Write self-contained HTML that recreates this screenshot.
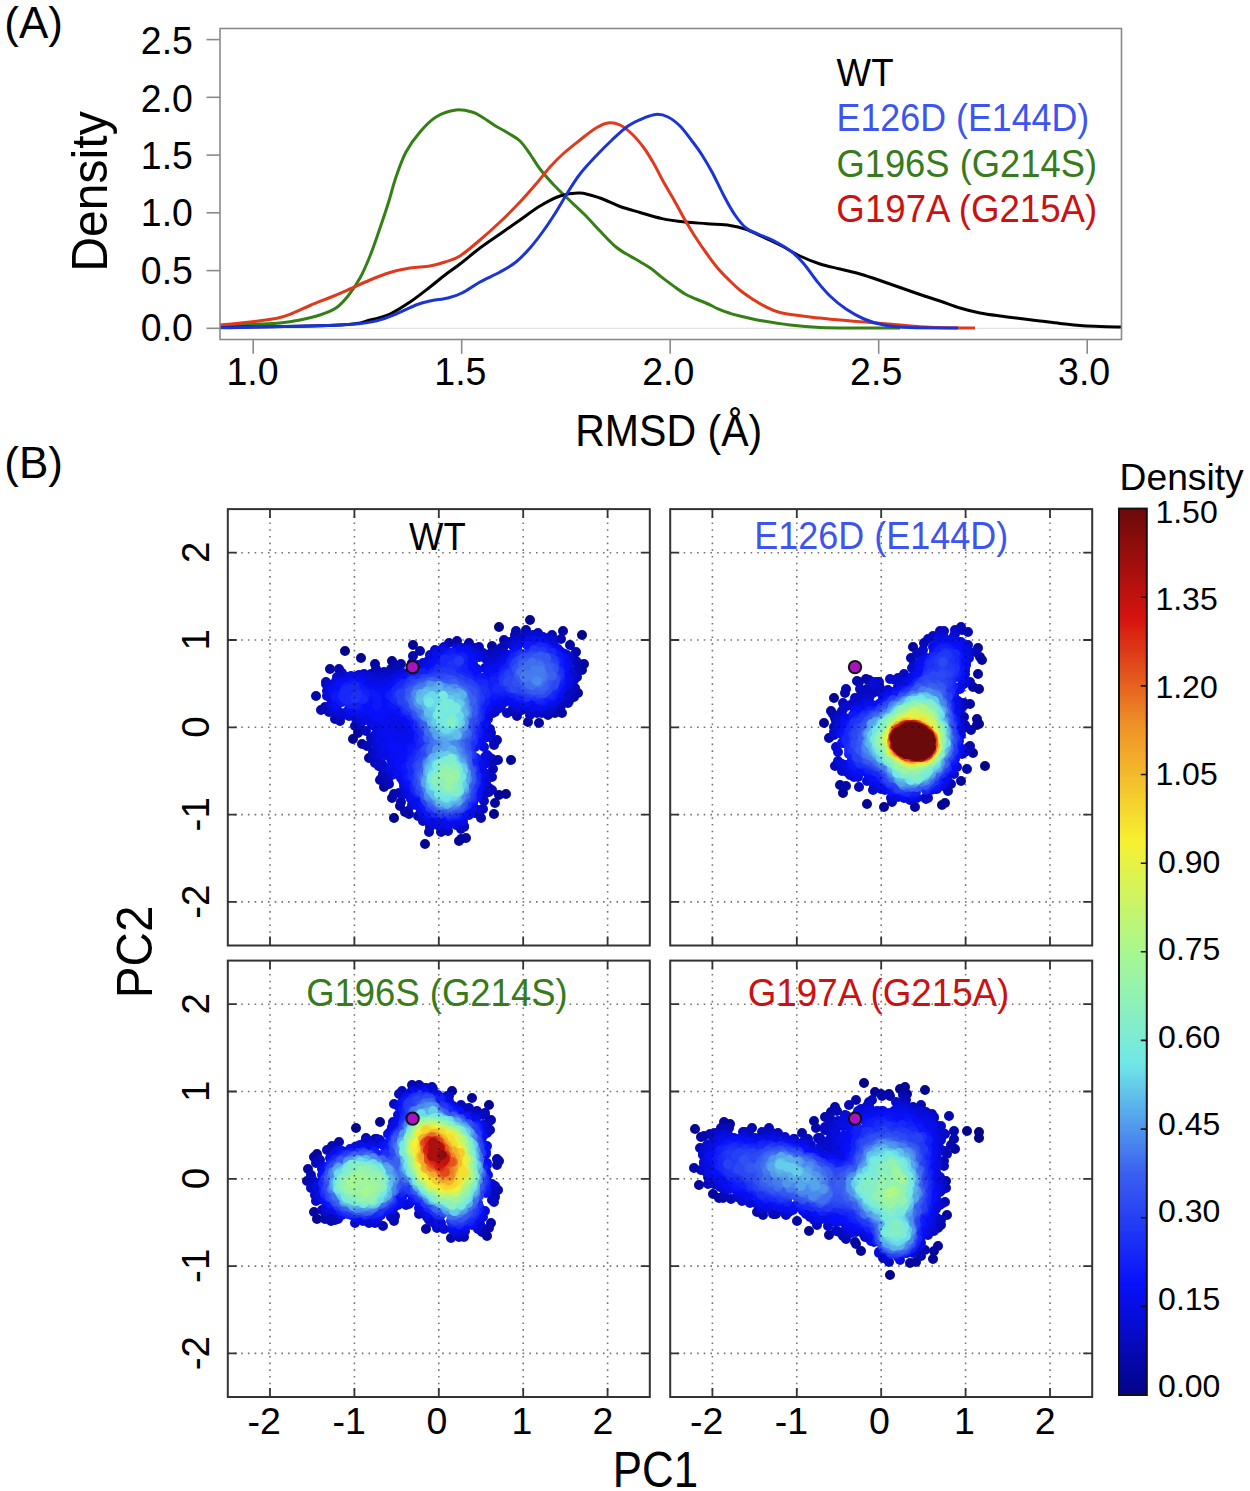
<!DOCTYPE html>
<html><head><meta charset="utf-8"><title>Figure</title>
<style>html,body{margin:0;padding:0;background:#fff;width:1250px;height:1491px;overflow:hidden}svg{display:block}text{font-family:"Liberation Sans",sans-serif}</style>
</head><body>
<svg width="1250" height="1491" viewBox="0 0 1250 1491" font-family="Liberation Sans, sans-serif"><rect x="0" y="0" width="1250" height="1491" fill="#fff"/>
<line x1="220.0" y1="328.3" x2="1121.5" y2="328.3" stroke="#e4e4e4" stroke-width="1.2"/>
<path d="M220.0 325.5C226.7 325.2 250.0 324.4 260.0 324.0C270.0 323.6 273.3 323.7 280.0 323.0C286.7 322.3 293.3 321.3 300.0 320.0C306.7 318.7 314.0 317.0 320.0 315.0C326.0 313.0 331.3 311.2 336.0 308.0C340.7 304.8 344.0 301.0 348.0 296.0C352.0 291.0 356.3 284.7 360.0 278.0C363.7 271.3 366.7 264.3 370.0 256.0C373.3 247.7 377.0 236.7 380.0 228.0C383.0 219.3 385.3 212.5 388.0 204.0C390.7 195.5 393.0 185.7 396.0 177.0C399.0 168.3 402.0 159.5 406.0 152.0C410.0 144.5 415.0 137.8 420.0 132.0C425.0 126.2 430.0 120.7 436.0 117.0C442.0 113.3 450.0 110.8 456.0 110.0C462.0 109.2 467.7 110.8 472.0 112.0C476.3 113.2 478.3 114.8 482.0 117.0C485.7 119.2 489.7 122.3 494.0 125.0C498.3 127.7 503.7 130.3 508.0 133.0C512.3 135.7 516.3 137.5 520.0 141.0C523.7 144.5 526.7 149.3 530.0 154.0C533.3 158.7 536.3 164.2 540.0 169.0C543.7 173.8 547.7 178.3 552.0 183.0C556.3 187.7 560.7 191.8 566.0 197.0C571.3 202.2 578.3 208.3 584.0 214.0C589.7 219.7 594.7 225.5 600.0 231.0C605.3 236.5 611.0 242.8 616.0 247.0C621.0 251.2 626.0 253.6 630.0 256.0C634.0 258.4 636.5 259.6 640.0 261.7C643.5 263.8 647.3 265.9 651.0 268.5C654.7 271.1 658.2 274.4 662.0 277.4C665.8 280.4 670.2 283.6 674.0 286.4C677.8 289.2 681.3 291.9 685.0 294.0C688.7 296.1 692.3 297.4 696.0 299.0C699.7 300.6 703.3 301.9 707.0 303.5C710.7 305.1 714.2 307.2 718.0 308.8C721.8 310.4 726.2 312.1 730.0 313.3C733.8 314.6 736.0 315.1 741.0 316.3C746.0 317.5 751.8 319.1 760.0 320.5C768.2 321.9 780.0 323.8 790.0 325.0C800.0 326.2 808.3 327.0 820.0 327.5C831.7 328.0 846.7 327.9 860.0 328.0C873.3 328.1 893.3 328.0 900.0 328.0" fill="none" stroke="#348015" stroke-width="3" stroke-linejoin="round"/>
<path d="M220.0 327.5C240.0 327.1 315.0 326.2 340.0 325.0C365.0 323.8 361.7 321.8 370.0 320.0C378.3 318.2 383.3 317.0 390.0 314.0C396.7 311.0 403.3 306.5 410.0 302.0C416.7 297.5 424.2 291.5 430.0 287.0C435.8 282.5 440.0 278.8 445.0 275.0C450.0 271.2 454.2 268.5 460.0 264.0C465.8 259.5 473.3 253.0 480.0 248.0C486.7 243.0 493.3 238.7 500.0 234.0C506.7 229.3 513.3 224.7 520.0 220.0C526.7 215.3 533.3 210.0 540.0 206.0C546.7 202.0 553.3 198.2 560.0 196.0C566.7 193.8 573.3 192.7 580.0 193.0C586.7 193.3 593.3 195.8 600.0 198.0C606.7 200.2 613.3 204.1 620.0 206.5C626.7 208.9 633.0 210.5 640.0 212.5C647.0 214.5 654.5 217.0 662.0 218.6C669.5 220.2 677.5 221.2 685.0 222.0C692.5 222.8 699.5 223.1 707.0 223.7C714.5 224.3 723.5 224.5 730.0 225.4C736.5 226.3 740.5 227.4 746.0 229.3C751.5 231.2 757.3 234.4 763.0 237.0C768.7 239.6 773.8 241.8 780.0 245.0C786.2 248.2 793.3 252.8 800.0 256.0C806.7 259.2 813.3 261.8 820.0 264.0C826.7 266.2 833.3 267.3 840.0 269.0C846.7 270.7 853.3 272.1 860.0 274.0C866.7 275.9 873.3 278.2 880.0 280.5C886.7 282.8 893.3 285.2 900.0 287.5C906.7 289.8 913.3 292.2 920.0 294.5C926.7 296.8 933.3 298.8 940.0 301.0C946.7 303.2 953.3 306.0 960.0 308.0C966.7 310.0 973.3 311.7 980.0 313.0C986.7 314.3 993.3 315.1 1000.0 316.0C1006.7 316.9 1013.3 317.6 1020.0 318.4C1026.7 319.2 1033.3 320.2 1040.0 321.0C1046.7 321.8 1053.3 322.7 1060.0 323.4C1066.7 324.1 1073.3 324.9 1080.0 325.4C1086.7 325.9 1093.2 326.1 1100.0 326.4C1106.8 326.7 1117.5 326.9 1121.0 327.0" fill="none" stroke="#000" stroke-width="3" stroke-linejoin="round"/>
<path d="M220.0 325.0C225.0 324.5 240.7 323.1 250.0 322.0C259.3 320.9 269.0 319.9 276.0 318.5C283.0 317.1 286.3 315.7 292.0 313.5C297.7 311.3 303.7 308.2 310.0 305.5C316.3 302.8 323.3 300.2 330.0 297.5C336.7 294.8 343.3 291.9 350.0 289.0C356.7 286.1 363.3 282.8 370.0 280.0C376.7 277.2 383.3 274.5 390.0 272.5C396.7 270.5 403.3 269.1 410.0 268.0C416.7 266.9 424.2 267.0 430.0 266.0C435.8 265.0 440.0 263.7 445.0 262.0C450.0 260.3 454.2 259.7 460.0 256.0C465.8 252.3 473.3 245.7 480.0 240.0C486.7 234.3 493.3 228.3 500.0 222.0C506.7 215.7 514.0 208.3 520.0 202.0C526.0 195.7 531.0 189.8 536.0 184.0C541.0 178.2 545.3 172.2 550.0 167.0C554.7 161.8 559.0 157.5 564.0 153.0C569.0 148.5 574.7 144.2 580.0 140.0C585.3 135.8 591.3 130.8 596.0 128.0C600.7 125.2 604.0 123.5 608.0 123.0C612.0 122.5 616.0 123.2 620.0 125.0C624.0 126.8 628.0 130.2 632.0 134.0C636.0 137.8 640.3 143.0 644.0 148.0C647.7 153.0 650.8 158.5 654.0 164.0C657.2 169.5 659.7 175.0 663.0 181.0C666.3 187.0 670.3 193.5 674.0 200.0C677.7 206.5 681.3 213.7 685.0 220.0C688.7 226.3 692.3 232.3 696.0 238.0C699.7 243.7 703.3 248.9 707.0 254.0C710.7 259.1 714.2 264.0 718.0 268.5C721.8 273.0 726.2 277.2 730.0 281.0C733.8 284.8 737.3 288.1 741.0 291.0C744.7 293.9 748.3 296.3 752.0 298.7C755.7 301.1 758.3 303.1 763.0 305.4C767.7 307.7 772.2 310.6 780.0 312.5C787.8 314.4 800.0 315.8 810.0 317.0C820.0 318.2 830.0 319.1 840.0 320.0C850.0 320.9 860.0 321.6 870.0 322.4C880.0 323.2 890.0 324.2 900.0 325.0C910.0 325.8 917.5 326.7 930.0 327.2C942.5 327.7 967.5 327.9 975.0 328.0" fill="none" stroke="#e0391c" stroke-width="3" stroke-linejoin="round"/>
<path d="M220.0 327.8C240.0 327.3 314.0 326.1 340.0 325.0C366.0 323.9 366.7 322.8 376.0 321.0C385.3 319.2 389.3 316.7 396.0 314.0C402.7 311.3 410.3 307.2 416.0 305.0C421.7 302.8 424.7 302.2 430.0 301.0C435.3 299.8 442.7 299.3 448.0 298.0C453.3 296.7 456.7 295.7 462.0 293.0C467.3 290.3 473.7 285.5 480.0 282.0C486.3 278.5 494.0 275.3 500.0 272.0C506.0 268.7 511.0 266.0 516.0 262.0C521.0 258.0 525.3 253.3 530.0 248.0C534.7 242.7 539.7 236.0 544.0 230.0C548.3 224.0 552.0 218.3 556.0 212.0C560.0 205.7 564.0 198.3 568.0 192.0C572.0 185.7 575.3 180.0 580.0 174.0C584.7 168.0 590.7 161.7 596.0 156.0C601.3 150.3 606.7 145.0 612.0 140.0C617.3 135.0 622.7 129.7 628.0 126.0C633.3 122.3 639.3 119.9 644.0 118.0C648.7 116.1 652.0 114.6 656.0 114.4C660.0 114.2 664.0 115.1 668.0 117.0C672.0 118.9 676.0 122.0 680.0 126.0C684.0 130.0 688.3 136.2 692.0 141.0C695.7 145.8 698.7 149.8 702.0 155.0C705.3 160.2 708.3 165.2 712.0 172.0C715.7 178.8 720.2 188.8 724.0 196.0C727.8 203.2 731.3 209.7 735.0 215.0C738.7 220.3 742.2 224.8 746.0 228.0C749.8 231.2 753.0 231.7 758.0 234.0C763.0 236.3 770.3 239.0 776.0 242.0C781.7 245.0 787.3 248.3 792.0 252.0C796.7 255.7 800.0 259.3 804.0 264.0C808.0 268.7 811.7 274.7 816.0 280.0C820.3 285.3 825.0 291.2 830.0 296.0C835.0 300.8 840.3 305.2 846.0 309.0C851.7 312.8 857.7 316.3 864.0 319.0C870.3 321.7 876.3 323.6 884.0 325.0C891.7 326.4 897.7 327.1 910.0 327.6C922.3 328.1 950.0 327.9 958.0 328.0" fill="none" stroke="#1b34d6" stroke-width="3" stroke-linejoin="round"/>
<rect x="220.0" y="28.5" width="901.5" height="311.0" fill="none" stroke="#8a8a8a" stroke-width="1.6"/>
<line x1="206.5" y1="328.3" x2="220.0" y2="328.3" stroke="#8a8a8a" stroke-width="1.6"/>
<text transform="translate(192.9 340.8) scale(0.970 1)" font-size="38.6" text-anchor="end">0.0</text>
<line x1="206.5" y1="270.6" x2="220.0" y2="270.6" stroke="#8a8a8a" stroke-width="1.6"/>
<text transform="translate(192.9 283.5) scale(0.970 1)" font-size="38.6" text-anchor="end">0.5</text>
<line x1="206.5" y1="212.8" x2="220.0" y2="212.8" stroke="#8a8a8a" stroke-width="1.6"/>
<text transform="translate(192.9 226.2) scale(0.970 1)" font-size="38.6" text-anchor="end">1.0</text>
<line x1="206.5" y1="155.1" x2="220.0" y2="155.1" stroke="#8a8a8a" stroke-width="1.6"/>
<text transform="translate(192.9 168.9) scale(0.970 1)" font-size="38.6" text-anchor="end">1.5</text>
<line x1="206.5" y1="97.3" x2="220.0" y2="97.3" stroke="#8a8a8a" stroke-width="1.6"/>
<text transform="translate(192.9 111.7) scale(0.970 1)" font-size="38.6" text-anchor="end">2.0</text>
<line x1="206.5" y1="39.6" x2="220.0" y2="39.6" stroke="#8a8a8a" stroke-width="1.6"/>
<text transform="translate(192.9 54.4) scale(0.970 1)" font-size="38.6" text-anchor="end">2.5</text>
<line x1="253.2" y1="339.5" x2="253.2" y2="353.8" stroke="#8a8a8a" stroke-width="1.6"/>
<text transform="translate(252.5 385.2) scale(0.980 1)" font-size="38.3" text-anchor="middle">1.0</text>
<line x1="461.7" y1="339.5" x2="461.7" y2="353.8" stroke="#8a8a8a" stroke-width="1.6"/>
<text transform="translate(460.4 385.2) scale(0.980 1)" font-size="38.3" text-anchor="middle">1.5</text>
<line x1="670.2" y1="339.5" x2="670.2" y2="353.8" stroke="#8a8a8a" stroke-width="1.6"/>
<text transform="translate(668.3 385.2) scale(0.980 1)" font-size="38.3" text-anchor="middle">2.0</text>
<line x1="878.7" y1="339.5" x2="878.7" y2="353.8" stroke="#8a8a8a" stroke-width="1.6"/>
<text transform="translate(876.2 385.2) scale(0.980 1)" font-size="38.3" text-anchor="middle">2.5</text>
<line x1="1087.2" y1="339.5" x2="1087.2" y2="353.8" stroke="#8a8a8a" stroke-width="1.6"/>
<text transform="translate(1084.1 385.2) scale(0.980 1)" font-size="38.3" text-anchor="middle">3.0</text>
<text transform="translate(575.21 445.50) scale(0.9440 1)" font-size="43.5">RMSD (&#197;)</text>
<text transform="translate(106.50 271.65) rotate(-90) scale(0.9640 1)" font-size="49.9">Density</text>
<text transform="translate(836.62 85.60) scale(0.9460 1)" font-size="38.7">WT</text>
<text transform="translate(836.53 131.20) scale(0.9280 1)" font-size="38.6" fill="#3d55ee">E126D (E144D)</text>
<text transform="translate(836.38 176.80) scale(0.9400 1)" font-size="38.7" fill="#377b1b">G196S (G214S)</text>
<text transform="translate(836.37 222.40) scale(0.9480 1)" font-size="38.7" fill="#cc1111">G197A (G215A)</text>
<text transform="translate(4.36 38.00) scale(1.0000 1)" font-size="44">(A)</text>
<text transform="translate(4.36 478.00) scale(1.0000 1)" font-size="44">(B)</text>
<g>
<g fill="none" stroke-width="10" stroke-linecap="round"><path d="M345 651h0M582 635h0M499 627h0" stroke="#040487"/><path d="M506 794h0M394 818h0M361 658h0M511 760h0M413 645h0M425 844h0M353 739h0M530 620h0M494 814h0M499 795h0M392 661h0" stroke="#040592"/><path d="M466 838h0M495 803h0M563 631h0M459 841h0M584 664h0M392 798h0M375 664h0M384 787h0M461 839h0M528 722h0M539 723h0M380 780h0M330 669h0M492 646h0M362 744h0M582 670h0M400 806h0M369 758h0M578 693h0M562 713h0M358 733h0" stroke="#05069e"/><path d="M405 812h0M413 656h0M504 640h0M321 710h0M395 665h0M498 760h0M381 779h0M516 631h0M576 652h0M420 651h0M394 794h0M429 832h0M401 664h0M481 818h0M517 716h0M316 696h0M574 697h0M457 641h0M401 802h0M409 814h0M339 669h0M376 669h0M391 669h0M568 703h0M548 715h0M577 662h0M526 630h0M570 645h0M469 643h0M555 713h0M408 811h0M335 719h0" stroke="#0508aa"/><path d="M373 759h0M569 701h0M492 790h0M507 713h0M494 761h0M340 721h0M367 746h0M493 769h0M479 647h0M515 635h0M577 670h0M570 697h0M340 720h0M514 712h0M389 784h0M497 740h0M515 636h0M325 709h0M491 653h0M384 776h0M496 741h0M492 777h0M494 745h0M397 668h0M497 652h0M501 648h0M388 781h0M355 726h0M461 829h0M384 672h0M399 793h0M502 648h0M577 677h0M376 763h0M575 688h0M575 660h0M483 809h0M492 759h0M375 763h0M561 639h0M374 758h0M449 643h0M325 707h0M561 706h0M492 763h0M383 774h0M489 792h0M489 788h0M493 761h0M552 635h0M412 663h0M464 827h0M329 712h0M494 742h0M377 672h0M384 773h0M373 755h0M469 645h0M530 715h0M379 766h0M376 760h0M441 832h0M383 673h0M503 648h0M576 677h0M526 634h0M448 831h0M565 701h0M526 633h0" stroke="#0609b5"/><path d="M510 642h0M378 764h0M497 654h0M379 766h0M538 633h0M382 673h0M497 655h0M430 827h0M378 674h0M371 674h0M482 653h0M574 678h0M521 710h0M326 682h0M525 634h0M487 792h0M373 752h0M326 684h0M484 801h0M342 673h0M495 656h0M551 711h0M389 674h0M333 712h0M509 643h0M383 675h0M574 680h0M464 826h0M483 653h0M380 765h0M360 725h0M475 648h0M476 813h0M423 821h0M542 713h0M379 764h0M513 708h0M570 690h0M486 793h0M567 695h0M489 757h0M342 673h0M366 731h0M567 696h0M418 816h0M537 713h0M522 710h0M340 716h0M519 638h0M371 738h0M491 733h0M364 674h0M383 768h0" stroke="#060ac0"/><path d="M535 711h0M386 678h0M376 756h0M488 660h0M475 813h0M536 712h0M495 712h0M486 779h0M490 729h0M337 677h0M504 653h0M332 710h0M373 676h0M478 810h0M383 677h0M486 782h0M382 764h0M435 650h0M539 710h0M493 713h0M533 635h0M486 659h0M487 755h0M486 760h0M439 826h0M356 719h0M405 794h0M368 676h0M418 665h0M512 644h0M570 659h0M340 715h0M540 710h0M388 678h0M444 647h0M548 638h0M567 655h0M573 675h0M357 719h0M501 706h0M486 774h0M456 825h0M476 810h0M392 775h0M363 675h0M496 661h0M530 710h0M396 675h0M366 676h0M493 711h0M543 637h0M570 684h0M483 657h0M447 826h0M367 677h0M427 819h0M500 708h0M412 805h0M486 782h0M572 674h0M375 742h0M357 676h0M359 675h0M567 656h0M526 638h0M484 779h0M356 719h0M372 679h0M430 655h0M553 705h0M488 732h0M572 676h0M531 637h0M423 663h0M562 698h0M377 749h0M327 691h0" stroke="#060bcc"/><path d="M347 715h0M479 655h0M485 764h0M484 773h0M377 747h0M433 824h0M518 707h0M363 721h0M553 641h0M391 772h0M517 642h0M362 677h0M349 716h0M513 646h0M474 652h0M488 737h0M554 642h0M375 735h0M379 680h0M503 658h0M403 673h0M394 774h0M497 707h0M429 821h0M425 663h0M419 667h0M490 665h0M407 792h0M485 757h0M530 707h0M358 676h0M330 685h0M404 786h0M560 698h0M566 660h0M406 792h0M364 678h0M479 657h0M498 705h0M381 755h0M397 676h0M377 735h0M327 696h0M392 679h0M555 702h0M345 713h0M422 666h0M533 639h0M485 737h0M338 711h0M428 661h0M389 769h0M406 792h0M361 718h0M413 802h0M496 706h0M439 824h0M439 824h0M455 823h0M565 654h0M527 707h0M552 705h0M554 701h0M423 814h0M378 736h0M462 648h0M482 784h0M569 678h0M569 667h0M395 730h0M497 663h0M411 799h0M407 790h0M424 666h0M331 704h0M488 719h0M431 820h0M364 679h0M378 746h0M374 726h0M377 742h0M457 648h0M469 815h0M485 727h0M550 643h0M421 811h0M336 681h0M382 727h0M357 678h0M464 649h0M468 649h0M527 640h0M332 703h0M419 668h0M421 812h0M348 677h0M484 747h0M532 707h0M482 775h0M485 668h0M404 732h0M393 723h0M379 682h0M465 649h0M513 703h0" stroke="#070cd8"/><path d="M351 676h0M552 703h0M448 825h0M543 706h0M463 821h0M476 655h0M568 681h0M396 725h0M394 723h0M411 798h0M451 823h0M380 740h0M379 729h0M379 733h0M367 682h0M494 667h0M416 805h0M385 755h0M476 657h0M553 701h0M459 821h0M402 719h0M423 812h0M558 649h0M388 682h0M361 679h0M517 645h0M392 728h0M534 707h0M568 678h0M388 723h0M486 723h0M482 776h0M541 707h0M396 770h0M482 770h0M396 771h0M561 652h0M566 661h0M369 680h0M377 683h0M369 720h0M517 702h0M335 707h0M525 643h0M371 723h0M513 703h0M403 722h0M503 702h0M440 823h0M441 650h0M394 727h0M409 728h0M378 724h0M518 645h0M407 722h0M470 813h0M472 809h0M404 725h0M390 725h0M531 642h0M481 785h0M505 702h0M546 705h0M404 730h0M436 654h0M425 813h0M490 668h0M382 741h0M401 778h0M408 787h0M355 679h0M385 724h0M482 766h0M556 649h0M386 754h0M379 683h0M411 795h0M398 773h0M537 706h0M380 738h0M525 643h0M391 765h0M389 682h0M385 684h0M392 728h0M397 728h0M483 735h0M396 680h0M439 653h0M506 659h0M436 655h0M383 749h0M393 736h0M397 771h0M442 652h0M512 701h0M393 729h0M357 714h0M379 721h0M471 671h0M467 652h0M394 725h0M544 704h0M382 722h0M426 815h0M382 731h0M468 813h0M524 704h0M469 810h0M407 734h0M530 641h0M356 680h0M361 680h0M545 643h0M401 678h0M565 659h0M349 710h0M392 727h0M385 720h0M391 717h0M396 768h0M377 685h0M403 735h0M395 734h0M397 679h0M403 781h0M364 681h0M401 775h0M395 737h0M360 713h0M566 685h0M406 721h0M391 759h0M543 705h0M477 669h0M416 802h0M389 741h0M509 655h0M368 684h0M410 724h0M388 720h0M392 744h0M481 777h0M363 715h0M414 800h0M479 773h0M511 700h0M390 752h0M411 736h0M353 680h0M473 667h0M352 711h0M392 721h0" stroke="#070ee3"/><path d="M490 671h0M395 716h0M388 744h0M405 742h0M479 788h0M361 680h0M398 772h0M564 662h0M384 722h0M563 658h0M482 740h0M386 745h0M535 641h0M411 735h0M511 699h0M388 717h0M467 651h0M383 690h0M395 739h0M432 663h0M567 664h0M336 705h0M332 689h0M392 732h0M481 742h0M523 702h0M477 671h0M337 704h0M338 685h0M559 694h0M381 718h0M383 720h0M392 714h0M532 643h0M426 813h0M494 701h0M517 649h0M519 698h0M459 650h0M473 664h0M501 665h0M541 705h0M421 808h0M416 671h0M411 724h0M334 688h0M425 670h0M398 740h0M542 641h0M362 712h0M564 660h0M419 806h0M484 724h0M561 690h0M414 798h0M398 767h0M386 687h0M482 724h0M390 735h0M479 788h0M494 701h0M527 644h0M412 792h0M356 681h0M551 700h0M427 814h0M408 718h0M494 701h0M445 652h0M374 689h0M402 745h0M514 700h0M409 724h0M543 704h0M409 741h0M385 733h0M396 712h0M403 716h0M491 673h0M386 715h0M496 668h0M400 770h0M559 694h0M398 753h0M501 666h0M400 737h0M498 699h0M393 759h0M459 818h0M342 682h0M400 679h0M388 730h0M437 657h0M475 674h0M476 797h0M537 703h0M410 788h0M394 751h0M478 795h0M456 818h0M489 671h0M394 759h0M389 688h0M392 686h0M378 718h0M402 739h0M428 816h0M470 655h0M338 703h0M516 698h0M350 709h0M480 738h0M349 709h0M379 690h0M333 689h0M395 737h0M557 652h0M548 702h0M529 642h0M529 643h0M399 765h0M480 777h0M430 665h0M390 686h0M405 747h0M390 687h0M394 739h0M485 711h0M394 742h0M404 744h0M373 715h0M396 747h0M479 763h0M448 653h0M379 716h0M488 708h0M504 664h0M334 693h0M473 659h0M387 732h0M487 706h0M406 744h0M551 700h0M394 750h0M400 744h0M487 705h0M401 764h0M397 763h0M339 691h0M472 659h0M394 755h0M397 716h0M396 710h0M352 682h0M490 672h0M376 688h0M387 719h0M378 715h0M565 666h0M384 701h0M499 699h0M333 693h0M464 653h0M401 680h0M406 677h0M495 674h0M459 651h0M510 698h0M411 748h0M479 784h0M390 713h0M413 730h0M415 739h0M492 702h0M427 813h0M435 665h0M340 684h0M560 689h0M397 745h0M391 713h0M400 682h0M385 690h0M395 754h0M399 739h0M497 672h0M483 713h0M559 692h0M475 672h0M418 672h0M398 759h0M397 754h0M391 686h0M466 670h0M418 800h0M413 792h0M385 690h0M473 804h0M405 749h0M389 744h0M536 703h0M479 765h0M376 691h0M401 755h0M434 665h0M395 683h0M475 796h0M496 692h0M565 676h0M483 714h0M393 748h0M397 742h0M386 713h0M479 737h0M469 661h0M484 725h0M415 736h0M449 653h0M371 710h0M496 672h0M390 708h0M487 704h0M504 695h0M393 711h0M403 715h0M412 721h0M382 708h0M405 750h0M506 664h0M403 679h0M372 692h0M460 816h0M470 660h0M472 806h0M477 797h0M505 664h0M397 750h0M393 741h0M386 711h0M473 673h0M401 747h0M363 709h0M372 690h0M407 714h0M474 675h0M391 685h0M395 743h0M374 713h0M535 643h0M383 699h0M454 652h0M562 662h0M407 748h0" stroke="#080fee"/><path d="M369 691h0M483 711h0M368 711h0M371 692h0M397 709h0M561 657h0M478 775h0M562 681h0M394 685h0M517 698h0M473 671h0M422 672h0M466 661h0M348 683h0M485 677h0M469 664h0M352 682h0M492 699h0M355 707h0M380 716h0M337 691h0M358 709h0M564 670h0M375 700h0M471 659h0M382 713h0M560 687h0M402 750h0M399 747h0M472 802h0M554 652h0M401 758h0M432 669h0M553 650h0M490 676h0M414 743h0M404 770h0M402 755h0M476 792h0M492 698h0M493 689h0M472 674h0M350 682h0M393 705h0M552 698h0M399 764h0M399 711h0M409 748h0M389 699h0M406 774h0M403 713h0M561 664h0M408 776h0M385 691h0M408 782h0M406 777h0M378 715h0M369 690h0M503 692h0M402 760h0M365 708h0M383 696h0M371 703h0M469 659h0M489 677h0M528 702h0M378 711h0M470 804h0M496 696h0M410 752h0M492 697h0M474 800h0M479 679h0M464 813h0M366 690h0M413 675h0M410 751h0M492 692h0M481 679h0M477 795h0M412 751h0M339 688h0M479 733h0M365 705h0M336 699h0M497 696h0M557 691h0M481 715h0M438 816h0M477 743h0M411 753h0M559 689h0M435 667h0M386 703h0M406 749h0M486 706h0M489 674h0M377 693h0M371 700h0M393 690h0M400 710h0M503 693h0M493 695h0M450 818h0M499 694h0M523 699h0M489 700h0M486 677h0M392 747h0M340 685h0M364 708h0M503 671h0M417 744h0M342 688h0M478 784h0M476 765h0M469 663h0M385 705h0M391 701h0M369 696h0M546 698h0M516 697h0M481 717h0M405 755h0M476 746h0M385 709h0M513 655h0M412 747h0M393 704h0M486 700h0M416 746h0M360 685h0M381 714h0M404 751h0M437 662h0M387 691h0M377 708h0M497 693h0M421 674h0M342 686h0M497 696h0M498 696h0M413 724h0M378 708h0M337 692h0M415 676h0M512 659h0M465 672h0M395 708h0M487 700h0M499 692h0M390 699h0M481 716h0M416 726h0M562 671h0M562 680h0M544 647h0M364 708h0M410 758h0M475 796h0M373 703h0M546 698h0M463 660h0M393 706h0M351 706h0M420 744h0M383 712h0M384 709h0M517 652h0M371 696h0M402 752h0M405 714h0M506 695h0M375 706h0M496 695h0M558 691h0M480 715h0M437 666h0M412 749h0M377 707h0M469 805h0M461 654h0M393 692h0M496 694h0M373 705h0M371 708h0M447 658h0M370 701h0M397 686h0M370 703h0M467 663h0M445 659h0M395 688h0M447 817h0M422 803h0M487 692h0M380 700h0M549 698h0M377 707h0M362 689h0M497 679h0M499 692h0M349 684h0M475 743h0M476 763h0M392 704h0M549 649h0M546 646h0M478 678h0M410 773h0M481 716h0M560 683h0M562 666h0M404 711h0M336 696h0M494 681h0M339 696h0M521 697h0" stroke="#0810fa"/><path d="M498 692h0M554 694h0M458 815h0M372 694h0M554 653h0M480 717h0M404 712h0M414 676h0M366 695h0M479 708h0M462 657h0M416 759h0M419 739h0M394 703h0M377 698h0M551 696h0M485 684h0M400 683h0M511 662h0M494 690h0M358 687h0M365 699h0M424 805h0M417 729h0M429 813h0M353 684h0M542 648h0M357 686h0M393 704h0M491 687h0M395 705h0M543 701h0M478 729h0M490 690h0M468 675h0M490 694h0M411 758h0M480 711h0M492 693h0M424 805h0M544 700h0M475 747h0M417 792h0M427 809h0M462 665h0M528 646h0M449 656h0M494 695h0M392 693h0M560 684h0M558 656h0M492 687h0M543 649h0M409 775h0M443 659h0M476 758h0M511 661h0M478 734h0M474 744h0M411 678h0M497 677h0M429 811h0M342 702h0M363 691h0M482 682h0M453 815h0M415 753h0M480 715h0M524 699h0M503 693h0M358 706h0M409 777h0M437 670h0M481 678h0M412 749h0M505 669h0M449 655h0M353 704h0M489 685h0M336 696h0M419 746h0M483 680h0M411 771h0M480 714h0M532 647h0M459 814h0M506 668h0M560 662h0M459 671h0M464 664h0M531 647h0M500 686h0M494 678h0M538 646h0M560 679h0M559 661h0M492 693h0M473 799h0M377 705h0M552 692h0M560 662h0M495 686h0M435 673h0M365 695h0M501 685h0M357 705h0M548 649h0M486 686h0M460 658h0M491 691h0M363 693h0M488 696h0M452 653h0M494 691h0M477 726h0M355 704h0M473 680h0M493 690h0M485 697h0M406 767h0M493 681h0M557 660h0M418 740h0M556 656h0M390 695h0M474 763h0M413 759h0M560 684h0M481 708h0M397 688h0M505 691h0M531 648h0M412 755h0M453 656h0M415 723h0M361 700h0M454 815h0M481 679h0M497 680h0M411 774h0M538 700h0M448 657h0M346 688h0M484 686h0M477 726h0M412 679h0M429 810h0M500 685h0M437 672h0M443 669h0M457 668h0M365 692h0" stroke="#0d18f9"/><path d="M552 653h0M350 704h0M467 675h0M512 693h0M456 668h0M458 659h0M447 668h0M433 672h0M423 673h0M559 681h0M477 776h0M514 657h0M400 701h0M354 687h0M517 656h0M559 671h0M422 750h0M344 691h0M477 683h0M545 648h0M472 800h0M519 696h0M396 697h0M504 687h0M485 702h0M481 709h0M506 689h0M475 782h0M412 759h0M349 698h0M348 694h0M411 716h0M452 657h0M362 694h0M351 700h0M453 658h0M481 690h0M457 814h0M560 676h0M356 704h0M414 785h0M418 793h0M355 687h0M421 734h0M450 816h0M411 715h0M447 669h0M352 688h0M444 665h0M398 692h0M560 670h0M491 690h0M416 753h0M438 673h0M427 676h0M420 741h0M504 671h0M418 757h0M490 691h0M503 685h0M423 737h0M506 684h0M353 703h0M473 762h0M419 722h0M475 785h0M479 682h0M546 695h0M405 710h0M506 690h0M475 770h0M463 668h0M453 669h0M543 698h0M519 658h0M347 687h0M552 654h0M476 682h0M441 667h0M498 681h0M507 689h0M463 658h0M365 694h0M414 786h0M391 696h0M423 676h0M442 665h0M504 672h0M460 812h0M468 678h0M551 693h0M415 790h0M545 697h0M496 685h0M551 653h0M357 692h0M556 688h0M397 691h0M553 658h0M345 689h0M352 696h0M446 665h0M501 691h0M514 659h0M494 690h0M494 681h0M418 792h0M552 695h0M509 667h0M486 694h0M436 673h0M476 730h0M349 700h0M459 661h0M412 774h0M455 815h0M410 711h0M419 736h0M459 658h0M358 697h0M394 694h0M445 665h0M511 662h0M465 806h0M422 753h0M476 783h0M508 690h0M461 668h0M548 652h0M459 673h0M540 700h0M482 703h0M551 692h0M457 669h0M543 651h0M482 688h0" stroke="#1220f8"/><path d="M450 672h0M503 679h0M418 722h0M357 692h0M467 805h0M434 813h0M348 690h0M544 650h0M355 687h0M473 737h0M458 660h0M450 813h0M345 692h0M486 694h0M419 724h0M409 682h0M560 676h0M478 714h0M453 659h0M423 749h0M457 665h0M443 667h0M395 699h0M357 697h0M400 689h0M556 661h0M459 660h0M478 690h0M400 687h0M475 782h0M412 680h0M404 703h0M411 766h0M423 742h0M479 718h0M441 813h0M503 687h0M457 671h0M540 698h0M497 688h0M509 672h0M396 699h0M549 694h0M534 696h0M452 674h0M349 700h0M418 753h0M475 778h0M473 735h0M473 756h0M413 769h0M476 782h0M503 676h0M540 647h0M476 777h0M474 736h0M360 698h0M343 696h0M552 653h0M517 692h0M472 765h0M423 749h0M398 701h0M484 684h0M363 699h0M456 666h0M346 693h0M420 724h0M414 760h0M418 727h0M423 742h0M519 655h0M440 814h0M422 742h0M445 659h0M437 673h0M416 785h0M549 656h0M454 669h0M409 711h0M550 692h0M421 745h0M514 663h0M412 776h0M451 665h0M554 684h0M483 689h0M537 696h0M358 693h0M438 674h0M479 712h0M457 675h0M463 677h0M473 738h0M405 706h0M399 695h0M414 762h0M430 808h0M469 679h0M419 759h0M439 668h0M399 694h0M553 688h0M507 685h0M472 797h0M440 673h0M513 662h0M549 690h0M404 684h0M414 714h0M402 704h0M535 651h0M400 695h0M453 666h0M541 651h0M449 661h0M350 699h0M454 659h0M479 685h0M345 699h0M485 691h0M475 728h0M513 690h0M413 714h0M396 691h0M473 735h0M424 735h0M474 768h0M438 673h0M472 757h0M545 651h0M513 689h0M478 710h0M467 681h0M436 674h0M557 669h0M514 666h0M449 661h0M417 789h0M504 676h0M432 675h0M453 675h0M471 746h0M402 697h0M468 796h0M522 691h0M482 688h0M357 697h0M346 693h0M404 705h0M400 699h0M485 693h0" stroke="#1728f7"/><path d="M557 677h0M419 679h0M409 684h0M407 710h0M455 664h0M417 785h0M402 691h0M551 688h0M477 708h0M533 695h0M473 789h0M472 730h0M522 654h0M416 779h0M357 695h0M535 696h0M476 716h0M419 720h0M440 673h0M479 694h0M417 780h0M398 696h0M469 745h0M414 681h0M474 785h0M480 692h0M418 782h0M472 793h0M559 673h0M455 813h0M476 719h0M422 732h0M415 778h0M534 652h0M520 691h0M444 675h0M483 690h0M357 695h0M421 725h0M477 691h0M437 674h0M539 693h0M401 696h0M410 710h0M467 682h0M517 686h0M504 680h0M508 681h0M448 675h0M527 697h0M418 760h0M475 717h0M450 671h0M423 740h0M422 681h0M511 681h0M507 674h0M413 682h0M440 677h0M441 673h0M529 694h0M406 688h0M415 779h0M471 798h0M479 702h0M418 769h0M449 814h0M416 716h0M467 683h0M450 669h0M511 687h0M427 750h0M480 699h0M431 807h0M473 686h0M528 654h0M477 694h0M355 698h0M411 684h0M535 653h0M473 685h0M470 796h0M508 682h0M473 741h0M478 697h0M414 687h0M407 707h0M419 792h0M554 663h0M419 720h0M556 669h0M544 652h0M476 709h0M408 709h0M402 700h0M422 753h0M544 652h0M452 665h0M433 678h0M510 676h0M512 683h0M528 689h0M403 701h0M470 748h0M539 694h0M472 687h0M477 696h0M417 779h0M422 729h0" stroke="#1c30f6"/><path d="M551 658h0M534 650h0M426 752h0M464 806h0M475 688h0M401 699h0M470 685h0M480 698h0M504 682h0M553 660h0M412 681h0M554 669h0M471 728h0M476 717h0M435 677h0M444 672h0M426 737h0M523 690h0M474 782h0M416 716h0M436 678h0M476 704h0M430 807h0M467 799h0M535 653h0M555 682h0M505 679h0M423 753h0M547 691h0M535 691h0M507 683h0M409 707h0M476 714h0M526 657h0M470 687h0M429 679h0M422 759h0M542 652h0M474 699h0M478 696h0M420 757h0M428 748h0M418 769h0M450 674h0M475 689h0M459 661h0M419 766h0M522 690h0M420 763h0M438 679h0M420 790h0M413 683h0M522 657h0M419 762h0M529 692h0M471 687h0M510 688h0M462 680h0M427 754h0M510 679h0M468 749h0M470 792h0M514 666h0M477 695h0M434 677h0M554 664h0M455 811h0M425 755h0M475 695h0M517 689h0M511 681h0M476 694h0M417 783h0M557 678h0M505 682h0M420 764h0M460 680h0M466 684h0M465 683h0M539 654h0M554 676h0M431 678h0M428 741h0M475 723h0M518 688h0M424 679h0M508 681h0M504 681h0M538 653h0M534 657h0M406 694h0M535 652h0M456 678h0M435 681h0M466 682h0M517 663h0M509 674h0M549 688h0M425 756h0M459 678h0M452 674h0M427 802h0M515 669h0M408 687h0M425 727h0M410 685h0M471 755h0M511 680h0M421 754h0M509 676h0M425 730h0M407 698h0M548 658h0M408 705h0M469 736h0M441 813h0M406 691h0M431 746h0M516 665h0M472 692h0M471 779h0M526 693h0M428 741h0" stroke="#2138f5"/><path d="M516 663h0M437 809h0M471 736h0M531 693h0M462 805h0M420 791h0M515 668h0M471 790h0M408 691h0M419 775h0M419 784h0M522 690h0M454 809h0M471 729h0M539 694h0M473 688h0M554 675h0M425 679h0M546 689h0M468 734h0M509 675h0M475 690h0M518 661h0M518 685h0M433 679h0M469 797h0M412 690h0M533 655h0M519 662h0M510 678h0M438 682h0M419 783h0M470 684h0M425 728h0M429 748h0M438 678h0M464 750h0M551 685h0M476 691h0M448 812h0M421 720h0M521 685h0M412 707h0M471 687h0M554 664h0M541 688h0M431 679h0M522 681h0M464 739h0M460 680h0M474 694h0M418 782h0M535 689h0M545 657h0M522 689h0M472 776h0M408 705h0M402 701h0M427 753h0M475 706h0M516 688h0M473 696h0M548 684h0M429 739h0M512 681h0M429 741h0M409 697h0M447 679h0M551 685h0M426 756h0M464 685h0M405 693h0M418 716h0M425 756h0M473 716h0M462 686h0M465 740h0M466 748h0M427 680h0M474 702h0M514 677h0M469 754h0M449 680h0M400 694h0M521 665h0M451 809h0M427 748h0M474 709h0M469 698h0M475 710h0M418 775h0M467 749h0M553 679h0M432 805h0M441 809h0M465 741h0M451 679h0M539 687h0M545 690h0M425 799h0M469 738h0M409 690h0M430 751h0M453 682h0M468 697h0M472 696h0M410 692h0M512 676h0M555 682h0M517 670h0M513 676h0M472 717h0M417 766h0M429 804h0M411 692h0M516 680h0M544 660h0M551 671h0M432 738h0M544 687h0M433 806h0M467 750h0M515 680h0M419 770h0M533 661h0M470 732h0M548 689h0M435 679h0M476 698h0M470 773h0M422 792h0" stroke="#2640f4"/><path d="M530 657h0M475 699h0M425 750h0M508 682h0M467 739h0M464 740h0M442 809h0M461 808h0M549 686h0M472 770h0M467 797h0M467 736h0M517 682h0M474 702h0M466 797h0M444 678h0M463 804h0M424 682h0M469 791h0M439 681h0M473 720h0M471 770h0M426 759h0M420 764h0M514 688h0M552 679h0M544 693h0M471 777h0M421 766h0M518 683h0M520 682h0M527 690h0M466 748h0M415 684h0M460 684h0M554 685h0M422 719h0M454 683h0M410 688h0M420 683h0M418 711h0M539 660h0M435 680h0M547 690h0M457 683h0M464 740h0M473 694h0M412 708h0M510 680h0M539 689h0M468 729h0M518 682h0M470 695h0M431 742h0M522 667h0M475 697h0M423 724h0M526 658h0M465 758h0M468 688h0M414 687h0M420 766h0M524 658h0M419 781h0M468 729h0M466 752h0M453 681h0M528 686h0M472 778h0M409 701h0M421 768h0M419 714h0M544 681h0M418 686h0M543 659h0M520 677h0M532 691h0M548 662h0M455 807h0M555 679h0M419 684h0M423 760h0M472 699h0M551 680h0M415 712h0M411 691h0M443 811h0M466 794h0M460 691h0M409 694h0M431 804h0M470 694h0M473 702h0M530 657h0M428 757h0M447 682h0M551 676h0M535 688h0M471 770h0M466 745h0M531 656h0M421 778h0M419 712h0M550 682h0M419 686h0M427 728h0M538 663h0M465 741h0M517 678h0M526 660h0M546 678h0M538 692h0M420 767h0M408 701h0" stroke="#2b48f3"/><path d="M532 689h0M547 682h0M552 670h0M422 773h0M423 780h0M447 683h0M520 666h0M468 695h0M473 714h0M528 659h0M470 776h0M532 684h0M554 669h0M428 748h0M435 741h0M533 688h0M432 740h0M434 739h0M522 673h0M465 798h0M463 734h0M542 684h0M413 689h0M533 687h0M468 690h0M454 681h0M468 730h0M523 659h0M425 782h0M417 688h0M417 715h0M535 663h0M431 735h0M420 773h0M529 660h0M524 662h0M469 695h0M467 729h0M468 720h0M535 689h0M517 682h0M538 660h0M432 739h0M432 752h0M545 682h0M439 808h0M535 686h0M423 766h0M421 716h0M466 745h0M544 662h0M461 685h0M415 689h0M457 808h0M536 688h0M520 667h0M533 658h0M467 727h0M419 713h0M529 671h0M446 682h0M527 673h0M546 658h0M521 682h0M522 661h0M450 683h0M448 680h0M450 680h0M464 755h0M547 677h0M530 676h0M545 687h0M422 683h0M527 666h0M548 675h0M519 679h0M525 663h0M541 687h0M428 738h0M551 667h0M421 766h0M468 725h0M531 688h0M529 663h0M541 656h0M547 683h0M473 692h0M423 719h0M413 701h0M427 685h0M463 802h0M468 764h0M432 682h0M442 809h0M464 737h0M424 714h0M450 810h0M460 747h0M519 681h0M420 684h0M535 689h0M425 764h0M425 767h0M549 671h0M420 776h0M464 799h0M520 670h0M450 809h0M466 737h0M421 787h0M462 752h0M529 683h0M409 697h0M533 688h0M442 684h0M525 688h0M459 689h0M527 660h0M466 797h0M430 800h0M427 728h0M547 681h0M427 796h0M534 664h0M517 669h0M430 682h0M465 689h0M464 759h0M541 684h0M460 803h0M469 702h0M527 665h0M468 770h0M471 714h0M469 706h0M436 808h0" stroke="#3050f2"/><path d="M541 690h0M461 749h0M547 669h0M429 729h0M524 678h0M463 736h0M523 672h0M539 666h0M423 780h0M541 690h0M431 799h0M426 719h0M473 707h0M429 682h0M471 709h0M546 676h0M538 662h0M428 796h0M545 686h0M526 662h0M470 771h0M550 670h0M533 686h0M527 686h0M470 774h0M546 658h0M531 689h0M539 657h0M420 687h0M428 738h0M446 807h0M420 710h0M422 687h0M465 698h0M545 665h0M410 692h0M543 671h0M467 754h0M529 662h0M436 752h0M523 673h0M419 712h0M426 795h0M460 806h0M425 795h0M534 690h0M414 691h0M473 712h0M542 671h0M425 723h0M410 697h0M521 672h0M529 678h0M469 785h0M422 778h0M541 662h0M534 680h0M531 679h0M535 687h0M527 676h0M424 718h0M434 736h0M536 675h0M433 753h0M528 685h0M464 730h0M426 725h0M410 697h0M421 708h0M436 686h0M457 804h0M451 684h0M420 714h0M466 791h0M422 685h0M467 764h0M459 805h0M436 683h0M527 685h0M549 667h0M467 789h0M416 691h0M436 683h0M542 676h0M530 669h0M463 745h0M531 666h0M467 762h0M530 672h0M521 677h0M429 720h0M442 806h0M523 673h0M546 668h0M435 747h0M471 781h0M532 665h0M544 660h0M430 752h0M525 668h0M417 707h0M425 789h0M526 668h0M428 720h0M472 708h0M457 742h0M525 674h0M543 665h0M466 760h0M432 735h0M418 687h0M465 690h0M464 725h0M463 736h0M519 675h0M540 678h0M465 753h0M416 708h0M422 775h0M453 806h0M536 658h0M431 728h0M426 715h0M527 679h0M432 804h0M447 808h0M464 729h0M466 759h0M530 665h0M533 680h0M538 663h0M444 684h0M471 712h0M536 670h0M421 709h0" stroke="#3558f1"/><path d="M425 784h0M464 757h0M543 680h0M468 702h0M539 668h0M426 722h0M452 741h0M439 744h0M452 689h0M535 671h0M415 690h0M425 770h0M523 665h0M433 748h0M429 729h0M527 666h0M463 757h0M428 796h0M543 669h0M455 737h0M539 668h0M439 685h0M437 683h0M423 715h0M427 761h0M461 738h0M416 699h0M539 663h0M525 665h0M456 686h0M431 749h0M458 802h0M438 740h0M525 675h0M420 688h0M467 734h0M455 805h0M467 773h0M469 777h0M543 683h0M467 700h0M461 757h0M434 803h0M460 689h0M423 715h0M535 668h0M458 753h0M472 700h0M422 775h0M468 768h0M528 678h0M448 747h0M414 693h0M433 734h0M539 686h0M461 798h0M466 789h0M411 698h0M416 701h0M459 752h0M457 801h0M453 734h0M431 722h0M460 735h0M531 683h0M462 752h0M467 695h0M533 678h0M547 673h0M545 678h0M433 685h0M533 667h0M454 684h0M531 674h0M467 760h0M424 781h0M423 783h0M432 802h0M524 675h0M461 737h0M536 677h0M470 778h0M441 737h0M422 687h0M439 740h0M531 669h0M461 696h0M460 691h0M426 723h0M431 731h0M417 691h0M432 682h0M539 681h0M547 668h0M542 686h0M413 697h0M470 702h0M547 668h0M465 774h0M434 684h0M435 751h0M467 698h0M447 804h0M418 707h0M435 734h0M443 750h0M461 750h0M455 741h0M467 778h0M462 699h0M453 684h0M423 783h0M466 709h0M442 685h0M414 694h0M461 733h0M464 735h0M435 803h0M418 696h0M527 669h0M465 705h0M420 688h0M446 742h0M441 688h0M459 737h0M439 738h0M456 746h0M525 681h0M425 780h0M546 673h0M536 672h0M533 678h0M425 776h0M424 780h0M430 723h0M444 745h0M426 772h0M426 767h0M547 672h0M438 806h0M435 755h0M534 680h0M536 673h0M524 681h0M420 710h0M420 710h0M440 740h0M552 676h0M533 662h0" stroke="#3a60f0"/><path d="M532 664h0M533 673h0M544 676h0M530 667h0M460 750h0M418 696h0M456 805h0M432 748h0M527 670h0M537 680h0M521 672h0M542 674h0M542 679h0M450 807h0M413 701h0M537 681h0M433 729h0M532 663h0M461 758h0M465 795h0M422 691h0M464 693h0M440 805h0M430 798h0M414 705h0M457 800h0M424 688h0M523 674h0M467 779h0M438 744h0M455 801h0M433 800h0M468 710h0M449 689h0M539 678h0M455 739h0M445 736h0M435 731h0M434 740h0M436 688h0M526 671h0M430 760h0M445 690h0M464 723h0M529 684h0M534 680h0M452 688h0M429 719h0M436 731h0M467 710h0M460 753h0M464 757h0M465 782h0M443 738h0M418 700h0M460 746h0M416 702h0M466 791h0M534 666h0M438 746h0M432 752h0M527 667h0M453 805h0M465 732h0M538 673h0M461 752h0M528 668h0M462 729h0M463 725h0M467 781h0M417 693h0M462 768h0M534 667h0M423 709h0M464 695h0M429 765h0M429 732h0M418 694h0M445 805h0M436 729h0M440 744h0M437 750h0M463 699h0M454 750h0M425 780h0M459 751h0M459 733h0M437 692h0M431 687h0M432 727h0M466 791h0M443 747h0M452 803h0M420 694h0M422 714h0M463 765h0M533 666h0M430 797h0M418 703h0M464 760h0M532 685h0M540 666h0M539 683h0M420 707h0M421 687h0M426 785h0M441 690h0M462 732h0M426 779h0M464 698h0M443 691h0M424 777h0M463 692h0M436 746h0M465 761h0M432 686h0M439 803h0M465 791h0M533 672h0M454 741h0M447 737h0M428 685h0M539 678h0M433 750h0" stroke="#3f6eef"/><path d="M453 804h0M456 741h0M431 762h0M445 749h0M525 677h0M418 695h0M439 798h0M445 739h0M444 799h0M434 725h0M465 779h0M449 804h0M451 742h0M541 671h0M535 678h0M425 778h0M434 720h0M416 699h0M450 694h0M461 757h0M446 740h0M429 764h0M420 704h0M525 677h0M465 767h0M535 670h0M430 795h0M442 804h0M418 703h0M466 772h0M442 737h0M427 789h0M427 764h0M429 797h0M464 699h0M438 750h0M438 746h0M467 715h0M425 698h0M432 797h0M420 709h0M434 757h0M460 759h0M461 799h0M434 687h0M455 803h0M459 691h0M427 780h0M455 729h0M533 678h0M419 695h0M454 801h0M462 762h0M428 771h0M442 804h0M427 693h0M461 799h0M461 726h0M436 733h0M453 740h0M461 735h0M422 705h0M464 719h0M419 691h0M458 752h0M432 725h0M442 689h0M438 753h0M439 735h0M541 677h0M431 761h0M457 699h0M462 701h0M428 701h0M421 707h0M463 725h0M438 741h0M418 690h0M526 675h0M449 689h0M447 738h0M422 699h0M438 803h0M457 803h0M449 750h0M429 685h0M463 777h0M463 720h0M452 742h0M460 702h0M431 768h0M454 738h0M463 791h0M459 728h0M436 801h0M458 755h0M443 805h0M445 692h0M433 686h0M434 693h0M425 688h0M434 726h0M429 762h0M452 744h0M450 697h0" stroke="#457bee"/><path d="M432 762h0M444 749h0M435 690h0M462 697h0M435 692h0M453 689h0M466 712h0M537 681h0M429 794h0M429 717h0M427 693h0M437 800h0M426 784h0M445 743h0M451 736h0M423 706h0M423 698h0M443 746h0M435 688h0M425 716h0M448 731h0M430 714h0M451 735h0M439 723h0M437 799h0M462 759h0M426 782h0M453 740h0M450 745h0M431 708h0M442 739h0M459 725h0M459 732h0M429 764h0M416 694h0M452 697h0M434 795h0M449 731h0M460 796h0M448 754h0M446 732h0M465 783h0M460 727h0M443 693h0M445 688h0M455 731h0M459 797h0M461 700h0M437 732h0M439 734h0M430 717h0M463 707h0M458 751h0M447 802h0M465 702h0M437 692h0M454 700h0M439 803h0M445 799h0M426 694h0M430 712h0M453 753h0M455 689h0M424 701h0M448 691h0M452 751h0M442 804h0M436 755h0M466 777h0M454 695h0M429 773h0M465 708h0M450 692h0M438 691h0M440 732h0M430 771h0M454 803h0M460 699h0M467 779h0M462 763h0M449 752h0M456 733h0M432 795h0M418 701h0M429 795h0M464 714h0M455 747h0M463 701h0M429 765h0M434 727h0M427 712h0M438 730h0M449 693h0M446 745h0M456 727h0M436 690h0M447 690h0M439 729h0M458 692h0M451 738h0M443 732h0M445 749h0M424 699h0M456 736h0M443 733h0M433 691h0M461 797h0M453 734h0M459 694h0M432 724h0M466 709h0M431 688h0M432 709h0M424 706h0M458 728h0M447 751h0M439 691h0M443 756h0M418 696h0M462 701h0M447 742h0M463 717h0M464 785h0M454 727h0M460 703h0M423 699h0M430 688h0" stroke="#4a89ee"/><path d="M440 734h0M430 696h0M457 799h0M436 797h0M423 704h0M432 793h0M462 714h0M437 728h0M426 780h0M446 739h0M433 724h0M428 778h0M464 707h0M439 732h0M430 697h0M431 783h0M431 686h0M420 701h0M437 760h0M435 757h0M421 698h0M456 757h0M441 734h0M442 702h0M438 692h0M463 785h0M436 725h0M445 700h0M456 722h0M457 756h0M437 750h0M420 704h0M421 702h0M440 800h0M436 698h0M428 698h0M451 735h0M436 797h0M462 770h0M444 736h0M439 801h0M443 736h0M462 784h0M430 791h0M449 693h0M439 758h0M455 752h0M430 762h0M436 701h0M432 701h0M443 735h0M463 706h0M462 763h0M434 795h0M424 703h0M447 734h0M464 790h0M449 696h0M437 719h0M442 698h0M440 725h0M425 698h0M422 695h0M433 719h0M427 717h0M463 704h0M466 773h0M464 722h0M456 697h0M435 716h0M428 767h0M464 775h0M463 727h0M429 783h0M453 759h0M427 700h0M457 799h0M451 693h0M428 778h0M419 703h0M445 745h0M437 735h0M444 693h0M458 700h0M439 796h0M461 724h0M458 701h0M458 712h0M434 729h0M455 730h0M454 733h0M459 724h0M452 696h0M460 694h0M433 722h0M461 714h0M463 787h0M428 715h0M441 702h0M455 700h0M463 772h0M438 798h0M459 721h0M428 771h0M454 699h0M461 762h0M462 727h0M453 752h0M461 786h0" stroke="#5096ed"/><path d="M437 720h0M442 727h0M433 695h0M442 734h0M429 691h0M437 723h0M461 713h0M446 751h0M438 696h0M434 726h0M432 711h0M465 778h0M464 785h0M438 757h0M430 712h0M431 771h0M454 699h0M457 715h0M455 758h0M465 780h0M446 750h0M457 759h0M452 754h0M431 717h0M434 763h0M452 695h0M444 754h0M426 783h0M461 787h0M439 693h0M439 686h0M441 692h0M455 708h0M453 797h0M440 691h0M450 734h0M449 691h0M459 717h0M454 792h0M459 712h0M444 701h0M441 758h0M431 696h0M438 735h0M452 798h0M437 793h0M432 769h0M427 699h0M459 717h0M443 720h0M448 797h0M448 696h0M457 729h0M458 693h0M458 726h0M432 691h0M447 747h0M420 698h0M449 803h0M455 725h0M458 701h0M459 703h0M426 700h0M435 715h0M433 721h0M461 714h0M429 767h0M449 725h0M453 697h0M423 695h0M445 755h0M432 762h0M461 709h0M435 711h0M448 751h0M446 730h0M457 724h0M434 719h0M452 700h0M435 722h0M438 691h0M425 699h0M444 728h0M445 738h0M459 793h0M433 697h0M463 710h0M436 720h0M427 691h0M425 702h0M432 769h0M428 773h0M435 692h0M455 700h0M438 697h0M432 792h0M454 799h0M443 753h0M436 714h0M448 751h0M435 729h0M444 733h0M462 787h0M424 702h0M451 794h0M460 762h0M432 769h0M458 713h0M438 709h0M443 753h0M427 780h0M442 733h0M460 769h0M437 794h0M444 800h0M455 799h0M453 706h0M461 722h0M436 714h0M458 801h0M437 697h0M434 707h0M432 702h0M448 802h0M461 768h0" stroke="#55a4ec"/><path d="M426 699h0M430 787h0M441 703h0M451 729h0M456 798h0M436 693h0M433 718h0M421 694h0M457 713h0M462 712h0M455 757h0M443 798h0M429 714h0M444 695h0M462 783h0M445 708h0M433 692h0M445 711h0M440 802h0M441 729h0M447 697h0M452 750h0M431 788h0M448 701h0M451 736h0M449 719h0M453 704h0M424 698h0M451 724h0M441 695h0M454 697h0M450 723h0M443 756h0M451 710h0M450 795h0M437 723h0M435 718h0M445 729h0M430 698h0M434 718h0M462 695h0M461 704h0M452 720h0M439 697h0M452 797h0M450 801h0M446 711h0M449 800h0M462 777h0M464 713h0M455 795h0M433 758h0M459 708h0M441 715h0M428 692h0M460 783h0M447 729h0M427 707h0M462 768h0M453 756h0M431 789h0M462 782h0M460 787h0M463 767h0M444 723h0M457 702h0M457 774h0M456 722h0M461 706h0M438 712h0M455 705h0M461 717h0M454 702h0M437 714h0M439 761h0M439 690h0M436 759h0M437 758h0M454 723h0M430 773h0M447 804h0M432 722h0M438 706h0M438 792h0M450 757h0M432 709h0M450 696h0M451 696h0M446 698h0M458 711h0M444 710h0M455 715h0M435 699h0M449 704h0M439 710h0M431 771h0M428 707h0M439 765h0M433 769h0M451 701h0M451 760h0M453 700h0M445 798h0M440 705h0M450 720h0M436 762h0M464 787h0M454 709h0M454 722h0" stroke="#5ab2eb"/><path d="M434 793h0M442 758h0M444 697h0M457 735h0M443 697h0M454 722h0M459 720h0M452 708h0M462 768h0M434 699h0M432 709h0M447 800h0M453 721h0M456 762h0M431 790h0M458 709h0M451 799h0M441 799h0M448 801h0M453 704h0M429 704h0M458 791h0M435 795h0M461 771h0M434 700h0M454 713h0M452 759h0M440 704h0M446 718h0M459 770h0M447 756h0M456 721h0M444 732h0M459 790h0M436 766h0M450 722h0M429 704h0M438 698h0M432 713h0M462 785h0M439 765h0M432 767h0M437 796h0M445 714h0M430 769h0M444 727h0M462 777h0M435 708h0M448 731h0M430 773h0M445 795h0M437 701h0M440 697h0M460 777h0M421 700h0M456 797h0M436 714h0M460 777h0M450 705h0M430 781h0M442 700h0M440 718h0M462 771h0M447 711h0M426 694h0M450 708h0M441 758h0M441 761h0M453 727h0M453 713h0M458 769h0M456 698h0M459 788h0M458 781h0M442 702h0M458 787h0M450 795h0M451 710h0M435 762h0M453 719h0M442 703h0M461 785h0M456 796h0M429 712h0M440 755h0M458 791h0M438 796h0M447 731h0M435 715h0M444 732h0M446 756h0M457 794h0M449 726h0M455 760h0M444 723h0" stroke="#60bfea"/><path d="M456 794h0M463 771h0M461 768h0M455 726h0M458 775h0M456 764h0M456 716h0M439 700h0M447 729h0M458 790h0M444 757h0M449 795h0M444 713h0M450 729h0M457 788h0M454 792h0M431 783h0M453 724h0M452 714h0M445 762h0M439 701h0M446 720h0M436 774h0M453 708h0M440 708h0M432 779h0M450 712h0M462 784h0M444 707h0M458 767h0M450 700h0M431 786h0M457 767h0M444 699h0M434 785h0M440 727h0M442 725h0M447 785h0M460 775h0M453 712h0M450 791h0M442 720h0M447 723h0M439 763h0M436 722h0M433 770h0M448 717h0M432 700h0M449 757h0M431 706h0M443 702h0M443 760h0M451 708h0M447 720h0M432 703h0M454 725h0M437 715h0M450 715h0M454 715h0M442 796h0M447 722h0M450 794h0M457 717h0M437 701h0M456 777h0M446 725h0M442 796h0M440 795h0M442 712h0M447 710h0M438 718h0M436 764h0M437 710h0M446 703h0M447 707h0M443 795h0M457 720h0M447 756h0M457 788h0M440 704h0M449 760h0M443 714h0M460 723h0M454 759h0M441 761h0M442 795h0M459 776h0M448 707h0M440 772h0M455 714h0M457 718h0M459 704h0" stroke="#65cdea"/><path d="M438 771h0M448 707h0M444 797h0M447 798h0M443 709h0M458 771h0M459 779h0M441 710h0M446 729h0M451 718h0M448 770h0M432 781h0M453 715h0M446 798h0M451 709h0M449 767h0M439 706h0M439 782h0M443 794h0M449 769h0M454 790h0M451 718h0M457 780h0M457 722h0M444 710h0M432 696h0M454 793h0M451 722h0M432 702h0M436 770h0M454 796h0M455 767h0M449 718h0M428 699h0M448 793h0M445 715h0M444 794h0M453 768h0M449 723h0M437 780h0M442 720h0M451 720h0M455 786h0M452 762h0M447 765h0M451 707h0M443 794h0M441 722h0M446 791h0M430 703h0M451 766h0M446 763h0M442 791h0M456 724h0M438 775h0M440 715h0M459 716h0M437 781h0M434 773h0M435 699h0M458 715h0M459 776h0" stroke="#6bdae9"/><path d="M436 783h0M434 786h0M446 789h0M461 777h0M452 724h0M456 779h0M447 796h0M429 702h0M441 721h0M444 762h0M449 712h0M449 761h0M445 793h0M446 791h0M444 767h0M457 767h0M439 768h0M440 767h0M439 777h0M446 796h0M444 721h0M439 790h0M444 720h0M454 721h0M445 713h0M454 777h0M437 773h0M456 773h0M438 766h0M435 782h0M441 794h0M455 785h0M437 765h0M453 788h0M442 775h0M432 776h0M447 765h0M441 769h0M446 761h0M454 710h0M459 791h0M439 794h0M440 771h0M458 779h0M457 777h0M454 768h0M451 725h0M440 790h0M447 720h0M451 768h0M443 775h0M452 759h0M454 769h0M450 792h0M446 786h0M436 778h0M437 786h0M436 786h0M442 717h0" stroke="#70e8e8"/><path d="M451 715h0M451 786h0M450 704h0M447 761h0M441 781h0M445 781h0M443 713h0M447 770h0M436 786h0M442 767h0M455 779h0M443 696h0M455 769h0M448 709h0M456 708h0M451 761h0M442 713h0M454 767h0M438 715h0M444 764h0M432 779h0M453 791h0M444 780h0M454 764h0M446 706h0M442 783h0M446 714h0M435 778h0M444 776h0M453 778h0M444 712h0M438 786h0M452 778h0M436 781h0M439 783h0M438 768h0M440 710h0M445 769h0M452 783h0M443 706h0M447 722h0M450 787h0M445 777h0M447 789h0M445 788h0M437 774h0M448 790h0" stroke="#76eadf"/><path d="M453 771h0M455 775h0M453 781h0M444 764h0M445 772h0M434 778h0M446 776h0M456 769h0M452 783h0M438 786h0M458 786h0M440 769h0M441 785h0M452 789h0M446 792h0M450 776h0M443 769h0M437 775h0M447 787h0M452 770h0M444 765h0M446 704h0M458 782h0M455 788h0M452 719h0M438 780h0M451 782h0M450 781h0M457 782h0M448 773h0M444 773h0M446 785h0M456 777h0M458 770h0M437 784h0M453 780h0M446 765h0" stroke="#7bebd6"/><path d="M452 778h0M448 767h0M452 774h0M453 788h0M440 778h0M452 782h0M445 788h0M443 778h0M456 792h0M440 787h0M447 763h0M453 773h0M447 784h0M448 767h0M446 768h0M450 780h0M442 766h0M450 789h0M454 771h0M450 768h0M442 780h0M438 774h0M450 781h0M451 759h0M440 779h0M453 777h0M449 761h0M447 768h0M445 790h0M446 769h0M441 764h0M439 781h0M445 774h0M440 782h0" stroke="#81edce"/><path d="M445 773h0M443 783h0M436 779h0M448 770h0M445 779h0M438 780h0M445 785h0M455 781h0M453 787h0M451 722h0M444 770h0M453 767h0M446 771h0M447 785h0M444 777h0M441 780h0M444 772h0M449 783h0M455 786h0" stroke="#86eec5"/><path d="M451 781h0M448 787h0M453 780h0M438 779h0M453 786h0M445 783h0M443 783h0M445 777h0M450 776h0M437 781h0M447 781h0M454 769h0M451 775h0" stroke="#8cf0bc"/><path d="M446 769h0M449 779h0M450 779h0M444 771h0" stroke="#92f2b3"/><path d="M449 773h0M455 777h0M455 774h0M449 786h0M444 775h0" stroke="#97f3aa"/><path d="M450 779h0M450 778h0" stroke="#9df5a2"/></g>
<path d="M270.0 509.1V945.5M227.8 901.9H649.8M354.4 509.1V945.5M227.8 814.6H649.8M438.8 509.1V945.5M227.8 727.3H649.8M523.2 509.1V945.5M227.8 640.0H649.8M607.6 509.1V945.5M227.8 552.7H649.8" stroke="#000" stroke-opacity="0.55" stroke-width="1.6" stroke-dasharray="1.6 5.1" fill="none"/>
<path d="M270.0 509.1v9M270.0 945.5v-9M227.8 901.9h9M649.8 901.9h-9M354.4 509.1v9M354.4 945.5v-9M227.8 814.6h9M649.8 814.6h-9M438.8 509.1v9M438.8 945.5v-9M227.8 727.3h9M649.8 727.3h-9M523.2 509.1v9M523.2 945.5v-9M227.8 640.0h9M649.8 640.0h-9M607.6 509.1v9M607.6 945.5v-9M227.8 552.7h9M649.8 552.7h-9" stroke="#333" stroke-width="1.8" fill="none"/>
<circle cx="412.6" cy="667.1" r="6.2" fill="#a812bf" stroke="#111" stroke-width="2"/>
<rect x="227.8" y="509.1" width="422.0" height="436.4" fill="none" stroke="#333" stroke-width="2"/>
<text transform="translate(409.12 549.60) scale(0.9350 1)" font-size="39">WT</text>
</g>
<g>
<g fill="none" stroke-width="10" stroke-linecap="round"><path d="M985 766h0" stroke="#040487"/><path d="M867 804h0M979 689h0M884 807h0M979 724h0M824 723h0M977 719h0M843 793h0M942 805h0M977 725h0M945 803h0M834 698h0" stroke="#040592"/><path d="M982 660h0M857 681h0M913 647h0M840 785h0M831 711h0M970 704h0M866 679h0M978 674h0M980 657h0M973 753h0M961 781h0M915 807h0M973 687h0M978 648h0" stroke="#05069e"/><path d="M846 689h0M859 682h0M892 802h0M833 714h0M967 769h0M971 730h0M846 786h0M829 738h0M869 680h0M911 658h0M845 693h0M964 705h0M970 746h0M948 791h0" stroke="#0508aa"/><path d="M968 632h0M961 627h0M975 652h0M964 703h0M859 787h0M968 748h0M835 766h0M924 643h0M962 630h0M843 703h0M951 784h0M964 717h0M970 682h0M963 706h0M835 718h0M933 636h0" stroke="#0609b5"/><path d="M928 639h0M917 654h0M904 674h0M860 689h0M919 653h0M866 695h0M873 693h0M940 631h0M855 698h0M926 799h0M965 725h0M836 721h0M873 790h0M862 696h0M880 688h0M901 678h0M966 727h0M891 798h0M866 690h0M914 664h0M944 631h0M965 752h0M955 630h0M861 695h0M834 727h0M910 800h0M898 678h0M925 798h0M838 716h0M928 798h0M867 689h0M875 682h0M901 681h0M834 735h0M870 696h0M842 711h0" stroke="#060ac0"/><path d="M869 697h0M838 719h0M912 668h0M834 732h0M959 708h0M844 708h0M838 761h0M960 711h0M895 680h0M960 704h0M913 669h0M878 682h0M879 682h0M847 706h0M881 693h0M959 709h0M839 763h0M943 634h0M874 787h0M842 771h0M888 690h0M923 650h0M890 679h0M852 704h0M874 683h0M837 729h0M957 767h0M835 730h0M968 645h0M879 684h0M955 634h0M868 699h0M969 654h0M836 747h0M954 774h0M962 723h0M962 754h0M898 686h0M884 694h0M940 635h0M943 786h0M967 650h0M969 658h0M867 781h0M841 764h0M958 701h0M913 669h0M968 653h0M964 684h0M847 772h0" stroke="#060bcc"/><path d="M873 684h0M904 798h0M953 773h0M906 682h0M850 775h0M965 682h0M900 687h0M898 797h0M917 798h0M967 648h0M839 725h0M962 749h0M965 681h0M838 752h0M854 777h0M842 764h0M907 797h0M893 795h0M881 789h0M909 798h0M967 655h0M956 706h0M858 777h0M961 731h0M966 665h0M850 772h0M957 708h0M938 639h0M965 674h0M954 636h0M863 703h0M858 705h0M953 639h0M838 733h0M961 735h0M967 658h0M841 723h0M864 703h0M965 671h0M947 779h0" stroke="#070cd8"/><path d="M960 689h0M937 789h0M956 705h0M913 796h0M945 782h0M890 693h0M961 642h0M945 639h0M911 679h0M966 662h0M956 703h0M872 781h0M872 777h0M871 704h0M921 661h0M893 692h0M883 698h0M884 697h0M965 668h0M960 643h0M955 705h0M959 642h0M912 677h0M888 695h0M965 651h0M955 707h0M937 641h0M845 718h0M965 658h0M919 665h0M911 680h0M956 712h0M933 647h0M962 646h0M959 752h0M961 686h0M846 765h0M852 772h0M888 696h0M946 778h0M914 796h0M940 784h0M940 786h0M963 678h0M855 710h0M923 660h0M852 768h0M848 767h0M945 640h0M947 640h0M953 769h0M950 640h0M940 643h0M865 706h0M908 684h0M935 789h0M885 790h0" stroke="#070ee3"/><path d="M958 644h0M948 641h0M953 765h0M868 774h0M950 770h0M895 693h0M860 772h0M924 660h0M955 712h0M927 658h0M845 723h0M954 764h0M881 703h0M873 778h0M868 706h0M956 642h0M959 741h0M954 642h0M964 667h0M888 697h0M858 772h0M880 784h0M911 682h0M948 641h0M917 674h0M855 710h0M950 642h0M922 664h0M912 795h0M954 761h0M939 643h0M963 666h0M963 669h0M961 676h0M963 653h0M958 646h0M958 752h0M853 767h0M963 661h0M852 766h0M956 690h0M961 678h0M963 669h0M937 648h0M931 790h0M960 651h0M895 694h0M952 699h0M904 795h0M881 703h0M961 674h0M866 770h0M944 780h0M958 749h0M877 706h0M896 694h0M887 699h0M842 743h0M954 695h0" stroke="#080fee"/><path d="M926 664h0M866 772h0M857 770h0M879 704h0M936 786h0M903 690h0M958 744h0M888 699h0M872 772h0M956 649h0M877 778h0M925 668h0M955 759h0M842 734h0M900 793h0M955 719h0M961 672h0M876 706h0M854 765h0M957 649h0M919 674h0M853 717h0M853 715h0M960 676h0M895 695h0M937 649h0M891 791h0M934 652h0M851 764h0M858 768h0M901 691h0M949 769h0M924 665h0M859 711h0M852 765h0M883 703h0M844 743h0M918 679h0M949 647h0M921 671h0M844 731h0M960 668h0M960 667h0M844 737h0M846 725h0M952 715h0M857 715h0M959 662h0M956 725h0M854 764h0M945 646h0M894 696h0M843 742h0M924 673h0M954 720h0" stroke="#0810fa"/><path d="M854 765h0M944 773h0M958 656h0M854 716h0M952 716h0M954 721h0M888 701h0M947 649h0M880 776h0M952 716h0M894 790h0M911 793h0M946 770h0M917 682h0M936 785h0M869 711h0M958 672h0M943 652h0M947 648h0M931 658h0M851 724h0M852 759h0M956 677h0M955 753h0M881 777h0M853 761h0M845 737h0M852 760h0M941 648h0M846 742h0M848 740h0M952 693h0M957 742h0M884 704h0M938 782h0M846 735h0M953 723h0M959 669h0M950 650h0M952 761h0M956 655h0M852 727h0M854 723h0M955 753h0M949 651h0M896 695h0" stroke="#0d18f9"/><path d="M849 754h0M852 755h0M906 691h0M864 765h0M943 649h0M868 769h0M874 771h0M955 737h0M938 652h0M876 771h0M957 740h0M945 649h0M950 708h0M947 699h0M956 674h0M914 686h0M955 739h0M951 690h0M931 663h0M884 780h0M847 738h0M956 740h0M849 729h0M916 792h0M887 704h0M881 776h0M947 650h0M879 773h0M926 790h0M953 686h0M871 711h0M890 702h0M856 761h0M956 738h0M918 683h0M934 657h0M903 791h0M851 728h0M954 749h0M954 662h0M852 726h0M954 655h0M956 663h0M933 782h0M952 755h0M928 668h0M874 712h0M953 722h0M944 653h0M930 786h0M950 705h0M951 687h0M954 742h0" stroke="#1220f8"/><path d="M951 661h0M862 763h0M934 659h0M954 750h0M849 750h0M907 792h0M850 730h0M950 689h0M885 780h0M928 671h0M951 681h0M950 653h0M857 723h0M951 681h0M860 764h0M929 663h0M848 743h0M876 771h0M948 690h0M953 655h0M858 720h0M904 791h0M954 659h0M952 718h0M846 740h0M852 730h0M947 658h0M948 704h0M879 773h0M879 771h0M861 718h0M903 694h0M869 715h0M947 768h0M951 676h0M951 758h0M919 684h0M949 708h0M849 737h0M926 788h0M955 661h0M910 690h0M945 653h0M879 772h0M953 668h0M869 766h0M952 722h0M954 733h0M875 768h0M955 654h0M945 663h0M877 711h0M864 715h0M934 657h0M854 744h0M939 657h0M954 673h0M873 768h0M854 748h0M896 788h0M852 731h0M943 657h0M856 721h0M920 682h0M851 749h0M938 665h0M849 737h0" stroke="#1728f7"/><path d="M953 673h0M856 725h0M946 661h0M857 756h0M941 671h0M949 676h0M860 763h0M952 666h0M955 738h0M854 723h0M950 665h0M947 694h0M899 789h0M851 748h0M858 756h0M932 664h0M955 668h0M936 664h0M944 656h0M859 740h0M950 658h0M945 653h0M855 748h0M863 759h0M935 669h0M950 661h0M941 774h0M942 771h0M863 761h0M948 687h0M950 692h0M944 658h0M873 766h0M934 664h0M948 656h0M935 781h0M860 722h0M950 677h0M853 744h0M881 709h0M933 782h0M933 670h0M856 757h0M925 679h0M854 747h0M945 769h0M866 762h0M949 676h0M953 744h0M931 667h0M932 669h0M931 669h0M943 675h0M890 784h0M889 783h0M925 685h0M931 666h0M855 727h0M944 663h0M854 751h0M952 743h0M941 668h0M885 775h0M927 675h0M947 680h0M943 659h0M881 708h0M940 674h0M936 660h0M934 675h0M945 765h0M946 664h0M944 663h0M936 672h0M866 718h0M953 669h0M941 672h0" stroke="#1c30f6"/><path d="M864 718h0M938 661h0M945 685h0M866 762h0M882 710h0M859 723h0M860 751h0M859 725h0M931 673h0M857 736h0M869 764h0M948 673h0M926 683h0M931 783h0M867 763h0M945 677h0M855 751h0M948 674h0M853 734h0M941 672h0M948 666h0M883 709h0M859 756h0M946 672h0M943 676h0M953 751h0M908 693h0M921 684h0M953 740h0M948 683h0M949 673h0M910 692h0M944 683h0M952 725h0M938 669h0M855 740h0M927 677h0M902 789h0M941 666h0M859 745h0M929 681h0M945 676h0M930 677h0M883 771h0M887 777h0M856 748h0M922 685h0M885 774h0M853 750h0M868 720h0M942 686h0M946 710h0M917 689h0M945 767h0M898 789h0M940 663h0M855 730h0M871 715h0M919 688h0M866 761h0M947 655h0M943 677h0M941 657h0M929 679h0M953 743h0M858 758h0M871 764h0M927 786h0M937 676h0M942 678h0M857 738h0M947 681h0M861 727h0M927 678h0M854 739h0M951 729h0M946 686h0M859 733h0M951 670h0M947 705h0M934 778h0M952 736h0" stroke="#2138f5"/><path d="M864 759h0M934 677h0M944 684h0M939 683h0M869 761h0M952 746h0M948 713h0M891 782h0M887 779h0M863 753h0M918 686h0M859 745h0M857 757h0M947 713h0M865 724h0M857 748h0M951 741h0M858 728h0M940 678h0M946 709h0M948 674h0M901 787h0M861 729h0M888 776h0M951 727h0M872 717h0M858 740h0M949 753h0M899 787h0M931 677h0M930 681h0M862 755h0M946 763h0M949 716h0M873 715h0M891 703h0M863 731h0M861 743h0M860 731h0M858 755h0M880 711h0M930 678h0M886 706h0M923 681h0M930 681h0M947 710h0M948 697h0M952 731h0M878 767h0M953 737h0M943 700h0M939 679h0M943 671h0M942 673h0M856 743h0M914 787h0M891 704h0M858 732h0M946 709h0M924 685h0M898 701h0M893 700h0M943 683h0" stroke="#2640f4"/><path d="M927 680h0M943 662h0M902 699h0M858 748h0M938 772h0M942 675h0M942 693h0M928 682h0M885 770h0M942 686h0M868 758h0M876 764h0M901 699h0M871 719h0M869 720h0M933 680h0M889 775h0M861 734h0M949 719h0M948 756h0M887 773h0M855 744h0M862 737h0M874 763h0M922 687h0M934 676h0M950 734h0M902 697h0M884 770h0M929 683h0M884 711h0M856 734h0M874 764h0M864 755h0M949 756h0M948 748h0M875 764h0M887 707h0M877 766h0M889 706h0M930 687h0M937 693h0M907 787h0M861 729h0" stroke="#2b48f3"/><path d="M863 744h0M925 785h0M862 728h0M864 726h0M869 721h0M948 721h0M867 724h0M869 759h0M942 694h0M915 691h0M906 787h0M862 740h0M928 782h0M867 760h0M870 761h0M928 781h0M866 756h0M868 721h0M888 709h0M904 698h0M946 706h0M945 710h0M924 785h0M879 765h0M902 701h0M864 731h0M873 717h0M937 695h0M894 704h0M863 745h0M890 775h0M927 783h0M948 722h0M875 721h0M875 762h0M940 689h0M940 770h0M943 701h0M905 785h0M937 689h0M862 736h0M952 740h0M865 747h0M949 724h0M874 720h0M938 685h0M935 776h0M946 717h0M926 691h0M924 687h0M928 684h0M860 743h0M926 783h0" stroke="#3050f2"/><path d="M943 703h0M885 768h0M862 741h0M941 688h0M932 689h0M869 729h0M939 688h0M876 716h0M947 722h0M911 787h0M925 784h0M868 759h0M884 769h0M930 691h0M947 714h0M864 734h0M869 755h0M872 720h0M907 786h0M917 692h0M883 765h0M910 696h0M874 718h0M871 757h0M915 694h0M944 710h0M863 734h0M864 739h0M919 688h0M947 722h0M863 748h0M860 750h0M947 753h0M947 721h0M890 775h0M917 787h0M865 743h0M937 695h0M931 691h0M940 700h0M930 687h0M936 773h0M944 763h0M865 738h0M949 742h0M865 743h0M868 725h0M941 692h0M905 785h0M939 688h0M863 747h0M935 696h0M866 727h0M885 711h0" stroke="#3558f1"/><path d="M939 693h0M940 767h0M877 718h0M914 695h0M886 768h0M869 756h0M949 749h0M879 761h0M944 764h0M928 781h0M910 785h0M945 719h0M930 778h0M936 696h0M882 716h0M933 689h0M866 750h0M891 710h0M898 705h0M949 738h0M932 688h0M880 763h0M863 739h0M871 756h0M913 786h0M868 752h0M931 775h0M883 764h0M948 731h0M877 763h0M886 767h0M876 758h0M883 764h0M938 771h0M883 767h0M881 764h0M931 777h0M866 735h0M946 752h0M892 778h0M875 760h0M937 772h0M932 689h0M870 726h0M899 702h0M930 780h0" stroke="#3a60f0"/><path d="M866 743h0M942 702h0M945 711h0M875 759h0M873 724h0M866 754h0M904 701h0M871 724h0M874 758h0M924 781h0M934 696h0M941 763h0M938 697h0M943 715h0M877 719h0M929 692h0M915 696h0M879 762h0M933 694h0M920 695h0M941 763h0M868 732h0M920 694h0M885 765h0M877 722h0M869 751h0M947 753h0M869 755h0M891 771h0M943 757h0M938 767h0" stroke="#3f6eef"/><path d="M909 699h0M915 697h0M948 737h0M909 784h0M937 695h0M913 696h0M883 761h0M869 750h0M895 706h0M947 731h0M923 691h0M885 714h0M884 715h0M931 774h0M866 748h0M942 704h0M934 696h0M903 785h0M866 747h0M904 701h0M872 756h0M890 770h0M943 712h0M893 706h0M930 776h0M947 739h0M892 774h0M869 733h0M870 743h0M879 761h0M930 695h0M887 767h0M869 732h0M938 768h0M882 764h0M933 694h0M891 770h0M876 721h0M922 782h0M878 721h0M897 779h0M924 780h0M898 779h0M945 755h0M946 750h0M869 753h0M902 782h0M878 722h0M945 721h0M911 698h0M948 746h0M889 769h0M943 718h0M940 708h0M931 696h0M868 751h0" stroke="#457bee"/><path d="M914 783h0M932 696h0M926 780h0M938 700h0M925 779h0M929 773h0M867 734h0M868 749h0M943 710h0M934 769h0M891 711h0M890 769h0M895 710h0M935 769h0M938 700h0M934 697h0M914 782h0M929 693h0M869 732h0M916 698h0M940 704h0M937 706h0M904 782h0M938 698h0M902 782h0M896 707h0M946 731h0M868 747h0M875 754h0M936 701h0M872 752h0M929 772h0M875 752h0M930 774h0M931 775h0M941 709h0M914 698h0M936 698h0M924 776h0M882 719h0M921 778h0" stroke="#4a89ee"/><path d="M923 778h0M946 746h0M892 771h0M901 779h0M873 751h0M938 768h0M907 701h0M946 732h0M894 773h0M910 779h0M940 762h0M900 705h0M882 761h0M920 697h0M904 782h0M871 736h0M929 773h0M892 769h0M944 752h0M940 763h0M940 715h0M932 771h0M939 762h0M872 740h0M938 709h0M892 711h0M868 742h0M909 782h0M877 727h0M945 748h0M902 704h0M877 756h0M885 717h0M909 702h0M895 709h0M898 706h0M946 738h0M944 745h0M946 748h0M876 751h0M902 782h0" stroke="#5096ed"/><path d="M943 752h0M892 769h0M869 734h0M935 766h0M872 724h0M899 774h0M881 755h0M874 732h0M873 742h0M899 779h0M936 704h0M886 720h0M940 710h0M886 761h0M875 752h0M922 698h0M924 778h0M875 723h0M874 750h0M946 733h0M887 760h0M871 731h0M906 703h0M875 731h0M913 780h0M939 754h0M925 697h0M942 721h0M943 727h0M897 771h0M876 729h0M937 761h0M891 714h0M892 713h0M884 722h0M928 699h0M876 722h0M943 721h0M931 773h0M906 702h0M901 782h0M922 697h0M945 735h0M913 699h0M944 726h0M945 748h0M921 698h0M912 701h0M877 753h0M895 768h0" stroke="#55a4ec"/><path d="M938 762h0M939 756h0M928 698h0M887 718h0M930 699h0M880 724h0M873 748h0M945 734h0M915 699h0M945 742h0M904 778h0M933 702h0M917 780h0M878 728h0M929 771h0M926 697h0M870 744h0M931 769h0M881 757h0M937 710h0M912 702h0M896 710h0M870 743h0M877 727h0M944 740h0M880 725h0M903 706h0M907 703h0M875 736h0M897 769h0M926 775h0M932 702h0M889 762h0M926 700h0M936 763h0M916 776h0M939 759h0M916 781h0M935 705h0M885 719h0M942 754h0M936 767h0M871 739h0M880 724h0M933 765h0M943 750h0M935 708h0M900 771h0M941 711h0M945 729h0M903 773h0M922 702h0M899 708h0M904 776h0M879 725h0" stroke="#5ab2eb"/><path d="M912 701h0M881 722h0M944 734h0M875 740h0M893 766h0M893 765h0M941 723h0M928 771h0M944 736h0M926 702h0M911 780h0M924 775h0M896 770h0M908 703h0M901 772h0M892 768h0M877 753h0M896 711h0M880 746h0M882 755h0M924 773h0M944 736h0M880 732h0M908 778h0M894 769h0M925 772h0M940 725h0M926 698h0M926 775h0M900 777h0M873 743h0M879 754h0M876 746h0M900 773h0M943 730h0M943 751h0M900 707h0M914 701h0M875 731h0M875 734h0" stroke="#60bfea"/><path d="M921 698h0M935 709h0M881 727h0M934 701h0M910 705h0M872 735h0M926 703h0M914 704h0M896 769h0M877 732h0M943 733h0M931 767h0M909 779h0M873 739h0M879 745h0M880 752h0M888 718h0M892 761h0M874 735h0M925 774h0M881 758h0M918 702h0M924 776h0M876 748h0M886 759h0M903 773h0M894 714h0M932 704h0M879 748h0M875 731h0M888 720h0M877 748h0M876 742h0M886 724h0M933 767h0M927 699h0M936 714h0M886 757h0M935 711h0M914 702h0M928 766h0M939 714h0M930 769h0M912 776h0M933 702h0" stroke="#65cdea"/><path d="M907 706h0M907 706h0M936 708h0M879 740h0M917 775h0M899 710h0M935 713h0M943 743h0M886 722h0M903 770h0M927 704h0M877 741h0M920 701h0M910 701h0M943 726h0M878 741h0M905 773h0M910 776h0M892 718h0M879 734h0M918 776h0M940 715h0M921 773h0M942 728h0M884 755h0M941 726h0M919 704h0M942 732h0M896 765h0M943 741h0M939 714h0M943 740h0M940 754h0M940 752h0M883 723h0M896 716h0M911 778h0M878 733h0M938 721h0M879 751h0M946 743h0M917 772h0M934 764h0M885 728h0M877 731h0M917 775h0M884 723h0M878 745h0M914 703h0M936 764h0M906 774h0M879 740h0" stroke="#6bdae9"/><path d="M891 760h0M926 770h0M938 712h0M877 732h0M936 759h0M939 732h0M928 771h0M879 738h0M939 724h0M898 712h0M877 731h0M927 770h0M914 776h0M921 704h0M915 701h0M911 780h0M896 762h0M883 728h0M930 704h0M914 770h0M910 776h0M929 704h0M905 710h0M929 765h0M918 773h0M881 741h0M914 770h0M897 773h0M888 722h0M889 757h0M911 774h0M936 718h0M935 761h0M911 775h0M879 736h0M891 760h0M888 761h0M922 769h0M902 774h0M928 766h0M921 700h0M909 775h0M882 724h0" stroke="#70e8e8"/><path d="M922 771h0M885 751h0M888 759h0M896 715h0M879 740h0M883 751h0M891 763h0M880 728h0M941 727h0M904 773h0M888 757h0M894 718h0M878 746h0M882 736h0M920 774h0M895 765h0M924 770h0M888 722h0M877 740h0M893 717h0M923 773h0M941 744h0M877 745h0M923 771h0M906 711h0M916 771h0M881 747h0M901 769h0M906 774h0M926 773h0M942 739h0M885 727h0M918 779h0M929 707h0M921 773h0M893 718h0M931 764h0M893 764h0M937 758h0M938 755h0M901 769h0M928 765h0M924 703h0M929 709h0" stroke="#76eadf"/><path d="M910 706h0M897 766h0M888 726h0M920 773h0M886 752h0M923 768h0M889 723h0M898 712h0M887 759h0M879 747h0M914 777h0M916 775h0M934 714h0M894 765h0M936 731h0M884 745h0M885 722h0M931 708h0M887 728h0M906 768h0M882 746h0M908 708h0M902 765h0M882 752h0M889 719h0M891 721h0M931 712h0M880 743h0M921 776h0M919 773h0M939 738h0M928 767h0M880 750h0M905 711h0M926 764h0M875 739h0M883 730h0M899 766h0M941 731h0M916 710h0M882 743h0M940 734h0M905 711h0M914 705h0M879 736h0M936 728h0M934 713h0M926 708h0M931 760h0" stroke="#7bebd6"/><path d="M922 705h0M885 724h0M941 733h0M937 753h0M896 765h0M925 770h0M927 766h0M897 716h0M896 715h0M882 733h0M880 735h0M881 748h0M935 717h0M934 709h0M882 738h0M887 726h0M893 761h0M915 774h0M941 742h0M882 735h0M905 716h0M897 766h0M881 740h0M935 758h0M929 704h0M884 750h0M879 736h0M889 756h0M934 716h0M910 769h0M914 768h0M902 765h0M898 765h0M884 725h0M939 749h0M932 706h0M935 720h0M906 708h0M901 767h0M891 720h0M884 732h0M901 712h0M887 732h0M909 771h0M881 743h0M933 758h0" stroke="#81edce"/><path d="M894 763h0M890 721h0M922 708h0M904 773h0M912 774h0M924 708h0M927 711h0M917 704h0M940 754h0M928 708h0M893 761h0M885 750h0M914 771h0M898 717h0M914 773h0M884 749h0M912 708h0M887 726h0M932 712h0M941 728h0M928 763h0M901 711h0M909 708h0M928 765h0M905 711h0M892 721h0M916 776h0M938 750h0M921 768h0M886 746h0M894 722h0M892 719h0M904 713h0M907 768h0M941 747h0M891 755h0M886 745h0M898 715h0M905 772h0M916 769h0M935 756h0M899 767h0M940 745h0M888 754h0M930 709h0" stroke="#86eec5"/><path d="M932 713h0M898 763h0M913 706h0M929 708h0M908 771h0M882 741h0M918 705h0M881 739h0M884 733h0M897 757h0M898 765h0M893 724h0M889 724h0M922 765h0M909 769h0M889 723h0M913 710h0M923 714h0M938 734h0M885 733h0M906 767h0M889 724h0M939 733h0M930 762h0M889 728h0M914 771h0M939 726h0M938 735h0M932 760h0M884 743h0M905 709h0M909 709h0M896 720h0M886 736h0M883 735h0M889 750h0" stroke="#8cf0bc"/><path d="M895 722h0M912 768h0M895 721h0M913 706h0M880 744h0M939 746h0M933 717h0M938 739h0M909 713h0M903 768h0M899 763h0M939 727h0M893 759h0M936 724h0M904 711h0M886 745h0M897 758h0M932 720h0M936 731h0M892 758h0M934 724h0M902 717h0M888 730h0M885 738h0M917 710h0M890 756h0M890 724h0M929 718h0M931 717h0M914 767h0M915 711h0M889 755h0M935 730h0M882 734h0M888 731h0M893 725h0M897 717h0M911 767h0M901 720h0M895 720h0M884 746h0M928 763h0" stroke="#92f2b3"/><path d="M886 742h0M901 761h0M914 764h0M933 728h0M890 755h0M920 708h0M936 732h0M896 757h0M897 757h0M905 766h0M923 762h0M888 742h0M916 770h0M884 743h0M921 709h0M886 740h0M939 739h0M933 722h0M941 740h0M923 764h0M895 758h0M895 758h0M919 709h0M897 719h0M909 713h0M889 753h0M912 712h0M888 752h0M939 739h0M880 739h0M900 716h0M894 756h0M901 716h0M890 725h0M915 770h0M889 756h0M891 758h0M909 712h0M890 729h0M939 746h0M885 746h0M932 715h0M899 760h0M938 738h0M928 713h0M905 714h0M895 755h0M937 736h0M902 710h0M929 759h0M909 711h0M887 741h0M886 734h0M910 710h0" stroke="#97f3aa"/><path d="M915 711h0M906 768h0M896 757h0M903 715h0M898 765h0M920 765h0M888 747h0M935 758h0M932 715h0M930 726h0M888 732h0M937 744h0M922 710h0M908 766h0M912 763h0M887 748h0M919 708h0M927 760h0M905 769h0M929 760h0M912 712h0M932 759h0M903 761h0M910 764h0M926 716h0M894 756h0M913 712h0M934 729h0M893 726h0M889 734h0M919 708h0" stroke="#9df5a2"/><path d="M888 744h0M910 713h0M933 719h0M900 718h0M898 718h0M904 718h0M892 721h0M885 742h0M910 713h0M897 755h0M928 715h0M918 764h0M928 718h0M887 742h0M934 725h0M921 764h0M921 714h0M908 764h0M901 719h0M922 712h0M930 760h0M909 716h0M932 761h0M890 751h0M938 745h0M890 730h0M936 752h0M919 713h0M940 735h0M903 716h0M889 734h0M936 729h0M926 712h0" stroke="#a2f699"/><path d="M918 714h0M885 739h0M918 713h0M921 720h0M889 747h0M923 716h0M913 714h0M921 763h0M924 711h0M910 764h0M911 763h0M885 738h0M894 753h0M913 712h0M935 735h0M902 723h0M915 711h0M917 714h0M912 716h0M924 763h0M937 742h0M897 724h0M928 717h0M925 761h0" stroke="#a8f890"/><path d="M891 729h0M889 736h0M908 761h0M918 763h0M888 735h0M936 735h0M908 716h0M889 735h0M904 762h0M900 760h0M924 718h0M909 764h0M904 720h0M898 759h0M934 730h0M920 762h0M923 709h0M903 718h0M908 716h0M916 718h0M906 760h0M894 754h0M933 729h0M908 717h0M888 735h0M891 753h0M930 715h0M895 754h0M922 716h0M890 729h0M913 717h0M902 720h0M914 765h0M909 761h0M888 739h0M907 762h0M909 716h0M930 718h0M928 720h0" stroke="#b0f786"/><path d="M929 758h0M934 730h0M913 712h0M888 738h0M922 719h0M894 726h0M904 762h0M922 762h0M906 721h0M926 758h0M911 765h0M888 732h0M899 721h0M916 764h0M921 717h0M935 736h0M928 725h0M921 762h0M915 712h0M936 742h0M906 718h0M936 743h0M899 754h0M901 718h0M892 729h0M924 719h0M918 715h0M932 727h0M890 747h0" stroke="#b8f67d"/><path d="M931 722h0M934 751h0M904 759h0M922 720h0M936 739h0M927 726h0M901 758h0M890 749h0M911 719h0M905 721h0M932 731h0M902 721h0M913 718h0M930 728h0M888 736h0M928 720h0M936 739h0M915 716h0M913 718h0M922 716h0M913 720h0M889 741h0M905 761h0M913 718h0M921 718h0M910 761h0M936 739h0M919 761h0M901 758h0M921 718h0M895 753h0M930 726h0" stroke="#c0f673"/><path d="M930 730h0M907 717h0M929 726h0M901 720h0M916 762h0M937 749h0M926 721h0M928 721h0M924 720h0M890 751h0M909 759h0M922 715h0M920 721h0M927 725h0M934 738h0M928 726h0M936 750h0M910 762h0M920 720h0M906 759h0M920 720h0M915 720h0M889 742h0M924 761h0M887 738h0M888 742h0M898 726h0M911 720h0M914 718h0M932 754h0" stroke="#c8f56a"/><path d="M904 759h0M900 723h0M917 721h0M889 736h0M913 721h0M906 721h0M927 724h0M890 733h0M935 739h0M889 741h0M895 727h0M927 725h0M918 717h0M929 724h0M904 760h0M910 719h0M891 744h0M896 725h0M890 738h0M897 726h0" stroke="#d0f460"/><path d="M926 721h0M924 722h0M935 736h0M890 733h0M924 725h0M921 723h0M911 719h0M909 723h0M935 740h0M889 739h0M932 724h0M909 762h0M910 721h0M936 747h0M934 751h0M906 759h0M899 756h0M919 718h0M929 758h0M914 713h0M934 734h0M925 718h0" stroke="#d8f356"/><path d="M893 729h0M921 761h0M908 722h0M894 728h0M933 730h0M934 735h0M920 761h0M934 734h0M892 750h0M890 736h0M889 740h0M933 754h0M935 740h0M908 760h0M921 718h0M904 721h0M931 755h0M913 760h0M898 754h0M899 755h0" stroke="#e0f24d"/><path d="M897 726h0M911 723h0M899 754h0M899 755h0M924 726h0M904 722h0M911 721h0M908 760h0M892 750h0M899 754h0M927 730h0M918 723h0M892 748h0M891 744h0" stroke="#e8f243"/><path d="M897 754h0M909 719h0M924 726h0M910 761h0M911 760h0M899 725h0M891 737h0M899 756h0M894 750h0M923 758h0M890 738h0M911 722h0M913 759h0" stroke="#f0f13a"/><path d="M935 748h0M927 759h0M916 724h0M902 756h0M924 759h0M933 737h0M920 724h0M924 728h0M932 753h0M934 738h0M894 729h0M932 735h0M917 723h0M934 748h0M931 734h0M908 722h0" stroke="#f8f030"/><path d="M902 724h0M908 723h0M915 760h0M935 741h0M908 760h0M901 755h0M911 724h0M898 727h0M916 724h0" stroke="#f7e72f"/><path d="M901 755h0M926 728h0M921 722h0M910 758h0M914 723h0M913 760h0M912 759h0" stroke="#f6de2e"/><path d="M920 759h0M908 722h0M910 759h0M920 725h0M925 758h0M903 757h0M930 732h0M899 726h0M903 756h0M930 732h0" stroke="#f6d52e"/><path d="M897 753h0M924 727h0M909 724h0M929 732h0M898 728h0M934 740h0M921 726h0M892 742h0M894 751h0M916 725h0" stroke="#f5cc2d"/><path d="M894 748h0M905 756h0M901 726h0M892 745h0M904 723h0M934 746h0M918 726h0" stroke="#f4c32c"/><path d="M893 743h0M898 726h0M929 754h0M906 723h0M927 730h0M907 758h0M931 753h0M935 746h0M894 747h0M924 727h0" stroke="#f3ba2b"/><path d="M902 755h0M895 729h0M907 757h0M922 727h0M899 726h0M931 737h0M913 725h0M930 752h0M919 727h0M896 730h0M925 757h0M920 726h0M914 758h0M894 731h0M932 736h0M931 735h0" stroke="#f2b12a"/><path d="M902 754h0M914 724h0M910 758h0M896 750h0M916 725h0M914 759h0M893 745h0" stroke="#f2a82a"/><path d="M933 737h0M906 757h0M901 753h0M893 744h0M900 729h0" stroke="#f19f29"/><path d="M907 757h0M894 744h0M925 757h0M931 736h0M897 729h0M897 752h0M892 741h0M932 750h0" stroke="#f09628"/><path d="M926 756h0M905 755h0M921 757h0M932 737h0M893 742h0M931 736h0M911 758h0M933 744h0M908 757h0M930 736h0M904 725h0M933 740h0" stroke="#ee8926"/><path d="M893 736h0M932 750h0M927 755h0M906 725h0M932 736h0M894 734h0M903 726h0" stroke="#eb7c23"/><path d="M928 732h0M921 728h0M896 731h0M920 727h0M918 725h0M908 757h0M908 725h0M906 725h0" stroke="#e86f21"/><path d="M921 728h0M931 751h0M914 726h0M894 746h0M931 737h0M900 752h0M925 755h0M933 742h0M896 730h0M911 757h0M917 757h0M903 754h0M932 742h0M925 730h0M930 736h0" stroke="#e6621e"/><path d="M903 726h0M931 738h0M905 755h0M928 732h0M933 745h0M922 757h0M899 729h0M903 755h0M893 739h0M923 729h0" stroke="#e4551c"/><path d="M925 756h0M926 732h0M904 727h0M927 732h0M904 755h0M926 730h0M896 746h0M915 725h0" stroke="#e1481a"/><path d="M932 739h0M928 755h0M927 732h0M898 729h0M906 756h0M932 740h0" stroke="#de3b17"/><path d="M918 757h0M915 725h0M925 731h0M917 727h0M920 756h0M907 725h0M930 751h0M915 757h0M905 726h0M929 734h0M922 728h0" stroke="#dc2e15"/><path d="M923 756h0M913 757h0M897 749h0M901 728h0M918 727h0M901 752h0M898 749h0M902 727h0M930 749h0M901 728h0M897 748h0M908 725h0" stroke="#da2112"/><path d="M912 725h0M919 757h0M931 749h0M918 728h0M914 756h0M907 726h0M923 729h0M914 726h0M906 728h0M930 736h0M904 728h0M895 746h0" stroke="#d71410"/><path d="M928 736h0M914 726h0M899 751h0M896 747h0M896 733h0M896 746h0M916 727h0M894 736h0M924 730h0M905 727h0M895 738h0M929 734h0" stroke="#cc130f"/><path d="M896 736h0M895 746h0M928 753h0M895 744h0M897 732h0M930 747h0M929 750h0M928 736h0M906 726h0M913 727h0" stroke="#c1120f"/><path d="M920 728h0M921 757h0M897 732h0M896 733h0M894 738h0M895 735h0M929 748h0M909 727h0M925 753h0M914 756h0" stroke="#b6110e"/><path d="M901 752h0M931 740h0M918 727h0M923 756h0M927 753h0M896 734h0M904 728h0M926 753h0M912 756h0" stroke="#ab100e"/><path d="M929 750h0M913 727h0M908 727h0M896 734h0M912 726h0M929 736h0M895 736h0M913 756h0" stroke="#a00f0d"/><path d="M896 746h0M931 747h0M905 754h0M917 756h0M898 748h0M926 753h0" stroke="#960e0c"/><path d="M925 754h0M921 731h0M906 728h0M924 754h0M904 753h0M897 733h0M926 753h0M910 726h0M922 730h0M931 742h0M927 752h0M897 746h0" stroke="#8b0d0c"/><path d="M931 741h0M923 755h0M917 756h0M930 739h0M907 754h0M897 733h0M911 727h0M900 750h0M929 739h0M929 749h0M931 747h0M929 738h0" stroke="#800c0b"/><path d="M895 738h0M925 751h0M929 748h0M919 755h0M929 737h0M901 750h0M910 754h0M929 738h0M916 756h0M927 735h0M899 732h0M903 752h0" stroke="#750b0b"/><path d="M897 745h0M917 753h0M924 753h0M915 727h0M906 729h0M914 755h0M899 733h0M919 729h0M912 728h0M922 731h0M912 727h0M923 753h0M907 727h0M917 729h0M903 731h0M930 740h0M930 739h0M923 732h0M915 729h0M919 729h0M906 729h0M913 727h0M904 752h0M913 728h0M917 730h0M898 748h0M906 754h0M925 754h0M911 728h0M929 741h0M923 754h0M908 729h0M910 728h0M930 741h0M901 751h0M905 753h0M898 744h0M927 734h0M899 747h0M913 729h0M920 731h0M899 745h0M927 736h0M927 743h0M929 750h0M930 747h0M921 753h0M914 729h0M903 732h0M901 751h0M897 745h0M916 756h0M925 734h0M925 752h0M929 736h0M906 753h0M907 754h0M904 752h0M906 730h0M927 746h0M897 738h0M900 749h0M924 732h0M905 730h0M927 743h0M920 753h0M924 754h0M905 752h0M900 731h0M929 742h0M900 732h0M921 754h0M897 743h0M895 739h0M918 730h0M915 730h0M923 754h0M897 745h0M928 737h0M924 750h0M899 746h0M897 745h0M898 740h0M901 731h0M927 737h0M908 752h0M920 729h0M928 739h0M900 733h0M902 751h0M928 746h0M896 737h0M927 736h0M917 729h0M904 731h0M907 754h0M897 740h0M927 748h0M914 729h0M927 750h0M917 729h0M917 751h0M903 751h0M904 751h0M907 730h0M897 739h0M917 729h0M907 751h0M926 747h0M917 729h0M926 740h0M900 734h0M911 754h0M925 752h0M919 730h0M897 736h0M902 750h0M897 738h0M927 737h0M930 746h0M898 743h0M926 742h0M909 731h0M929 743h0M899 747h0M910 734h0M910 753h0M898 738h0M911 754h0M905 732h0M926 745h0M898 733h0M908 751h0M924 751h0M906 752h0M921 753h0M910 730h0M903 739h0M912 754h0M907 730h0M922 732h0M920 733h0M908 729h0M929 744h0M906 729h0M900 748h0M903 750h0M902 747h0M921 751h0M914 754h0M929 742h0M914 741h0M915 738h0M928 746h0M899 743h0M905 750h0M923 733h0M909 753h0M929 749h0M930 744h0M912 732h0M901 733h0M922 749h0M914 755h0M923 744h0M906 734h0M926 747h0M915 732h0M898 745h0M924 737h0M928 740h0M898 742h0M925 747h0M921 744h0M900 745h0M907 752h0M912 749h0M901 746h0M899 737h0M902 735h0M920 735h0M918 735h0M909 729h0M920 753h0M918 754h0M928 738h0M907 753h0M907 752h0M924 740h0M906 730h0M899 737h0M907 730h0M898 736h0M900 747h0M904 729h0M912 732h0M902 745h0M902 742h0M926 747h0M902 748h0M913 733h0M911 731h0M924 740h0M904 735h0M906 750h0M920 734h0M912 754h0M901 750h0M915 750h0M923 748h0M911 736h0M903 731h0M916 738h0M926 746h0M921 737h0M917 732h0M927 744h0M909 731h0M906 745h0M900 739h0M917 751h0M925 742h0M925 735h0M908 739h0M902 736h0M925 739h0M899 740h0M921 737h0M925 739h0M901 732h0M900 747h0M918 749h0M924 734h0M900 733h0M904 732h0M922 750h0M902 733h0M912 730h0M899 741h0M920 738h0M925 743h0M907 749h0M915 732h0M903 750h0M913 736h0M927 740h0M915 736h0M920 751h0M904 748h0M906 734h0M928 747h0M927 743h0M916 736h0M905 738h0M923 749h0M923 736h0M916 751h0M900 735h0M901 739h0M916 749h0M923 739h0M899 740h0M904 750h0M901 737h0M901 737h0M904 732h0M923 738h0M902 736h0M908 730h0M903 735h0M908 730h0M909 735h0M909 748h0M923 734h0M903 740h0M915 732h0M915 737h0M910 731h0M920 744h0M913 753h0M920 748h0M906 746h0M919 734h0M926 741h0M902 736h0M910 746h0M927 745h0M913 731h0M909 738h0M914 748h0M907 733h0M917 743h0M919 746h0M905 749h0M898 743h0M925 743h0M914 730h0M916 738h0M926 748h0M925 744h0M899 735h0M909 744h0M899 736h0M924 737h0M909 752h0M919 736h0M923 749h0M903 731h0M903 738h0M918 732h0M905 738h0M918 753h0M901 737h0M914 743h0M920 747h0M917 747h0M919 746h0M901 732h0M926 739h0M909 741h0M907 740h0M923 741h0M902 735h0M906 750h0M923 741h0M905 734h0M903 740h0M900 740h0M913 751h0M903 737h0M913 730h0M903 742h0M924 748h0M902 738h0M901 739h0M901 748h0M902 739h0M907 751h0M901 745h0M911 735h0M911 742h0M909 746h0M912 730h0M917 731h0M915 753h0M911 734h0M907 734h0M920 739h0M921 743h0M920 744h0M924 741h0M914 732h0M908 742h0M920 749h0M908 740h0M903 738h0M905 739h0M916 734h0M905 736h0M899 742h0M909 743h0M925 747h0M905 746h0M925 745h0M901 740h0M921 751h0M909 744h0M925 746h0M918 737h0M909 742h0M925 740h0M906 734h0M916 744h0M918 752h0M923 735h0M906 748h0M912 743h0M906 744h0M904 748h0M909 743h0M911 745h0M910 750h0M904 740h0M910 737h0M919 741h0M910 732h0M917 745h0M908 743h0M911 751h0M903 741h0M903 739h0M912 730h0M903 743h0M911 742h0M912 741h0M915 733h0M913 733h0M917 732h0M912 737h0M902 741h0M905 732h0M913 733h0M921 738h0M921 751h0M912 733h0M903 742h0M915 751h0M920 747h0M906 747h0M906 748h0M923 748h0M923 734h0M908 743h0M913 731h0M914 732h0M908 734h0M924 746h0M919 741h0M904 739h0M910 749h0M913 746h0M907 739h0M923 749h0M917 737h0M901 734h0M908 735h0M907 736h0M916 732h0M905 739h0M905 744h0M912 731h0M899 744h0M918 743h0M912 741h0M925 747h0M901 740h0M908 747h0M916 746h0M904 736h0M915 751h0M917 745h0M903 745h0M902 746h0M915 744h0M917 745h0M910 745h0M903 739h0M919 747h0M916 747h0M910 734h0M911 735h0M914 752h0M924 750h0M921 737h0M924 745h0M917 753h0M911 747h0M902 737h0M923 738h0M917 749h0M906 736h0M927 742h0M914 750h0M920 733h0M911 734h0M911 733h0M917 738h0M901 747h0M907 732h0M922 743h0M914 738h0M906 737h0M906 733h0M921 734h0M909 739h0M924 735h0M911 737h0M921 745h0M922 734h0M907 736h0M915 753h0M909 747h0M920 748h0M909 731h0M914 742h0M917 735h0M922 750h0M918 731h0M913 743h0M913 741h0M913 733h0M923 743h0M906 733h0M909 735h0M904 736h0M909 739h0M906 734h0M916 738h0M905 735h0M916 748h0M913 733h0M913 731h0M913 734h0M908 746h0M918 734h0M921 741h0M910 744h0M902 744h0M913 745h0M906 738h0M914 742h0M911 744h0M904 732h0M919 748h0M912 742h0M904 734h0M909 749h0M919 735h0M911 749h0M910 744h0M910 748h0M922 741h0M914 747h0M910 737h0M915 738h0M917 735h0M926 741h0M926 743h0M901 737h0M915 751h0M916 746h0M913 753h0M910 736h0M902 743h0M923 742h0M917 735h0M916 738h0M903 737h0M901 740h0M907 746h0M920 743h0M913 748h0M902 736h0M905 739h0M919 738h0M920 739h0M903 743h0M919 746h0M913 735h0M909 746h0M914 741h0M906 743h0M923 748h0M923 740h0M910 751h0M909 733h0M922 742h0M910 741h0M901 740h0M916 754h0M925 739h0M904 747h0M912 751h0M924 744h0M905 748h0M912 736h0M915 737h0M912 741h0M918 751h0M924 746h0M907 737h0M920 751h0M922 744h0M916 744h0M913 743h0M918 748h0M909 744h0M911 735h0M922 749h0M906 738h0M913 733h0M910 736h0M919 733h0M918 746h0M915 736h0M909 735h0M909 741h0M916 744h0M912 745h0M915 738h0M922 741h0M924 742h0M910 739h0M914 741h0M914 752h0M914 743h0M912 749h0M925 739h0M905 741h0M905 745h0M906 734h0M907 747h0M904 739h0M919 739h0M907 739h0M917 732h0M906 741h0M913 752h0M914 737h0M916 746h0M901 739h0M912 743h0M913 740h0M908 731h0M910 742h0M913 734h0M917 743h0M920 744h0M911 739h0M906 744h0M920 738h0M923 743h0M904 740h0M905 746h0M917 744h0M920 742h0M912 746h0M916 738h0M913 740h0M921 747h0M914 736h0M908 746h0M906 738h0M917 737h0M908 736h0M905 739h0M911 749h0M917 745h0M921 749h0M909 744h0M909 747h0M909 739h0M914 744h0M922 738h0M913 740h0M907 741h0M906 732h0M907 737h0M918 747h0M920 744h0M912 740h0M907 740h0M912 737h0M907 741h0M903 743h0M921 736h0M903 739h0M911 738h0M908 739h0M905 742h0M912 750h0M910 741h0M912 746h0M922 746h0M905 739h0M914 745h0M906 742h0M901 740h0M911 733h0M915 749h0M907 739h0M922 749h0M912 747h0M917 738h0M922 745h0M907 747h0M914 736h0M908 747h0M915 741h0M919 745h0M913 741h0M913 740h0M903 736h0M917 741h0M913 744h0M909 740h0M912 745h0M907 741h0" stroke="#6a0a0a"/></g>
<path d="M712.4 509.1V945.5M670.2 901.9H1092.2M796.8 509.1V945.5M670.2 814.6H1092.2M881.2 509.1V945.5M670.2 727.3H1092.2M965.6 509.1V945.5M670.2 640.0H1092.2M1050.0 509.1V945.5M670.2 552.7H1092.2" stroke="#000" stroke-opacity="0.55" stroke-width="1.6" stroke-dasharray="1.6 5.1" fill="none"/>
<path d="M712.4 509.1v9M712.4 945.5v-9M670.2 901.9h9M1092.2 901.9h-9M796.8 509.1v9M796.8 945.5v-9M670.2 814.6h9M1092.2 814.6h-9M881.2 509.1v9M881.2 945.5v-9M670.2 727.3h9M1092.2 727.3h-9M965.6 509.1v9M965.6 945.5v-9M670.2 640.0h9M1092.2 640.0h-9M1050.0 509.1v9M1050.0 945.5v-9M670.2 552.7h9M1092.2 552.7h-9" stroke="#333" stroke-width="1.8" fill="none"/>
<circle cx="855.0" cy="667.1" r="6.2" fill="#a812bf" stroke="#111" stroke-width="2"/>
<rect x="670.2" y="509.1" width="422.0" height="436.4" fill="none" stroke="#333" stroke-width="2"/>
<text transform="translate(754.22 549.40) scale(0.9230 1)" font-size="39" fill="#3d55ee">E126D (E144D)</text>
</g>
<g>
<g fill="none" stroke-width="10" stroke-linecap="round"><path d="M356 1128h0M489 1105h0M317 1219h0M380 1122h0" stroke="#040592"/><path d="M487 1236h0M472 1098h0M426 1229h0M452 1091h0M314 1212h0M499 1161h0M317 1154h0M314 1157h0M308 1169h0" stroke="#05069e"/><path d="M325 1219h0M412 1085h0M419 1085h0M497 1159h0M394 1221h0M489 1228h0M491 1120h0M383 1226h0M331 1221h0M366 1138h0M497 1165h0M498 1190h0M339 1142h0M491 1223h0M307 1181h0M451 1238h0M482 1232h0" stroke="#0508aa"/><path d="M485 1113h0M327 1150h0M311 1175h0M432 1087h0M332 1146h0M485 1114h0M375 1139h0M316 1163h0M464 1237h0M494 1202h0M432 1087h0M325 1213h0M459 1237h0M495 1193h0M495 1197h0M335 1220h0M490 1130h0M495 1192h0M377 1139h0M395 1216h0M482 1228h0M419 1214h0M332 1218h0M322 1210h0M488 1123h0M477 1111h0" stroke="#0609b5"/><path d="M402 1091h0M469 1108h0M483 1115h0M316 1201h0M368 1141h0M495 1186h0M311 1188h0M312 1179h0M394 1104h0M399 1094h0M375 1223h0M391 1217h0M326 1212h0M320 1162h0M461 1106h0M312 1186h0M320 1160h0M424 1088h0M464 1108h0M461 1105h0M492 1200h0M449 1096h0M426 1088h0M437 1228h0M338 1219h0M433 1089h0M421 1087h0M456 1234h0M315 1195h0M473 1112h0M478 1229h0" stroke="#060ac0"/><path d="M369 1223h0M478 1228h0M406 1205h0M365 1142h0M422 1212h0M376 1222h0M380 1140h0M429 1220h0M434 1223h0M318 1199h0M425 1088h0M409 1204h0M355 1223h0M432 1222h0M432 1221h0M480 1224h0M459 1233h0M447 1096h0M377 1144h0M393 1122h0M487 1133h0M456 1233h0M427 1217h0M316 1187h0M492 1184h0M444 1229h0M484 1127h0" stroke="#060bcc"/><path d="M439 1226h0M483 1217h0M485 1211h0M411 1092h0M316 1187h0M326 1208h0M337 1151h0M419 1208h0M376 1220h0M398 1115h0M388 1134h0M483 1125h0M465 1231h0M454 1231h0M449 1101h0M358 1146h0M392 1127h0M453 1106h0M363 1221h0M372 1145h0M323 1200h0M428 1215h0M422 1091h0M322 1167h0" stroke="#070cd8"/><path d="M487 1146h0M390 1132h0M360 1145h0M455 1230h0M320 1195h0M412 1201h0M481 1126h0M441 1224h0M389 1134h0M400 1203h0M452 1229h0M439 1223h0M331 1209h0M476 1119h0M378 1218h0M355 1147h0M480 1219h0M413 1091h0M318 1183h0M393 1209h0M399 1107h0M395 1125h0M330 1158h0M322 1169h0M399 1120h0M398 1205h0M399 1119h0M342 1151h0M336 1211h0M360 1147h0M356 1219h0M374 1148h0M483 1136h0M486 1152h0M486 1154h0M396 1125h0M350 1149h0M341 1152h0M322 1169h0M427 1211h0M441 1223h0M336 1153h0M458 1111h0" stroke="#070ee3"/><path d="M383 1145h0M372 1148h0M472 1225h0M487 1165h0M480 1213h0M390 1135h0M342 1215h0M429 1213h0M440 1097h0M459 1111h0M480 1127h0M438 1095h0M487 1163h0M425 1092h0M454 1227h0M485 1152h0M399 1199h0M487 1174h0M479 1126h0M456 1111h0M475 1221h0M403 1111h0M395 1205h0M488 1175h0M381 1215h0M399 1123h0M324 1200h0M483 1144h0M343 1214h0M394 1130h0M402 1107h0M468 1116h0M488 1175h0M478 1215h0M427 1210h0M435 1095h0M400 1121h0M402 1198h0M365 1148h0M386 1148h0M479 1215h0M406 1097h0M324 1197h0M486 1171h0M339 1211h0M419 1093h0M479 1207h0" stroke="#080fee"/><path d="M332 1159h0M402 1102h0M486 1189h0M452 1109h0M379 1214h0M464 1225h0M487 1182h0M392 1205h0M486 1193h0M341 1153h0M414 1198h0M386 1211h0M404 1111h0M335 1158h0M322 1175h0M328 1166h0M341 1155h0M329 1203h0M464 1226h0M477 1124h0M372 1216h0M419 1202h0M329 1202h0M326 1168h0M481 1133h0M355 1216h0M411 1194h0M448 1108h0M458 1226h0M426 1093h0M326 1198h0M466 1224h0M481 1144h0M385 1147h0M348 1214h0M405 1105h0M412 1095h0M420 1202h0M387 1147h0M481 1135h0M479 1208h0M378 1214h0M460 1113h0M341 1155h0M324 1176h0M481 1147h0M376 1214h0M407 1098h0M403 1194h0M384 1211h0" stroke="#0810fa"/><path d="M477 1126h0M351 1215h0M405 1118h0M479 1131h0M475 1215h0M466 1118h0M452 1111h0M470 1222h0M405 1111h0M394 1202h0M479 1207h0M415 1198h0M343 1212h0M482 1153h0M403 1110h0M441 1099h0M447 1107h0M382 1211h0M484 1191h0M331 1204h0M461 1224h0M379 1214h0M389 1142h0M430 1209h0M405 1115h0M341 1155h0M406 1101h0M437 1215h0M407 1110h0M389 1208h0M414 1097h0M341 1155h0M386 1152h0M481 1144h0M331 1202h0M349 1153h0M486 1180h0M400 1193h0" stroke="#0d18f9"/><path d="M485 1183h0M325 1186h0M389 1205h0M447 1108h0M439 1099h0M477 1128h0M390 1149h0M485 1186h0M477 1211h0M349 1214h0M476 1126h0M471 1217h0M324 1191h0M405 1114h0M341 1211h0M379 1155h0M390 1203h0M329 1167h0M452 1223h0M476 1209h0M407 1112h0M483 1168h0M439 1099h0M368 1214h0M404 1120h0M330 1165h0M395 1135h0M388 1154h0M469 1221h0M337 1159h0M401 1193h0M429 1207h0M418 1096h0M324 1188h0M332 1164h0M406 1110h0M353 1153h0M473 1216h0M384 1155h0M374 1214h0M393 1139h0M374 1152h0M418 1096h0" stroke="#1220f8"/><path d="M480 1146h0M459 1224h0M344 1210h0M448 1110h0M327 1191h0M485 1182h0M418 1197h0M350 1213h0M408 1114h0M484 1182h0M379 1212h0M437 1214h0M362 1153h0M365 1215h0M470 1218h0M452 1222h0M475 1129h0M328 1197h0M331 1164h0M323 1183h0M413 1193h0M345 1155h0M485 1179h0M424 1097h0M386 1154h0M404 1190h0M392 1201h0M475 1127h0M407 1108h0M412 1099h0M399 1131h0M435 1211h0M419 1198h0M480 1154h0M478 1203h0M475 1130h0M470 1217h0M335 1160h0M452 1222h0M428 1207h0M482 1185h0M441 1215h0M335 1203h0M406 1119h0M406 1188h0M480 1151h0M413 1193h0M325 1194h0M483 1186h0M388 1203h0M346 1212h0M325 1179h0M471 1217h0M454 1115h0M461 1221h0M387 1157h0M424 1097h0M451 1221h0M397 1133h0M343 1209h0" stroke="#1728f7"/><path d="M474 1213h0M335 1164h0M474 1213h0M389 1156h0M420 1095h0M391 1157h0M444 1107h0M381 1209h0M467 1218h0M391 1201h0M408 1189h0M478 1204h0M425 1203h0M415 1098h0M380 1209h0M403 1186h0M344 1209h0M385 1157h0M347 1155h0M406 1119h0M418 1195h0M363 1152h0M385 1206h0M339 1162h0M360 1153h0M354 1213h0M350 1211h0M328 1194h0M475 1130h0M387 1155h0M462 1221h0M475 1206h0M409 1116h0M327 1193h0M482 1179h0M465 1220h0M483 1176h0M408 1108h0M332 1165h0M434 1211h0M358 1153h0M441 1106h0M344 1209h0M403 1124h0M357 1213h0M475 1209h0M430 1098h0" stroke="#1c30f6"/><path d="M347 1210h0M482 1182h0M472 1128h0M481 1190h0M363 1213h0M339 1161h0M478 1140h0M395 1156h0M427 1097h0M483 1182h0M326 1189h0M423 1099h0M395 1138h0M401 1185h0M328 1174h0M444 1109h0M355 1212h0M349 1156h0M410 1190h0M477 1141h0M461 1119h0M393 1158h0M418 1099h0M477 1134h0M410 1102h0M419 1196h0M408 1104h0M426 1203h0M477 1141h0M399 1188h0M329 1187h0M430 1099h0M471 1126h0M477 1141h0M462 1220h0M461 1221h0M404 1186h0M396 1137h0M481 1153h0M364 1154h0M410 1105h0M338 1206h0M343 1160h0M395 1162h0M396 1139h0M455 1221h0M406 1124h0M474 1210h0M393 1159h0" stroke="#2138f5"/><path d="M405 1126h0M395 1158h0M431 1099h0M394 1145h0M326 1178h0M401 1181h0M342 1159h0M399 1134h0M345 1158h0M454 1116h0M470 1126h0M410 1110h0M419 1099h0M385 1203h0M479 1146h0M453 1219h0M391 1161h0M479 1196h0M471 1213h0M366 1154h0M330 1169h0M385 1204h0M420 1100h0M395 1152h0M479 1195h0M482 1182h0M427 1101h0M344 1207h0M472 1128h0M335 1165h0M426 1100h0M395 1148h0M338 1163h0M480 1187h0M390 1162h0M329 1179h0M460 1119h0M473 1128h0M391 1198h0M393 1144h0M455 1220h0M461 1218h0M404 1184h0M361 1155h0M329 1188h0M478 1149h0M482 1174h0M395 1153h0M471 1209h0M453 1218h0M415 1101h0M396 1139h0M342 1204h0M330 1197h0M472 1129h0" stroke="#2640f4"/><path d="M333 1199h0M476 1139h0M418 1101h0M390 1199h0M391 1161h0M395 1148h0M367 1211h0M397 1167h0M453 1215h0M362 1211h0M370 1211h0M334 1166h0M452 1219h0M328 1184h0M398 1185h0M344 1207h0M432 1205h0M328 1187h0M421 1103h0M363 1154h0M468 1124h0M352 1157h0M394 1166h0M333 1196h0M342 1161h0M403 1130h0M395 1149h0M330 1193h0M411 1118h0M370 1155h0M440 1212h0M422 1195h0M399 1135h0M331 1196h0M402 1178h0M394 1150h0M427 1099h0M461 1120h0M396 1168h0M398 1177h0M473 1205h0M473 1204h0M388 1165h0M335 1199h0" stroke="#2b48f3"/><path d="M397 1159h0M401 1180h0M336 1202h0M461 1218h0M396 1140h0M415 1188h0M401 1173h0M406 1126h0M333 1196h0M479 1160h0M354 1156h0M466 1213h0M461 1218h0M427 1103h0M398 1136h0M473 1205h0M415 1190h0M400 1163h0M330 1179h0M481 1172h0M468 1126h0M469 1206h0M444 1212h0M396 1179h0M445 1114h0M342 1205h0M480 1171h0M468 1212h0M458 1120h0M405 1180h0M379 1161h0M476 1196h0M453 1217h0M420 1105h0M384 1201h0M330 1173h0M396 1143h0M396 1140h0M474 1138h0M349 1159h0M343 1163h0M331 1191h0M395 1175h0M405 1177h0M368 1155h0M400 1169h0M400 1160h0M398 1152h0M379 1204h0M374 1158h0M415 1114h0M474 1140h0M480 1186h0M397 1169h0M459 1214h0M406 1181h0M358 1210h0M330 1181h0M402 1135h0M355 1210h0" stroke="#3050f2"/><path d="M366 1211h0M341 1161h0M433 1106h0M351 1208h0M413 1111h0M396 1186h0M476 1146h0M414 1111h0M476 1148h0M387 1199h0M418 1191h0M428 1200h0M455 1119h0M465 1215h0M453 1117h0M401 1167h0M395 1182h0M386 1163h0M456 1119h0M358 1208h0M415 1113h0M329 1178h0M431 1102h0M422 1194h0M441 1112h0M476 1193h0M394 1176h0M438 1111h0M408 1123h0M334 1197h0M399 1161h0M481 1175h0M442 1116h0M345 1206h0M408 1127h0M434 1106h0M367 1157h0M396 1145h0M401 1169h0M397 1139h0M337 1171h0M422 1108h0M361 1156h0M396 1179h0M388 1167h0M399 1171h0M375 1207h0M341 1202h0M473 1198h0M455 1119h0M385 1201h0M339 1202h0M358 1210h0M338 1166h0M351 1160h0M478 1188h0M415 1116h0M478 1187h0" stroke="#3558f1"/><path d="M394 1191h0M440 1112h0M391 1165h0M396 1177h0M369 1210h0M396 1169h0M382 1200h0M388 1198h0M382 1160h0M349 1207h0M436 1208h0M395 1173h0M404 1161h0M338 1166h0M432 1106h0M399 1159h0M386 1199h0M384 1202h0M386 1164h0M479 1160h0M401 1163h0M404 1157h0M389 1166h0M444 1114h0M429 1105h0M380 1161h0M395 1177h0M399 1168h0M404 1175h0M467 1208h0M378 1204h0M395 1168h0M368 1209h0M429 1200h0M381 1204h0M429 1199h0M355 1157h0M475 1150h0M397 1170h0M340 1201h0M435 1108h0M465 1126h0M403 1169h0M391 1188h0M388 1167h0M479 1161h0M347 1161h0M475 1145h0M423 1105h0M444 1116h0M386 1198h0M380 1162h0M415 1116h0M471 1199h0M425 1103h0M365 1210h0M417 1111h0M360 1207h0M436 1108h0M374 1160h0" stroke="#3a60f0"/><path d="M478 1177h0M393 1184h0M461 1123h0M455 1213h0M424 1105h0M478 1171h0M398 1146h0M429 1199h0M429 1200h0M388 1168h0M451 1215h0M382 1202h0M473 1139h0M378 1161h0M480 1172h0M367 1157h0M401 1173h0M459 1213h0M332 1177h0M366 1158h0M452 1214h0M465 1209h0M474 1145h0M430 1104h0M439 1206h0M469 1206h0M374 1205h0M393 1173h0M336 1196h0M395 1178h0M334 1189h0M426 1105h0M414 1118h0M373 1208h0M401 1153h0M347 1162h0M478 1175h0M477 1157h0M473 1137h0M453 1212h0M435 1201h0M388 1197h0M406 1178h0M473 1199h0M456 1120h0M429 1199h0M478 1166h0M402 1138h0M471 1204h0M455 1215h0M409 1124h0M467 1204h0M478 1156h0M474 1200h0M414 1119h0" stroke="#3f6eef"/><path d="M470 1134h0M414 1119h0M338 1167h0M355 1207h0M400 1151h0M333 1172h0M415 1111h0M351 1160h0M478 1171h0M373 1160h0M478 1180h0M478 1171h0M476 1152h0M337 1172h0M429 1109h0M400 1147h0M373 1158h0M471 1137h0M362 1208h0M417 1186h0M418 1111h0M471 1134h0M393 1181h0M425 1115h0M476 1168h0M472 1136h0M411 1124h0M333 1187h0M477 1168h0M476 1158h0M368 1207h0M462 1208h0M473 1195h0M475 1183h0M417 1187h0M439 1114h0M358 1208h0M474 1193h0M405 1173h0M474 1194h0M371 1161h0M405 1135h0M405 1165h0M415 1120h0M334 1174h0M332 1189h0M373 1207h0M392 1191h0M367 1207h0M434 1110h0M408 1126h0M400 1147h0M459 1213h0M391 1176h0M466 1130h0M405 1160h0" stroke="#457bee"/><path d="M400 1150h0M373 1159h0M394 1180h0M406 1169h0M403 1139h0M391 1174h0M390 1170h0M420 1109h0M391 1187h0M357 1208h0M415 1182h0M432 1114h0M405 1162h0M478 1167h0M390 1181h0M478 1180h0M406 1165h0M404 1168h0M392 1175h0M362 1160h0M419 1186h0M454 1209h0M475 1193h0M461 1210h0M334 1180h0M420 1187h0M356 1207h0M344 1199h0M334 1175h0M393 1177h0M394 1179h0M388 1171h0M434 1107h0M389 1191h0M427 1197h0M463 1210h0M458 1125h0M405 1165h0M410 1175h0M426 1107h0M363 1205h0M389 1172h0M471 1137h0M376 1163h0M472 1193h0M368 1160h0M426 1111h0M467 1131h0M354 1162h0M402 1154h0M374 1204h0M405 1166h0M420 1115h0M459 1210h0M387 1189h0M338 1190h0M421 1113h0M368 1160h0" stroke="#4a89ee"/><path d="M344 1202h0M475 1150h0M431 1113h0M351 1163h0M383 1198h0M478 1165h0M349 1162h0M436 1115h0M386 1167h0M431 1111h0M348 1162h0M407 1171h0M422 1192h0M345 1168h0M419 1188h0M432 1200h0M364 1206h0M420 1187h0M385 1194h0M435 1114h0M362 1205h0M475 1190h0M468 1133h0M467 1201h0M430 1107h0M382 1196h0M453 1210h0M356 1161h0M404 1134h0M372 1204h0M382 1168h0M408 1137h0M386 1196h0M439 1116h0M464 1127h0M417 1185h0M334 1182h0M476 1173h0M429 1111h0M356 1161h0M385 1168h0M419 1115h0M463 1209h0M430 1114h0M474 1152h0M447 1210h0M373 1204h0M402 1141h0M407 1162h0M457 1122h0M390 1176h0M476 1180h0M378 1164h0M430 1111h0M477 1165h0M340 1172h0M444 1119h0M412 1178h0M446 1209h0M457 1210h0M448 1121h0M334 1187h0" stroke="#5096ed"/><path d="M353 1204h0M385 1175h0M412 1124h0M455 1123h0M335 1186h0M433 1198h0M337 1170h0M407 1169h0M339 1177h0M391 1179h0M387 1175h0M353 1206h0M335 1184h0M403 1147h0M409 1132h0M469 1132h0M474 1152h0M420 1186h0M388 1182h0M341 1170h0M383 1195h0M340 1172h0M432 1200h0M358 1204h0M420 1115h0M417 1183h0M409 1130h0M422 1115h0M458 1124h0M339 1168h0M463 1207h0M467 1130h0M339 1177h0M351 1203h0M341 1171h0M406 1153h0M475 1157h0M354 1162h0M467 1198h0M338 1171h0M343 1171h0M467 1200h0M380 1168h0M455 1211h0M478 1170h0M341 1171h0M455 1124h0M405 1159h0M451 1121h0M388 1170h0M347 1167h0M368 1205h0M381 1198h0M384 1175h0M473 1185h0M427 1112h0M440 1117h0M363 1162h0M351 1203h0M384 1170h0M461 1127h0" stroke="#55a4ec"/><path d="M373 1201h0M474 1155h0M418 1182h0M476 1177h0M425 1113h0M341 1186h0M427 1194h0M373 1204h0M464 1204h0M388 1183h0M417 1185h0M340 1193h0M475 1186h0M456 1211h0M436 1201h0M381 1195h0M412 1126h0M441 1118h0M386 1185h0M382 1173h0M406 1168h0M388 1179h0M427 1194h0M372 1203h0M414 1181h0M372 1167h0M427 1114h0M388 1184h0M383 1198h0M407 1150h0M412 1124h0M402 1143h0M446 1206h0M361 1163h0M474 1156h0M468 1203h0M402 1142h0M338 1173h0M451 1205h0M386 1192h0M387 1192h0M422 1117h0M372 1165h0M336 1182h0M387 1195h0M443 1202h0M473 1192h0M358 1160h0M366 1160h0M350 1203h0M444 1205h0M389 1179h0M403 1145h0M419 1122h0M342 1195h0" stroke="#5ab2eb"/><path d="M444 1203h0M444 1120h0M472 1144h0M453 1205h0M353 1202h0M420 1185h0M463 1131h0M462 1129h0M371 1165h0M363 1162h0M440 1203h0M413 1127h0M406 1161h0M410 1173h0M433 1199h0M409 1160h0M417 1183h0M337 1184h0M428 1194h0M426 1193h0M455 1206h0M424 1191h0M475 1167h0M466 1132h0M448 1206h0M473 1167h0M338 1185h0M345 1200h0M475 1165h0M375 1166h0M346 1197h0M411 1170h0M467 1197h0M388 1184h0M422 1118h0M376 1203h0M460 1206h0M378 1196h0M455 1202h0M342 1196h0M417 1183h0M407 1158h0M385 1186h0M422 1186h0M415 1178h0M460 1202h0M344 1174h0M471 1143h0M474 1181h0M361 1203h0M340 1172h0M380 1193h0M342 1194h0M342 1171h0M384 1182h0M458 1203h0" stroke="#60bfea"/><path d="M473 1145h0M456 1127h0M412 1172h0M384 1182h0M418 1125h0M370 1203h0M347 1167h0M454 1211h0M476 1165h0M457 1127h0M344 1176h0M415 1125h0M425 1191h0M345 1174h0M372 1166h0M373 1203h0M440 1121h0M440 1198h0M339 1188h0M383 1194h0M473 1156h0M353 1165h0M433 1111h0M456 1205h0M363 1203h0M412 1168h0M338 1184h0M375 1202h0M386 1188h0M472 1151h0M350 1168h0M466 1198h0M474 1178h0M338 1180h0M351 1165h0M472 1186h0M475 1176h0M365 1163h0M410 1165h0M456 1128h0M362 1202h0M348 1171h0M472 1155h0M365 1163h0M407 1152h0M440 1120h0M454 1203h0M464 1132h0M414 1128h0M433 1196h0M380 1197h0M417 1178h0M409 1162h0M434 1199h0M340 1192h0M447 1203h0M383 1180h0M344 1195h0M466 1133h0M345 1169h0M445 1121h0M412 1165h0M352 1197h0M418 1124h0M473 1187h0" stroke="#65cdea"/><path d="M468 1198h0M416 1126h0M340 1174h0M404 1152h0M473 1171h0M339 1174h0M473 1183h0M421 1118h0M378 1167h0M365 1167h0M338 1189h0M343 1173h0M363 1203h0M407 1150h0M338 1182h0M344 1177h0M411 1130h0M407 1156h0M374 1199h0M415 1126h0M426 1119h0M356 1166h0M452 1125h0M361 1163h0M351 1200h0M408 1166h0M472 1174h0M360 1162h0M470 1148h0M473 1173h0M408 1139h0M368 1198h0M473 1175h0M462 1203h0M413 1174h0M340 1183h0M376 1190h0M374 1197h0M435 1198h0M357 1165h0M469 1141h0M348 1197h0M364 1201h0M406 1144h0M363 1195h0M471 1157h0M357 1200h0M358 1165h0M463 1198h0M407 1151h0M381 1183h0M379 1199h0M409 1136h0M439 1118h0M449 1121h0M376 1168h0M342 1180h0M408 1147h0M385 1179h0M366 1201h0M425 1190h0M343 1174h0M464 1197h0M421 1114h0M407 1152h0M373 1164h0M438 1197h0" stroke="#6bdae9"/><path d="M374 1169h0M467 1195h0M359 1166h0M423 1187h0M383 1186h0M379 1169h0M378 1179h0M473 1162h0M431 1195h0M465 1200h0M471 1155h0M470 1187h0M346 1197h0M471 1188h0M345 1193h0M453 1205h0M404 1145h0M473 1177h0M361 1200h0M411 1172h0M409 1150h0M360 1167h0M349 1198h0M352 1165h0M448 1203h0M363 1167h0M409 1164h0M416 1173h0M468 1192h0M473 1162h0M412 1170h0M446 1201h0M347 1197h0M469 1192h0M376 1170h0M446 1125h0M366 1170h0M381 1193h0M434 1119h0M357 1166h0M382 1187h0M350 1168h0M338 1189h0M410 1154h0M412 1168h0M347 1198h0M468 1148h0M382 1185h0M463 1135h0M435 1118h0M460 1131h0M375 1195h0M450 1204h0M343 1183h0M369 1170h0M411 1133h0M474 1177h0M440 1121h0M420 1181h0M469 1147h0M433 1197h0M471 1182h0M414 1173h0M466 1197h0M379 1169h0M358 1179h0M450 1204h0M375 1194h0M347 1195h0M339 1182h0M406 1146h0" stroke="#70e8e8"/><path d="M445 1201h0M408 1145h0M410 1146h0M364 1203h0M381 1172h0M461 1131h0M463 1200h0M457 1199h0M445 1121h0M456 1201h0M355 1168h0M344 1185h0M411 1132h0M436 1198h0M358 1166h0M470 1147h0M469 1152h0M356 1194h0M407 1149h0M369 1166h0M370 1197h0M382 1191h0M381 1184h0M383 1179h0M411 1135h0M374 1194h0M425 1189h0M434 1194h0M353 1176h0M365 1169h0M342 1188h0M461 1205h0M440 1198h0M471 1161h0M382 1187h0M373 1201h0M372 1194h0M380 1184h0M439 1197h0M470 1154h0M364 1185h0M450 1129h0M416 1173h0M372 1196h0M341 1188h0M366 1198h0M349 1175h0M369 1193h0M470 1161h0M450 1200h0M468 1142h0M343 1178h0M347 1198h0M435 1121h0M472 1164h0M411 1133h0M363 1195h0M356 1201h0M381 1192h0" stroke="#76eadf"/><path d="M447 1197h0M458 1199h0M347 1190h0M436 1196h0M466 1194h0M347 1193h0M359 1194h0M423 1184h0M437 1121h0M412 1171h0M408 1152h0M470 1158h0M353 1171h0M348 1195h0M462 1202h0M359 1171h0M359 1199h0M435 1193h0M464 1137h0M360 1199h0M437 1196h0M451 1198h0M347 1170h0M409 1151h0M432 1119h0M417 1124h0M353 1193h0M357 1171h0M379 1177h0M473 1178h0M423 1121h0M471 1153h0M344 1181h0M472 1164h0M377 1173h0M378 1184h0M347 1196h0M459 1197h0M374 1196h0M409 1153h0M365 1200h0M464 1197h0M364 1172h0M417 1181h0M367 1167h0M362 1167h0M409 1149h0M471 1179h0M469 1151h0M353 1177h0M349 1190h0M351 1165h0M439 1196h0M374 1197h0M441 1122h0M342 1178h0M371 1187h0M346 1187h0M347 1176h0M450 1126h0M354 1168h0M367 1192h0M365 1199h0M373 1192h0M359 1169h0M418 1178h0M362 1193h0M469 1173h0M341 1182h0M416 1174h0M377 1177h0M354 1174h0M468 1183h0M467 1193h0M428 1191h0M441 1122h0M407 1150h0M471 1160h0M365 1172h0M354 1200h0M366 1173h0M474 1177h0M363 1170h0M348 1168h0M362 1166h0M377 1192h0M359 1166h0M438 1199h0M468 1159h0M345 1184h0M355 1197h0M409 1158h0M362 1195h0M354 1179h0M471 1183h0M373 1194h0M404 1152h0" stroke="#7bebd6"/><path d="M358 1168h0M466 1141h0M353 1197h0M451 1200h0M468 1144h0M438 1196h0M355 1192h0M469 1179h0M380 1186h0M378 1178h0M364 1167h0M352 1165h0M444 1125h0M362 1200h0M365 1172h0M346 1176h0M418 1126h0M360 1195h0M413 1134h0M348 1172h0M450 1202h0M416 1174h0M410 1149h0M382 1180h0M367 1173h0M356 1166h0M455 1131h0M430 1122h0M365 1175h0M370 1177h0M344 1189h0M344 1177h0M359 1189h0M375 1171h0M408 1148h0M409 1151h0M464 1138h0M378 1179h0M422 1181h0M460 1196h0M362 1199h0M351 1173h0M372 1184h0M469 1157h0M373 1182h0M363 1191h0M378 1176h0M472 1168h0M344 1180h0M352 1188h0M423 1124h0M353 1193h0M380 1176h0M356 1185h0M470 1172h0M355 1192h0M460 1135h0M363 1187h0M446 1198h0M411 1140h0M350 1177h0M364 1175h0M411 1154h0M355 1188h0M353 1175h0M422 1185h0M370 1196h0M465 1190h0M464 1192h0M347 1190h0" stroke="#81edce"/><path d="M467 1147h0M437 1124h0M443 1198h0M420 1178h0M373 1177h0M359 1169h0M463 1136h0M441 1126h0M344 1186h0M421 1124h0M411 1144h0M470 1161h0M371 1184h0M426 1187h0M473 1173h0M378 1187h0M376 1181h0M351 1180h0M341 1185h0M373 1185h0M345 1185h0M413 1168h0M352 1174h0M373 1169h0M365 1196h0M468 1151h0M362 1169h0M359 1197h0M463 1136h0M458 1197h0M410 1147h0M365 1200h0M414 1169h0M411 1139h0M470 1168h0M465 1139h0M471 1180h0M437 1122h0M453 1129h0M346 1181h0M358 1190h0M472 1184h0M371 1190h0M412 1150h0M420 1178h0M411 1159h0M415 1168h0M463 1194h0M436 1197h0M353 1175h0M417 1175h0M356 1171h0M352 1194h0M355 1190h0M351 1178h0M411 1150h0M440 1193h0M366 1190h0M415 1172h0M345 1186h0M365 1169h0M371 1171h0M368 1193h0M471 1162h0M459 1199h0M432 1191h0M465 1193h0M349 1193h0M365 1173h0M434 1124h0M356 1182h0M356 1167h0M359 1193h0M368 1195h0M470 1179h0M459 1134h0M416 1164h0M368 1171h0M361 1175h0M372 1191h0M372 1192h0M451 1198h0M412 1159h0M377 1184h0M425 1184h0M410 1150h0M351 1173h0M459 1194h0M409 1144h0M358 1177h0" stroke="#86eec5"/><path d="M358 1175h0M350 1187h0M358 1190h0M461 1192h0M355 1187h0M351 1190h0M467 1178h0M348 1183h0M467 1145h0M360 1197h0M459 1199h0M415 1128h0M372 1199h0M464 1193h0M372 1183h0M452 1205h0M419 1171h0M431 1122h0M461 1139h0M421 1128h0M381 1181h0M365 1189h0M413 1134h0M372 1188h0M375 1193h0M374 1176h0M364 1184h0M361 1186h0M413 1165h0M470 1159h0M420 1125h0M365 1189h0M409 1149h0M355 1183h0M416 1168h0M468 1182h0M469 1153h0M450 1201h0M369 1179h0M416 1172h0M367 1176h0M370 1178h0M366 1176h0M463 1194h0M352 1187h0M360 1175h0M454 1195h0M361 1181h0M432 1190h0M364 1183h0M452 1131h0M363 1189h0M428 1186h0M369 1182h0M378 1180h0M357 1174h0M421 1177h0M466 1192h0M448 1199h0M350 1188h0M363 1194h0M355 1173h0M427 1123h0M343 1186h0M434 1125h0M353 1175h0M411 1153h0M366 1180h0M451 1127h0M439 1192h0M380 1186h0M358 1174h0M435 1123h0M458 1195h0M354 1183h0M358 1172h0M451 1130h0M359 1177h0" stroke="#8cf0bc"/><path d="M410 1145h0M369 1191h0M411 1139h0M433 1191h0M362 1192h0M362 1184h0M413 1138h0M446 1196h0M367 1170h0M428 1122h0M459 1196h0M445 1193h0M470 1177h0M366 1194h0M374 1189h0M466 1187h0M435 1125h0M368 1183h0M409 1138h0M469 1169h0M368 1188h0M375 1188h0M357 1184h0M463 1194h0M360 1174h0M445 1125h0M454 1132h0M462 1190h0M410 1150h0M454 1199h0M446 1199h0M370 1185h0M455 1134h0M348 1190h0M344 1184h0M441 1199h0M430 1123h0M416 1130h0M381 1187h0M426 1122h0M442 1193h0M364 1175h0M462 1140h0M449 1129h0M372 1190h0M428 1123h0M347 1185h0M359 1185h0M447 1195h0M451 1196h0M431 1126h0M357 1187h0M370 1188h0M364 1182h0M444 1128h0M428 1187h0M345 1180h0M364 1181h0M457 1130h0M413 1147h0M360 1189h0M418 1172h0M370 1176h0M464 1148h0M367 1173h0M371 1198h0M426 1123h0M460 1188h0M423 1124h0M450 1131h0M436 1125h0M359 1179h0M439 1126h0M368 1179h0M364 1196h0M471 1178h0M465 1184h0M360 1182h0M356 1184h0M361 1189h0" stroke="#92f2b3"/><path d="M459 1194h0M420 1181h0M349 1185h0M463 1186h0M432 1191h0M416 1141h0M464 1190h0M420 1168h0M468 1181h0M366 1194h0M453 1197h0M465 1189h0M416 1162h0M355 1177h0M467 1164h0M364 1185h0M375 1176h0M452 1197h0M454 1133h0M436 1124h0M463 1187h0M370 1180h0M468 1165h0M453 1134h0M456 1190h0M426 1123h0M418 1168h0M413 1162h0M358 1185h0M446 1195h0M377 1177h0M423 1180h0M367 1189h0M468 1180h0M350 1181h0M369 1189h0M464 1179h0M376 1186h0M358 1190h0M422 1125h0M451 1197h0M413 1159h0M362 1197h0M415 1136h0M456 1132h0M415 1160h0M442 1127h0M373 1182h0M443 1128h0M420 1173h0M433 1188h0M360 1183h0M362 1171h0M372 1188h0M371 1188h0M371 1196h0M358 1185h0M464 1145h0" stroke="#97f3aa"/><path d="M432 1125h0M465 1149h0M420 1126h0M358 1183h0M428 1122h0M470 1174h0M469 1159h0M414 1153h0M361 1176h0M445 1129h0M467 1163h0M348 1188h0M464 1184h0M455 1198h0M415 1133h0M424 1179h0M417 1162h0M450 1131h0M427 1182h0M368 1189h0M468 1173h0M412 1155h0M354 1181h0M464 1188h0M354 1191h0M453 1193h0M414 1155h0M466 1179h0M353 1179h0M465 1187h0M424 1123h0M353 1186h0M436 1188h0M356 1182h0M420 1130h0M442 1126h0M422 1177h0M463 1186h0M412 1151h0M370 1183h0M452 1196h0M365 1191h0M422 1175h0M456 1196h0M461 1147h0M415 1162h0M360 1188h0M358 1179h0M465 1179h0M375 1187h0M465 1163h0M466 1158h0M425 1182h0" stroke="#9df5a2"/><path d="M433 1124h0M469 1166h0M416 1166h0M470 1175h0M422 1170h0M413 1157h0M358 1177h0M468 1180h0M371 1188h0M411 1146h0M462 1145h0M462 1188h0M441 1129h0M424 1127h0M429 1183h0M364 1179h0M415 1141h0M427 1184h0M441 1128h0M457 1192h0M445 1129h0M446 1132h0M449 1132h0M420 1127h0M429 1124h0M439 1192h0M431 1182h0M437 1191h0M414 1162h0M422 1127h0M423 1129h0M459 1139h0M462 1139h0" stroke="#a2f699"/><path d="M459 1188h0M423 1130h0M417 1137h0M421 1128h0M422 1167h0M451 1131h0M463 1140h0M446 1193h0M466 1157h0M437 1189h0M463 1185h0M417 1141h0M458 1188h0M423 1166h0M417 1161h0M461 1187h0M435 1128h0M430 1184h0M464 1181h0M451 1136h0M440 1127h0M439 1129h0M468 1171h0M414 1145h0M465 1180h0M466 1171h0M461 1146h0M461 1150h0M424 1175h0M465 1169h0M425 1127h0M434 1126h0M418 1169h0M438 1188h0M466 1170h0M436 1124h0M419 1132h0M430 1180h0M440 1127h0M466 1177h0M416 1139h0M469 1176h0M352 1182h0M438 1128h0M444 1130h0M366 1191h0M459 1146h0" stroke="#a8f890"/><path d="M450 1131h0M423 1129h0M450 1134h0M435 1184h0M415 1150h0M415 1137h0M447 1132h0M429 1179h0M420 1166h0M461 1176h0M458 1190h0M464 1179h0M460 1144h0M446 1191h0M418 1154h0M413 1145h0M439 1128h0M424 1128h0M413 1142h0M463 1168h0M417 1164h0M420 1135h0M412 1151h0M447 1133h0M437 1187h0M443 1129h0M412 1141h0M448 1195h0M438 1189h0M457 1137h0M434 1126h0M424 1179h0M453 1133h0M467 1180h0M422 1175h0M417 1153h0M426 1177h0M464 1165h0M456 1138h0M468 1175h0M414 1150h0" stroke="#b0f786"/><path d="M439 1129h0M423 1176h0M431 1181h0M430 1187h0M418 1146h0M430 1126h0M452 1189h0M417 1154h0M415 1149h0M457 1140h0M433 1184h0M416 1140h0M431 1126h0M429 1183h0M437 1127h0M416 1156h0M429 1181h0M420 1127h0M466 1180h0M465 1171h0M443 1185h0M436 1187h0M426 1179h0M450 1133h0M464 1176h0M418 1136h0M439 1185h0M462 1159h0M456 1146h0M439 1129h0M428 1126h0M458 1187h0M418 1168h0M434 1182h0M422 1155h0M447 1134h0M453 1139h0M427 1179h0" stroke="#b8f67d"/><path d="M425 1169h0M460 1153h0M454 1133h0M432 1126h0M420 1133h0M429 1182h0M448 1134h0M461 1174h0M459 1176h0M432 1175h0M426 1127h0M450 1137h0M455 1186h0M439 1182h0M461 1152h0M422 1132h0M450 1132h0M421 1132h0M423 1170h0M460 1166h0M448 1132h0M462 1148h0M428 1178h0M459 1171h0M460 1144h0M462 1160h0M462 1173h0M422 1173h0M433 1181h0M460 1142h0M421 1153h0M441 1193h0M456 1147h0M436 1130h0M419 1146h0M419 1160h0M454 1140h0M447 1191h0M419 1133h0M415 1151h0M446 1134h0M420 1150h0M454 1191h0M418 1147h0M446 1133h0M460 1152h0M454 1143h0M457 1189h0M459 1150h0" stroke="#c0f673"/><path d="M461 1155h0M465 1166h0M421 1133h0M412 1150h0M424 1172h0M458 1171h0M463 1151h0M458 1185h0M453 1141h0M465 1165h0M418 1137h0M451 1135h0M452 1140h0M418 1134h0M453 1145h0M462 1150h0M437 1186h0M445 1133h0M441 1134h0M420 1135h0M423 1169h0M459 1151h0M455 1186h0M425 1174h0M458 1156h0M419 1141h0M461 1157h0M462 1176h0M453 1185h0M419 1139h0M459 1183h0M463 1179h0M455 1147h0M456 1141h0M419 1150h0M451 1137h0M428 1129h0M415 1153h0M457 1144h0M439 1130h0M452 1137h0M463 1160h0M463 1168h0M417 1156h0M458 1138h0M463 1169h0M438 1184h0M455 1192h0M460 1165h0" stroke="#c8f56a"/><path d="M426 1169h0M445 1187h0M459 1157h0M417 1142h0M455 1186h0M458 1155h0M436 1183h0M418 1147h0M421 1173h0M462 1165h0M459 1178h0M454 1187h0M422 1164h0M435 1130h0M449 1138h0M419 1154h0M463 1168h0M462 1181h0M417 1152h0M441 1134h0M419 1139h0M445 1181h0M451 1181h0M455 1138h0M435 1129h0M419 1159h0M432 1185h0M434 1129h0M423 1135h0M418 1150h0M424 1168h0M417 1143h0M418 1133h0M421 1139h0M433 1178h0M443 1187h0M417 1153h0M459 1170h0M462 1162h0M419 1145h0M426 1170h0M459 1175h0M428 1174h0M439 1184h0M456 1163h0M419 1144h0" stroke="#d0f460"/><path d="M423 1166h0M423 1173h0M444 1186h0M454 1136h0M456 1151h0M422 1169h0M439 1183h0M424 1135h0M458 1163h0M459 1162h0M419 1140h0M434 1179h0M419 1156h0M451 1138h0M459 1153h0M423 1158h0M447 1186h0M421 1138h0M466 1159h0M448 1134h0M461 1175h0M418 1158h0M461 1160h0M455 1177h0M427 1170h0M439 1134h0M423 1163h0M459 1166h0M445 1137h0M421 1149h0M462 1162h0" stroke="#d8f356"/><path d="M424 1132h0M448 1145h0M422 1150h0M426 1135h0M455 1141h0M418 1143h0M426 1167h0M453 1177h0M444 1186h0M464 1170h0M444 1182h0M454 1184h0M419 1164h0M440 1130h0M450 1188h0M439 1142h0M431 1181h0M421 1150h0M436 1181h0M425 1169h0M444 1136h0M451 1188h0M421 1164h0M427 1171h0M456 1173h0M439 1181h0M447 1135h0M419 1149h0M434 1133h0M457 1169h0M455 1185h0M433 1174h0M445 1142h0M448 1186h0M457 1165h0M460 1165h0M453 1148h0M429 1131h0M422 1136h0M433 1172h0M447 1187h0M441 1133h0M462 1171h0" stroke="#e0f24d"/><path d="M418 1153h0M439 1134h0M444 1181h0M437 1176h0M458 1173h0M415 1145h0M453 1178h0M442 1184h0M463 1172h0M457 1163h0M453 1145h0M420 1150h0M447 1184h0M437 1184h0M421 1144h0M419 1142h0M460 1168h0M421 1149h0M445 1187h0M459 1169h0M460 1154h0M450 1140h0M432 1138h0M443 1176h0M429 1175h0M460 1175h0M452 1157h0M427 1176h0M457 1176h0M439 1182h0M445 1140h0M424 1176h0M454 1150h0M423 1157h0M453 1144h0M440 1131h0M422 1153h0M439 1134h0" stroke="#e8f243"/><path d="M431 1181h0M420 1150h0M420 1146h0M445 1183h0M421 1161h0M449 1183h0M444 1143h0M461 1159h0M426 1165h0M424 1159h0M453 1149h0M453 1160h0M433 1179h0M459 1167h0M443 1188h0M421 1133h0M445 1140h0M451 1156h0M435 1131h0M452 1187h0M423 1163h0M456 1168h0M451 1188h0M452 1145h0M429 1133h0M462 1163h0M418 1154h0M431 1133h0M456 1154h0M420 1141h0M456 1187h0M457 1180h0M449 1141h0M452 1179h0M455 1157h0M434 1183h0" stroke="#f0f13a"/><path d="M437 1177h0M451 1144h0M445 1179h0M435 1178h0M439 1178h0M433 1169h0M435 1130h0M447 1139h0M424 1154h0M432 1175h0M435 1133h0M440 1182h0M456 1153h0M458 1179h0M448 1179h0M446 1182h0M416 1144h0M432 1174h0M427 1160h0M458 1165h0M454 1176h0M432 1172h0M436 1175h0M452 1150h0M458 1148h0M421 1144h0M458 1165h0M426 1166h0M423 1135h0M452 1145h0M452 1183h0M448 1135h0M460 1165h0M440 1134h0M458 1178h0" stroke="#f8f030"/><path d="M453 1171h0M456 1182h0M419 1152h0M425 1132h0M442 1184h0M445 1178h0M426 1163h0M431 1130h0M446 1142h0M422 1146h0M424 1135h0M454 1158h0M448 1137h0M448 1148h0M452 1160h0M445 1173h0M455 1152h0M453 1167h0M424 1158h0M435 1171h0M432 1175h0M422 1135h0M423 1156h0M427 1161h0M451 1145h0M429 1134h0M440 1140h0M449 1144h0M434 1172h0M423 1134h0M456 1165h0M422 1144h0M458 1154h0M423 1153h0M428 1159h0M451 1154h0M443 1179h0M445 1177h0M455 1163h0M453 1159h0M450 1145h0M457 1163h0M430 1169h0M420 1154h0" stroke="#f7e72f"/><path d="M451 1185h0M464 1173h0M457 1167h0M424 1145h0M448 1181h0M457 1180h0M441 1174h0M446 1186h0M452 1156h0M435 1175h0M426 1162h0M447 1145h0M449 1156h0M452 1156h0M455 1168h0M456 1173h0M435 1178h0M459 1165h0M452 1166h0M450 1139h0M455 1160h0M450 1140h0M436 1133h0M452 1157h0M460 1169h0M441 1132h0M461 1169h0M453 1145h0M457 1168h0M456 1175h0" stroke="#f6de2e"/><path d="M452 1161h0M438 1173h0M439 1134h0M453 1166h0M425 1168h0M447 1171h0M440 1177h0M442 1140h0M453 1182h0M422 1146h0M456 1159h0M457 1163h0M451 1175h0M457 1165h0M442 1141h0M456 1154h0M433 1176h0M442 1180h0M443 1140h0M441 1167h0M447 1184h0M432 1134h0M446 1145h0M428 1132h0M431 1172h0M452 1179h0M447 1154h0M453 1156h0M447 1146h0M426 1136h0M451 1174h0M426 1130h0M420 1158h0M444 1141h0M453 1156h0M447 1181h0M451 1155h0" stroke="#f6d52e"/><path d="M428 1137h0M425 1161h0M432 1172h0M452 1170h0M440 1176h0M432 1140h0M432 1169h0M440 1180h0M429 1167h0M437 1180h0M450 1173h0M435 1172h0M426 1158h0M447 1150h0M444 1143h0M451 1160h0M446 1165h0M445 1176h0M458 1159h0M450 1165h0M438 1174h0M454 1170h0M421 1156h0M460 1153h0M454 1171h0M449 1156h0M447 1158h0M438 1176h0M448 1145h0M423 1156h0M433 1170h0M424 1140h0M435 1135h0M437 1137h0M425 1138h0M445 1168h0" stroke="#f5cc2d"/><path d="M431 1137h0M454 1153h0M443 1139h0M438 1169h0M435 1172h0M432 1173h0M449 1151h0M450 1176h0M451 1157h0M441 1169h0M446 1174h0M448 1181h0M449 1165h0M423 1153h0M424 1145h0M424 1154h0M438 1141h0M429 1170h0M453 1161h0M439 1139h0M433 1171h0M434 1135h0M425 1158h0M428 1137h0M439 1174h0" stroke="#f4c32c"/><path d="M430 1152h0M453 1161h0M424 1154h0M448 1176h0M423 1157h0M435 1134h0M424 1139h0M426 1164h0M426 1139h0M433 1138h0M443 1141h0M445 1177h0M428 1161h0M445 1166h0M450 1171h0M429 1160h0M451 1162h0M423 1160h0M442 1172h0M457 1163h0M455 1162h0M446 1146h0M444 1169h0M451 1172h0M428 1156h0M446 1150h0M427 1151h0M440 1176h0M427 1143h0M430 1164h0M446 1157h0M433 1134h0M442 1175h0" stroke="#f3ba2b"/><path d="M430 1168h0M433 1172h0M426 1168h0M447 1161h0M435 1168h0M447 1174h0M448 1156h0M449 1180h0M448 1174h0M439 1141h0M433 1168h0M439 1171h0M423 1139h0M449 1167h0M427 1163h0M449 1157h0M449 1167h0M425 1149h0M439 1143h0M455 1157h0M450 1161h0M425 1145h0M453 1151h0M451 1157h0M451 1166h0M438 1139h0M450 1167h0M431 1162h0M443 1178h0M435 1137h0M451 1156h0M444 1143h0M441 1170h0M433 1163h0M438 1142h0" stroke="#f2b12a"/><path d="M451 1157h0M424 1156h0M432 1163h0M448 1172h0M443 1178h0M452 1162h0M441 1165h0M438 1144h0M441 1145h0M450 1169h0M435 1172h0M438 1139h0M424 1144h0M444 1167h0M426 1155h0M445 1151h0M438 1142h0M423 1156h0M453 1165h0M446 1146h0M451 1172h0M440 1170h0M432 1165h0M437 1143h0M437 1168h0M453 1168h0M450 1166h0M439 1169h0M446 1147h0M428 1142h0M447 1156h0M443 1147h0M453 1168h0M451 1174h0M426 1163h0" stroke="#f2a82a"/><path d="M449 1173h0M431 1138h0M426 1151h0M449 1166h0M447 1150h0M439 1140h0M448 1163h0M425 1155h0M445 1152h0M447 1153h0M440 1144h0M441 1167h0M426 1141h0M444 1148h0M429 1161h0M441 1174h0M443 1177h0M429 1138h0" stroke="#f19f29"/><path d="M443 1168h0M443 1146h0M449 1167h0M450 1159h0M435 1137h0M447 1171h0M437 1140h0M433 1162h0M445 1171h0M451 1161h0M425 1148h0M445 1150h0M434 1137h0M441 1142h0M440 1146h0M438 1165h0M438 1162h0M441 1171h0M437 1161h0M452 1170h0M442 1162h0M441 1143h0M441 1144h0M447 1172h0M441 1170h0M438 1138h0M428 1148h0M435 1143h0" stroke="#f09628"/><path d="M444 1166h0M434 1161h0M450 1176h0M444 1164h0M443 1171h0M451 1157h0M447 1174h0M438 1144h0M447 1151h0M429 1160h0M428 1139h0M443 1171h0M433 1160h0M440 1159h0M428 1148h0M436 1142h0M440 1146h0M440 1151h0M440 1170h0M448 1166h0M445 1159h0M443 1162h0" stroke="#ee8926"/><path d="M431 1167h0M437 1166h0M442 1164h0M449 1171h0M446 1165h0M432 1147h0M431 1151h0M428 1143h0M445 1151h0M449 1164h0M446 1155h0M430 1150h0M430 1152h0M442 1154h0M448 1167h0M435 1166h0M448 1157h0M432 1145h0M430 1155h0M441 1153h0M441 1170h0M435 1161h0M442 1146h0M445 1173h0M441 1152h0M440 1143h0M447 1160h0M441 1163h0M437 1140h0M432 1161h0" stroke="#eb7c23"/><path d="M437 1151h0M436 1151h0M439 1158h0M453 1162h0M431 1143h0M437 1167h0M444 1164h0M446 1163h0M439 1160h0M433 1159h0M438 1168h0M431 1141h0M434 1151h0M432 1137h0M442 1147h0M450 1163h0M429 1141h0M436 1164h0M432 1138h0M440 1161h0M438 1157h0M430 1155h0M433 1151h0M435 1164h0M426 1150h0M427 1145h0" stroke="#e86f21"/><path d="M436 1144h0M442 1148h0M430 1141h0M439 1155h0M429 1151h0M441 1169h0M446 1158h0M444 1158h0M444 1148h0M428 1142h0M442 1162h0M446 1166h0M442 1173h0M441 1166h0M441 1163h0M430 1151h0M435 1145h0M429 1157h0M437 1166h0M438 1149h0M437 1160h0M433 1141h0M432 1160h0" stroke="#e6621e"/><path d="M433 1164h0M439 1142h0M438 1162h0M441 1163h0M436 1147h0M435 1151h0M436 1163h0M431 1154h0M445 1161h0M430 1156h0M441 1147h0M451 1162h0M441 1165h0M446 1162h0M429 1141h0M443 1152h0M441 1160h0M425 1143h0M432 1148h0" stroke="#e4551c"/><path d="M429 1160h0M430 1152h0M440 1164h0M443 1166h0M437 1161h0M439 1148h0M442 1154h0M441 1154h0M443 1161h0M439 1149h0M441 1160h0M438 1142h0M430 1148h0M446 1162h0M445 1154h0M433 1146h0M440 1163h0M430 1151h0M445 1172h0M441 1154h0M427 1142h0M436 1144h0M443 1153h0" stroke="#e1481a"/><path d="M429 1148h0M435 1146h0M433 1150h0M438 1160h0M435 1163h0M433 1157h0M435 1152h0M446 1156h0M440 1151h0M429 1154h0M443 1161h0M441 1167h0M428 1150h0M432 1146h0M437 1145h0" stroke="#de3b17"/><path d="M429 1141h0M435 1155h0M435 1146h0M432 1153h0M436 1147h0M435 1141h0M440 1153h0M435 1148h0M436 1160h0" stroke="#dc2e15"/><path d="M440 1156h0M437 1152h0M435 1160h0M433 1159h0M441 1157h0M439 1166h0M437 1148h0M444 1156h0M443 1161h0M434 1145h0M432 1153h0M442 1158h0M432 1152h0M436 1146h0M439 1160h0M428 1150h0M429 1150h0M437 1152h0" stroke="#da2112"/><path d="M437 1157h0M444 1159h0M432 1147h0M440 1158h0M438 1147h0M440 1147h0M430 1146h0" stroke="#d71410"/><path d="M438 1157h0M443 1162h0M440 1148h0M433 1142h0M441 1163h0M439 1153h0" stroke="#cc130f"/><path d="M445 1159h0" stroke="#c1120f"/><path d="M438 1150h0M436 1146h0M437 1147h0M435 1152h0M439 1149h0" stroke="#b6110e"/><path d="M438 1147h0M433 1150h0M433 1143h0M432 1156h0M438 1158h0" stroke="#ab100e"/><path d="M442 1155h0" stroke="#8b0d0c"/></g>
<path d="M270.0 960.6V1397.0M227.8 1353.4H649.8M354.4 960.6V1397.0M227.8 1266.1H649.8M438.8 960.6V1397.0M227.8 1178.8H649.8M523.2 960.6V1397.0M227.8 1091.5H649.8M607.6 960.6V1397.0M227.8 1004.2H649.8" stroke="#000" stroke-opacity="0.55" stroke-width="1.6" stroke-dasharray="1.6 5.1" fill="none"/>
<path d="M270.0 960.6v9M270.0 1397.0v-9M227.8 1353.4h9M649.8 1353.4h-9M354.4 960.6v9M354.4 1397.0v-9M227.8 1266.1h9M649.8 1266.1h-9M438.8 960.6v9M438.8 1397.0v-9M227.8 1178.8h9M649.8 1178.8h-9M523.2 960.6v9M523.2 1397.0v-9M227.8 1091.5h9M649.8 1091.5h-9M607.6 960.6v9M607.6 1397.0v-9M227.8 1004.2h9M649.8 1004.2h-9" stroke="#333" stroke-width="1.8" fill="none"/>
<circle cx="412.6" cy="1118.6" r="6.2" fill="#a812bf" stroke="#111" stroke-width="2"/>
<rect x="227.8" y="960.6" width="422.0" height="436.4" fill="none" stroke="#333" stroke-width="2"/>
<text transform="translate(306.18 1006.20) scale(0.9350 1)" font-size="39" fill="#377b1b">G196S (G214S)</text>
</g>
<g>
<g fill="none" stroke-width="10" stroke-linecap="round"><path d="M890 1275h0M979 1132h0M864 1083h0M979 1138h0" stroke="#040487"/><path d="M695 1129h0M925 1090h0M809 1231h0M933 1259h0M905 1087h0M861 1251h0M900 1089h0M967 1131h0" stroke="#040592"/><path d="M938 1246h0M934 1251h0M699 1185h0M724 1122h0M875 1092h0M907 1094h0M814 1121h0M916 1262h0M856 1244h0M947 1215h0M829 1235h0M730 1124h0M713 1194h0M719 1198h0M955 1149h0M910 1263h0M701 1137h0M889 1094h0M855 1242h0" stroke="#05069e"/><path d="M949 1116h0M903 1095h0M694 1168h0M881 1094h0M802 1133h0M797 1221h0M846 1239h0M921 1256h0M763 1215h0M835 1107h0M954 1131h0M890 1096h0M769 1128h0M723 1198h0M816 1128h0M941 1225h0M925 1250h0M825 1117h0M752 1128h0M954 1139h0M882 1096h0M831 1112h0M757 1212h0M946 1181h0M951 1145h0M856 1100h0M704 1136h0" stroke="#0508aa"/><path d="M946 1188h0M947 1154h0M843 1236h0M938 1228h0M731 1199h0M945 1202h0M849 1105h0M721 1128h0M921 1251h0M906 1100h0M773 1214h0M700 1148h0M724 1195h0M941 1220h0M944 1161h0M818 1138h0M708 1184h0M944 1166h0M820 1138h0M837 1111h0M710 1134h0M721 1129h0M921 1105h0M817 1225h0M830 1118h0M729 1128h0M776 1214h0M701 1170h0M786 1215h0M889 1262h0M945 1151h0M778 1133h0M943 1203h0M934 1231h0" stroke="#0609b5"/><path d="M808 1139h0M825 1130h0M749 1132h0M872 1100h0M771 1132h0M715 1133h0M825 1127h0M819 1139h0M942 1183h0M869 1102h0M745 1132h0M932 1114h0M743 1132h0M829 1124h0M827 1130h0M904 1103h0M826 1129h0M934 1229h0M762 1132h0M942 1190h0M821 1145h0M775 1134h0M945 1134h0M836 1231h0M839 1232h0M749 1133h0M767 1133h0M713 1136h0M943 1134h0M896 1102h0M934 1117h0M883 1258h0M713 1135h0M937 1218h0M928 1235h0M703 1155h0M934 1118h0M848 1233h0M794 1139h0M898 1103h0M933 1229h0M913 1107h0" stroke="#060ac0"/><path d="M941 1190h0M828 1141h0M940 1205h0M827 1147h0M827 1143h0M940 1177h0M931 1231h0M704 1169h0M931 1116h0M710 1178h0M943 1133h0M941 1135h0M832 1129h0M705 1169h0M865 1237h0M737 1197h0M867 1106h0M938 1126h0M761 1209h0M785 1213h0M821 1148h0M811 1145h0M704 1170h0M941 1131h0M834 1125h0M899 1104h0M926 1112h0M846 1231h0M869 1106h0M803 1142h0M940 1192h0M941 1126h0M708 1177h0M750 1203h0M906 1106h0M794 1139h0M703 1152h0M831 1134h0M709 1179h0M941 1140h0M838 1121h0M742 1201h0M851 1233h0M720 1187h0M886 1258h0M941 1134h0M775 1136h0M834 1149h0M707 1145h0M845 1115h0M835 1127h0M905 1106h0M785 1137h0M789 1212h0M828 1226h0M703 1154h0M794 1140h0M940 1150h0M719 1135h0M714 1184h0M725 1190h0M833 1135h0M864 1235h0M810 1217h0M707 1173h0M814 1220h0M704 1163h0M710 1177h0M836 1145h0M830 1152h0M939 1177h0M939 1189h0M809 1145h0M938 1149h0M836 1129h0M929 1227h0M852 1232h0M870 1239h0M939 1147h0M932 1224h0M839 1122h0M899 1107h0M704 1155h0M705 1154h0M836 1149h0" stroke="#060bcc"/><path d="M904 1108h0M710 1144h0M932 1122h0M704 1162h0M708 1147h0M921 1112h0M835 1132h0M937 1165h0M838 1124h0M861 1109h0M847 1116h0M726 1189h0M724 1134h0M851 1231h0M879 1253h0M937 1159h0M900 1260h0M744 1136h0M867 1235h0M835 1144h0M755 1138h0M810 1215h0M931 1224h0M936 1208h0M908 1110h0M739 1195h0M856 1232h0M836 1147h0M708 1173h0M839 1124h0M871 1241h0M768 1208h0M837 1154h0M913 1253h0M839 1146h0M936 1168h0M838 1147h0M937 1154h0M775 1138h0M836 1136h0M837 1154h0M936 1209h0M938 1142h0M926 1116h0M930 1119h0M845 1119h0M849 1229h0M844 1119h0M818 1219h0M899 1109h0M729 1136h0M938 1143h0M819 1150h0M936 1175h0M725 1136h0M844 1121h0M856 1115h0M725 1137h0M913 1112h0M858 1111h0M837 1151h0M765 1138h0M757 1204h0M806 1214h0M907 1111h0M936 1172h0M918 1247h0M708 1151h0M938 1184h0M841 1148h0M920 1245h0M901 1110h0M912 1111h0M840 1155h0M719 1138h0M921 1243h0M879 1252h0M762 1205h0M935 1153h0M807 1147h0M847 1228h0M935 1133h0M897 1109h0M708 1167h0M719 1138h0M802 1145h0M841 1151h0M719 1140h0M841 1153h0M816 1218h0M933 1215h0M908 1112h0M765 1139h0M717 1140h0M789 1141h0M721 1184h0M937 1181h0M820 1218h0M923 1235h0" stroke="#070cd8"/><path d="M894 1111h0M937 1188h0M907 1114h0M936 1162h0M936 1198h0M851 1119h0M927 1226h0M772 1139h0M709 1173h0M818 1218h0M931 1124h0M936 1138h0M841 1155h0M913 1114h0M930 1125h0M901 1111h0M730 1189h0M856 1116h0M840 1141h0M804 1145h0M854 1230h0M743 1139h0M868 1111h0M848 1227h0M932 1131h0M717 1179h0M723 1139h0M872 1111h0M914 1115h0M925 1232h0M793 1210h0M767 1206h0M936 1151h0M778 1207h0M844 1151h0M935 1144h0M769 1206h0M734 1138h0M865 1114h0M843 1126h0M743 1194h0M834 1159h0M712 1173h0M928 1121h0M822 1219h0M738 1191h0M747 1197h0M846 1226h0M772 1140h0M934 1178h0M874 1242h0M761 1204h0M925 1122h0M844 1138h0M770 1205h0M856 1117h0M934 1204h0M933 1129h0M803 1211h0M736 1190h0M879 1112h0M709 1162h0M931 1217h0M930 1216h0M934 1141h0M843 1160h0M836 1221h0M710 1155h0M877 1111h0M828 1220h0M844 1142h0M825 1218h0M830 1157h0M758 1201h0M712 1146h0M782 1208h0M934 1168h0M861 1229h0M873 1113h0M738 1139h0M852 1121h0M835 1222h0M759 1141h0M934 1179h0M862 1229h0M896 1111h0M881 1111h0M859 1115h0M784 1142h0M845 1147h0M849 1125h0M723 1182h0M826 1156h0M935 1177h0M851 1225h0M847 1225h0M843 1138h0M934 1148h0M838 1221h0M749 1196h0M844 1155h0M917 1119h0M915 1119h0M846 1155h0M822 1156h0M886 1113h0M848 1135h0M797 1145h0M748 1141h0M722 1182h0M934 1176h0M759 1142h0M935 1139h0M935 1195h0M849 1225h0M883 1111h0M805 1150h0M933 1160h0M896 1111h0M864 1230h0" stroke="#070ee3"/><path d="M729 1186h0M844 1135h0M924 1124h0M847 1154h0M935 1194h0M871 1234h0M793 1209h0M932 1161h0M798 1146h0M846 1149h0M761 1202h0M922 1233h0M894 1113h0M793 1144h0M792 1208h0M742 1141h0M930 1211h0M845 1148h0M847 1222h0M890 1113h0M898 1114h0M813 1152h0M883 1113h0M748 1196h0M803 1149h0M716 1174h0M921 1237h0M779 1206h0M901 1115h0M752 1144h0M904 1116h0M828 1159h0M881 1113h0M763 1142h0M846 1158h0M860 1227h0M934 1191h0M871 1232h0M721 1141h0M736 1189h0M727 1184h0M777 1142h0M754 1143h0M855 1120h0M933 1152h0M926 1125h0M846 1154h0M876 1118h0M920 1236h0M865 1228h0M736 1187h0M709 1156h0M933 1149h0M848 1223h0M932 1186h0M864 1119h0M804 1211h0M830 1217h0M838 1222h0M847 1142h0M787 1208h0M930 1133h0M875 1114h0M837 1217h0M845 1217h0M872 1234h0M904 1113h0M842 1220h0M883 1115h0M847 1151h0M929 1129h0M820 1215h0M929 1214h0M783 1205h0M774 1143h0M927 1220h0M815 1213h0M929 1131h0M865 1228h0M932 1158h0M932 1157h0M828 1159h0M921 1228h0M918 1124h0M804 1150h0M721 1145h0M733 1140h0M717 1153h0M925 1220h0M931 1179h0M928 1216h0M774 1203h0M760 1199h0M872 1233h0M900 1115h0M802 1148h0M739 1141h0M874 1116h0M888 1116h0M879 1114h0M835 1216h0M855 1125h0M878 1115h0M931 1163h0M871 1233h0M851 1129h0M898 1257h0M912 1119h0M900 1117h0M930 1177h0M930 1175h0M932 1164h0M931 1141h0M831 1218h0M769 1202h0M792 1146h0M822 1214h0M931 1164h0M872 1116h0M932 1188h0M788 1207h0M737 1141h0M931 1139h0M714 1151h0M788 1145h0M716 1170h0M719 1146h0M890 1115h0M929 1172h0M750 1193h0M851 1132h0M732 1140h0M729 1182h0M722 1178h0M926 1215h0M864 1120h0M868 1117h0M834 1213h0M920 1125h0M931 1197h0M719 1147h0M820 1212h0" stroke="#080fee"/><path d="M866 1121h0M905 1117h0M738 1186h0M817 1212h0M843 1216h0M794 1147h0M923 1225h0M932 1198h0M854 1127h0M748 1142h0M931 1200h0M856 1126h0M735 1187h0M892 1117h0M737 1141h0M716 1172h0M868 1120h0M715 1162h0M894 1117h0M848 1147h0M726 1143h0M930 1156h0M805 1150h0M733 1180h0M907 1118h0M713 1157h0M857 1127h0M843 1217h0M841 1217h0M832 1160h0M805 1151h0M760 1199h0M837 1217h0M903 1121h0M747 1145h0M737 1143h0M907 1253h0M931 1198h0M919 1235h0M856 1223h0M857 1225h0M850 1222h0M795 1206h0M739 1185h0M929 1163h0M890 1120h0M930 1172h0M852 1222h0M897 1118h0M753 1146h0M836 1218h0M919 1124h0M735 1142h0M779 1203h0M872 1232h0M796 1148h0M885 1116h0M817 1157h0M835 1213h0M840 1214h0M757 1195h0M930 1192h0M801 1208h0M733 1183h0M740 1186h0M791 1146h0M742 1188h0M855 1129h0M902 1123h0M718 1150h0M884 1118h0M830 1162h0M864 1226h0M866 1227h0M929 1193h0M927 1215h0M766 1200h0M931 1193h0M930 1186h0M773 1201h0M929 1176h0M758 1197h0M910 1119h0M859 1131h0M843 1214h0M852 1150h0M918 1125h0M816 1212h0M835 1212h0M925 1135h0M853 1136h0M928 1146h0M716 1166h0M923 1135h0M852 1143h0M853 1152h0M739 1144h0M850 1153h0M898 1118h0M760 1146h0M919 1228h0M920 1232h0M872 1230h0M928 1170h0M753 1193h0M789 1147h0M878 1124h0M886 1121h0M718 1165h0" stroke="#0810fa"/><path d="M740 1145h0M729 1145h0M889 1123h0M855 1132h0M859 1222h0M876 1125h0M804 1206h0M874 1121h0M778 1199h0M763 1197h0M760 1195h0M719 1165h0M868 1126h0M906 1253h0M925 1212h0M882 1120h0M723 1149h0M739 1184h0M748 1147h0M879 1120h0M842 1166h0M873 1123h0M908 1123h0M732 1147h0M783 1145h0M926 1135h0M847 1213h0M773 1198h0M874 1124h0M723 1171h0M928 1205h0M919 1131h0M890 1124h0M737 1185h0M717 1158h0M877 1121h0M930 1185h0M927 1207h0M889 1126h0M905 1253h0M862 1224h0M861 1223h0M914 1245h0M922 1216h0M921 1218h0M797 1150h0M916 1242h0M740 1185h0M721 1158h0M835 1164h0M888 1120h0M779 1201h0M860 1130h0M837 1164h0M928 1161h0M844 1211h0M868 1226h0M850 1158h0M924 1136h0M776 1200h0M924 1213h0M842 1165h0M859 1135h0M918 1233h0M858 1132h0M848 1210h0M925 1144h0M833 1210h0M855 1150h0M845 1210h0M794 1149h0M844 1212h0M929 1183h0M724 1148h0M777 1198h0M890 1253h0M867 1124h0M884 1123h0M723 1167h0M874 1126h0M926 1177h0M926 1169h0M928 1185h0M928 1186h0M926 1137h0M920 1132h0M842 1211h0M921 1223h0M826 1211h0M854 1157h0M896 1128h0M905 1253h0M819 1208h0M852 1160h0M801 1206h0M858 1221h0M851 1218h0M728 1176h0M929 1181h0M720 1151h0M918 1129h0M842 1166h0M776 1147h0M881 1124h0M872 1228h0M927 1195h0M927 1170h0M892 1124h0M718 1164h0M760 1148h0M919 1128h0M747 1187h0M846 1212h0M918 1129h0M731 1176h0" stroke="#0d18f9"/><path d="M928 1179h0M868 1128h0M787 1202h0M794 1150h0M803 1204h0M879 1126h0M766 1198h0M914 1245h0M858 1129h0M720 1157h0M822 1211h0M787 1148h0M853 1217h0M722 1163h0M847 1165h0M739 1178h0M915 1133h0M877 1241h0M924 1211h0M926 1205h0M721 1150h0M871 1227h0M876 1123h0M884 1123h0M901 1126h0M752 1148h0M871 1226h0M850 1163h0M760 1146h0M928 1183h0M856 1147h0M857 1139h0M831 1164h0M910 1249h0M928 1178h0M729 1149h0M866 1132h0M732 1177h0M926 1184h0M861 1140h0M854 1154h0M864 1136h0M835 1206h0M726 1154h0M838 1168h0M864 1222h0M869 1228h0M770 1145h0M746 1185h0M927 1149h0M783 1199h0M898 1132h0M928 1140h0M757 1192h0M926 1162h0M858 1218h0M812 1157h0M872 1131h0M885 1126h0M924 1205h0M891 1131h0M896 1129h0M927 1154h0M918 1220h0M728 1172h0M923 1138h0M742 1183h0M749 1186h0M735 1176h0M903 1130h0M901 1129h0M893 1125h0M928 1173h0M855 1145h0M720 1166h0M732 1147h0M927 1195h0M915 1242h0M737 1180h0M726 1171h0M757 1192h0M925 1164h0M871 1124h0M925 1208h0M928 1176h0M914 1243h0M927 1197h0M858 1133h0M742 1148h0M843 1167h0M856 1219h0M750 1188h0M919 1139h0M923 1140h0M815 1158h0M782 1199h0M910 1126h0M789 1148h0M912 1248h0M749 1150h0M727 1172h0M856 1140h0M927 1173h0M869 1133h0M736 1179h0M805 1203h0M848 1212h0M894 1253h0M787 1201h0M926 1152h0M819 1207h0M844 1207h0M728 1157h0M865 1132h0M763 1145h0" stroke="#1220f8"/><path d="M812 1207h0M899 1130h0M877 1232h0M762 1195h0M765 1194h0M884 1125h0M865 1223h0M747 1149h0M754 1150h0M895 1131h0M926 1180h0M926 1195h0M912 1132h0M731 1170h0M925 1163h0M893 1127h0M851 1210h0M784 1148h0M842 1210h0M807 1204h0M891 1254h0M925 1198h0M904 1131h0M910 1133h0M770 1148h0M724 1159h0M723 1164h0M904 1252h0M724 1168h0M806 1205h0M901 1126h0M917 1225h0M727 1150h0M762 1148h0M927 1182h0M731 1176h0M816 1162h0M751 1186h0M790 1150h0M869 1134h0M780 1146h0M868 1133h0M924 1164h0M735 1147h0M926 1193h0M872 1134h0M922 1154h0M836 1208h0M916 1232h0M853 1212h0M892 1134h0M913 1135h0M924 1167h0M917 1238h0M864 1137h0M847 1166h0M739 1175h0M855 1154h0M735 1149h0M893 1128h0M892 1129h0M760 1193h0M884 1249h0M773 1197h0M819 1207h0M887 1131h0M830 1167h0M902 1125h0M924 1203h0M831 1207h0M850 1166h0M820 1162h0M735 1176h0M888 1130h0M879 1130h0M799 1199h0M913 1131h0M918 1144h0M924 1202h0M918 1139h0M887 1135h0M860 1144h0M904 1132h0M885 1132h0M735 1149h0M758 1189h0M926 1201h0M927 1189h0M855 1215h0M914 1136h0M923 1167h0M824 1207h0M916 1138h0M858 1150h0M729 1155h0M923 1178h0M925 1175h0M749 1154h0M926 1154h0M805 1202h0M924 1164h0M854 1158h0M858 1153h0M878 1125h0M742 1176h0M916 1229h0M899 1133h0M739 1178h0M881 1133h0M921 1142h0M927 1192h0M726 1156h0M905 1251h0M723 1159h0M925 1195h0M855 1156h0M751 1151h0M916 1226h0M860 1143h0M780 1199h0M760 1193h0M745 1149h0M790 1150h0M846 1168h0M799 1202h0M778 1149h0M911 1131h0M924 1184h0M854 1161h0M849 1166h0M855 1212h0" stroke="#1728f7"/><path d="M878 1237h0M920 1148h0M729 1154h0M888 1126h0M921 1210h0M866 1136h0M819 1207h0M907 1133h0M744 1151h0M866 1132h0M877 1131h0M860 1143h0M915 1222h0M823 1163h0M746 1151h0M923 1201h0M748 1178h0M923 1151h0M870 1132h0M773 1147h0M872 1134h0M904 1135h0M851 1208h0M731 1165h0M922 1163h0M732 1150h0M807 1157h0M838 1205h0M729 1163h0M729 1159h0M832 1200h0M734 1152h0M924 1177h0M744 1166h0M920 1139h0M761 1192h0M922 1137h0M745 1150h0M925 1192h0M778 1149h0M740 1174h0M732 1173h0M742 1176h0M794 1152h0M825 1165h0M741 1156h0M726 1155h0M874 1227h0M867 1136h0M737 1157h0M871 1133h0M832 1169h0M763 1193h0M771 1195h0M888 1129h0M847 1207h0M923 1185h0M879 1239h0M880 1136h0M896 1254h0M915 1136h0M786 1198h0M842 1171h0M922 1206h0M734 1154h0M731 1160h0M912 1138h0M750 1179h0M749 1182h0M729 1161h0M921 1156h0M855 1162h0M785 1148h0M892 1131h0M739 1162h0M749 1179h0M728 1171h0M916 1224h0M861 1145h0M755 1186h0M819 1162h0M863 1142h0M850 1166h0M814 1203h0M729 1161h0M817 1204h0M805 1201h0M862 1219h0M899 1136h0M838 1204h0M863 1140h0M923 1167h0M808 1202h0M779 1194h0M731 1170h0M861 1147h0M831 1171h0M905 1137h0M745 1177h0M773 1148h0M734 1158h0M923 1199h0M908 1137h0M913 1241h0M769 1149h0M922 1188h0M742 1162h0M732 1163h0M733 1163h0M885 1136h0M747 1170h0M813 1203h0M881 1133h0M919 1152h0M911 1140h0M921 1169h0M894 1133h0M841 1171h0M916 1213h0M923 1173h0M764 1193h0M737 1173h0M751 1186h0M728 1158h0M835 1179h0M752 1160h0M900 1130h0M886 1132h0" stroke="#1c30f6"/><path d="M904 1133h0M860 1152h0M775 1193h0M839 1172h0M860 1154h0M802 1200h0M923 1172h0M922 1163h0M732 1159h0M828 1207h0M908 1135h0M920 1204h0M834 1202h0M900 1135h0M876 1231h0M781 1197h0M812 1158h0M868 1139h0M858 1157h0M914 1226h0M922 1170h0M869 1142h0M923 1149h0M921 1200h0M771 1149h0M770 1190h0M911 1138h0M763 1187h0M843 1203h0M860 1216h0M920 1145h0M848 1169h0M866 1221h0M817 1161h0M789 1196h0M758 1187h0M803 1200h0M924 1184h0M739 1165h0M861 1148h0M874 1140h0M745 1174h0M769 1191h0M909 1142h0M847 1172h0M918 1203h0M752 1183h0M859 1211h0M810 1160h0M752 1171h0M757 1187h0M900 1137h0M842 1204h0M739 1171h0M921 1178h0M736 1155h0M799 1152h0M871 1135h0M914 1139h0M733 1157h0M871 1223h0M922 1193h0M923 1196h0M872 1220h0M885 1134h0M845 1172h0M863 1216h0M756 1182h0M740 1163h0M842 1201h0M886 1248h0M909 1136h0M763 1154h0M915 1143h0M751 1170h0M922 1185h0M761 1153h0M737 1157h0M919 1140h0M916 1137h0M756 1184h0M735 1163h0M897 1133h0M879 1240h0M862 1147h0M879 1136h0M733 1168h0M730 1154h0M920 1203h0M843 1204h0M825 1205h0M779 1150h0M911 1245h0M772 1189h0M913 1146h0M923 1209h0M897 1134h0M904 1136h0M851 1206h0M730 1161h0M850 1169h0" stroke="#2138f5"/><path d="M923 1182h0M899 1139h0M788 1151h0M811 1158h0M891 1252h0M753 1153h0M841 1203h0M835 1192h0M914 1215h0M742 1155h0M746 1173h0M816 1161h0M915 1222h0M743 1163h0M869 1138h0M922 1204h0M781 1193h0M761 1154h0M756 1182h0M893 1137h0M736 1156h0M898 1137h0M756 1170h0M923 1185h0M908 1142h0M837 1198h0M814 1202h0M737 1156h0M749 1168h0M765 1187h0M838 1175h0M920 1163h0M747 1177h0M746 1154h0M840 1179h0M746 1170h0M852 1204h0M889 1139h0M828 1173h0M847 1204h0M899 1136h0M748 1163h0M741 1171h0M862 1143h0M849 1201h0M775 1192h0M826 1173h0M911 1139h0M739 1153h0M747 1168h0M879 1235h0M829 1170h0M761 1155h0M857 1162h0M831 1171h0M825 1170h0M823 1202h0M740 1167h0M916 1216h0M882 1245h0M749 1154h0M802 1197h0M919 1207h0M829 1202h0M915 1216h0M920 1207h0M914 1228h0M768 1190h0M915 1226h0M830 1200h0M728 1164h0M841 1198h0M919 1204h0M906 1250h0M849 1192h0M760 1157h0M742 1161h0M918 1138h0M919 1156h0M843 1174h0M861 1213h0M890 1251h0M849 1202h0M822 1165h0M860 1157h0M894 1139h0M822 1167h0M744 1168h0M758 1186h0M829 1168h0M851 1170h0M846 1202h0M756 1160h0M741 1156h0M833 1203h0M741 1165h0M742 1168h0M784 1192h0M752 1172h0M789 1193h0M882 1242h0M749 1172h0M759 1185h0M850 1202h0M839 1174h0M915 1214h0M746 1173h0M816 1164h0M920 1162h0M884 1131h0M762 1154h0M838 1199h0M901 1251h0M874 1142h0M831 1182h0M757 1182h0M759 1186h0M892 1141h0M888 1134h0M897 1139h0M916 1214h0M864 1215h0M757 1183h0M858 1158h0M741 1170h0M753 1166h0M921 1202h0M867 1143h0M782 1151h0M881 1140h0M835 1180h0M757 1180h0M813 1201h0M758 1164h0M741 1163h0M757 1183h0M838 1203h0M878 1231h0M746 1166h0M833 1182h0M867 1148h0M895 1252h0M859 1161h0M865 1149h0M867 1216h0M835 1179h0M790 1152h0M849 1202h0" stroke="#2640f4"/><path d="M750 1165h0M896 1138h0M852 1204h0M902 1144h0M920 1175h0M900 1252h0M751 1172h0M863 1154h0M777 1191h0M768 1151h0M920 1170h0M750 1158h0M834 1182h0M826 1200h0M800 1157h0M863 1152h0M780 1152h0M914 1147h0M761 1179h0M751 1176h0M875 1224h0M916 1150h0M758 1178h0M838 1196h0M762 1155h0M868 1141h0M835 1183h0M753 1174h0M847 1172h0M922 1188h0M880 1241h0M896 1136h0M919 1196h0M824 1189h0M776 1186h0M865 1213h0M784 1193h0M788 1194h0M869 1216h0M839 1172h0M869 1217h0M796 1154h0M833 1174h0M841 1199h0M877 1137h0M859 1210h0M739 1167h0M747 1157h0M865 1143h0M903 1142h0M864 1151h0M828 1181h0M914 1212h0M913 1219h0M922 1195h0M835 1190h0M834 1175h0M743 1166h0M879 1232h0M868 1142h0M885 1248h0M748 1174h0M882 1140h0M811 1161h0M787 1155h0M765 1154h0M844 1183h0M864 1212h0M845 1175h0M742 1170h0M837 1180h0M782 1151h0M890 1139h0M921 1192h0M831 1172h0M846 1173h0M851 1203h0M767 1187h0M824 1169h0M738 1169h0M884 1143h0M760 1169h0M909 1149h0M772 1189h0M759 1173h0M860 1155h0M888 1140h0M763 1186h0M831 1185h0M851 1169h0M794 1191h0M782 1155h0M762 1174h0M847 1175h0M828 1181h0M810 1161h0M912 1219h0M814 1196h0M844 1184h0M889 1140h0M838 1187h0M837 1201h0M776 1186h0M828 1171h0M878 1227h0M842 1199h0M915 1214h0M859 1163h0M824 1201h0M844 1171h0M847 1194h0M892 1139h0M833 1182h0M843 1185h0M864 1213h0M797 1197h0M826 1171h0M772 1187h0M903 1138h0M752 1167h0M826 1174h0M761 1180h0M805 1159h0M804 1194h0M757 1157h0M858 1207h0M774 1191h0M836 1192h0M804 1198h0M911 1220h0M918 1171h0M765 1182h0M842 1194h0M758 1181h0M794 1153h0M786 1154h0M864 1148h0M838 1175h0M912 1211h0M834 1199h0" stroke="#2b48f3"/><path d="M832 1179h0M759 1173h0M834 1182h0M837 1196h0M917 1157h0M762 1171h0M813 1164h0M820 1203h0M860 1158h0M749 1169h0M792 1194h0M820 1167h0M911 1243h0M916 1206h0M780 1189h0M843 1184h0M841 1178h0M914 1214h0M873 1139h0M806 1160h0M842 1179h0M841 1186h0M809 1160h0M841 1185h0M791 1179h0M758 1180h0M768 1177h0M758 1172h0M777 1186h0M762 1180h0M854 1202h0M888 1248h0M759 1181h0M806 1159h0M876 1221h0M744 1160h0M780 1151h0M916 1204h0M883 1244h0M762 1181h0M803 1199h0M836 1194h0M840 1190h0M808 1162h0M919 1192h0M762 1170h0M894 1143h0M833 1187h0M862 1155h0M873 1145h0M873 1219h0M818 1166h0M786 1192h0M841 1199h0M859 1164h0M842 1179h0M776 1152h0M888 1137h0M794 1194h0M760 1177h0M848 1174h0M919 1194h0M834 1183h0M855 1205h0M844 1178h0M826 1196h0M910 1241h0M764 1165h0M817 1167h0M864 1210h0M917 1177h0M834 1180h0M905 1144h0M914 1164h0M897 1250h0M772 1153h0M852 1199h0M836 1181h0M920 1198h0M879 1138h0M839 1196h0M804 1197h0M911 1243h0M907 1247h0M896 1141h0M892 1142h0M763 1185h0M914 1209h0M832 1183h0M867 1212h0M915 1149h0M829 1179h0M841 1188h0M909 1149h0M873 1143h0M800 1192h0M749 1166h0M763 1186h0M769 1187h0M767 1177h0M801 1195h0M822 1169h0M764 1177h0M891 1143h0M829 1174h0M915 1155h0M856 1203h0M766 1179h0M806 1160h0M881 1240h0M910 1219h0M830 1179h0M799 1160h0M863 1211h0M767 1184h0M852 1200h0M904 1146h0M914 1151h0M766 1157h0M790 1156h0M865 1149h0M874 1218h0M770 1157h0M833 1197h0M767 1185h0M860 1206h0M916 1205h0M918 1202h0M830 1181h0M792 1190h0M763 1170h0M848 1201h0M877 1143h0M762 1171h0M843 1192h0M830 1189h0M792 1154h0M760 1161h0M849 1197h0M808 1197h0M913 1237h0M912 1160h0M860 1163h0M835 1192h0M902 1147h0M914 1158h0M786 1178h0M811 1198h0" stroke="#3050f2"/><path d="M912 1156h0M840 1187h0M919 1193h0M824 1182h0M779 1186h0M888 1247h0M838 1183h0M855 1172h0M815 1167h0M751 1168h0M801 1161h0M772 1187h0M812 1197h0M784 1180h0M841 1184h0M873 1218h0M799 1156h0M864 1212h0M915 1200h0M772 1178h0M805 1197h0M889 1144h0M847 1192h0M883 1241h0M916 1201h0M793 1188h0M912 1214h0M826 1177h0M798 1162h0M773 1189h0M808 1161h0M798 1193h0M843 1183h0M769 1185h0M917 1184h0M764 1183h0M765 1175h0M820 1198h0M784 1191h0M917 1192h0M916 1209h0M866 1154h0M766 1181h0M918 1201h0M824 1178h0M861 1162h0M849 1177h0M844 1193h0M915 1212h0M859 1200h0M872 1146h0M895 1142h0M762 1169h0M830 1190h0M844 1176h0M857 1169h0M880 1142h0M766 1156h0M801 1160h0M915 1158h0M769 1173h0M881 1229h0M781 1189h0M804 1162h0M918 1172h0M871 1147h0M826 1192h0M869 1147h0M894 1143h0M766 1156h0M824 1174h0M777 1183h0M852 1171h0M818 1186h0M912 1156h0M880 1236h0M798 1194h0M862 1211h0M789 1175h0M911 1226h0M833 1183h0M762 1160h0M813 1168h0M827 1172h0M783 1188h0M762 1169h0M848 1190h0M847 1177h0M805 1196h0M909 1243h0M822 1174h0M915 1207h0M784 1153h0M910 1222h0M869 1151h0M766 1174h0M761 1175h0M918 1188h0M827 1186h0M863 1210h0M824 1174h0M765 1162h0M794 1193h0M915 1171h0M884 1241h0M829 1182h0M822 1189h0M887 1246h0M763 1171h0M772 1181h0M810 1195h0M787 1188h0M809 1193h0M910 1147h0M917 1184h0M781 1183h0M868 1154h0M864 1209h0M774 1181h0M773 1181h0M839 1190h0M778 1182h0M916 1160h0M767 1180h0M858 1204h0M861 1206h0M867 1149h0M813 1197h0M891 1142h0M769 1160h0M912 1155h0M839 1184h0M914 1157h0M827 1189h0M910 1238h0M851 1195h0M786 1182h0M868 1150h0M827 1191h0M767 1181h0M797 1185h0M917 1175h0M819 1177h0M900 1249h0M844 1177h0M909 1242h0M763 1178h0M911 1154h0M761 1164h0M917 1211h0M825 1193h0" stroke="#3558f1"/><path d="M865 1213h0M911 1215h0M827 1188h0M857 1205h0M852 1196h0M767 1158h0M913 1151h0M774 1181h0M869 1211h0M768 1156h0M888 1247h0M905 1246h0M848 1183h0M823 1179h0M800 1192h0M912 1227h0M880 1231h0M823 1185h0M759 1166h0M824 1192h0M824 1186h0M904 1247h0M769 1175h0M914 1155h0M863 1164h0M852 1174h0M770 1174h0M899 1248h0M848 1179h0M771 1176h0M783 1156h0M916 1202h0M825 1197h0M912 1231h0M868 1209h0M768 1183h0M916 1188h0M918 1183h0M825 1171h0M766 1173h0M808 1165h0M796 1186h0M875 1146h0M879 1222h0M821 1183h0M806 1190h0M772 1172h0M820 1186h0M889 1146h0M912 1154h0M826 1199h0M840 1184h0M772 1178h0M828 1175h0M797 1161h0M821 1190h0M823 1184h0M920 1191h0M780 1177h0M848 1179h0M794 1186h0M791 1157h0M878 1224h0M816 1196h0M854 1198h0M794 1186h0M765 1181h0M772 1171h0M786 1183h0M915 1188h0M887 1142h0M807 1195h0M822 1201h0M767 1168h0M915 1203h0M765 1159h0M903 1145h0M763 1171h0M773 1179h0M896 1145h0M912 1231h0M903 1249h0M861 1159h0M851 1196h0M792 1189h0M848 1197h0M823 1193h0M776 1155h0M782 1154h0M870 1151h0M807 1194h0M909 1223h0M812 1198h0M764 1169h0M876 1219h0M764 1164h0M763 1163h0M914 1201h0M906 1215h0M810 1196h0M809 1164h0M818 1177h0M782 1182h0M865 1163h0M910 1224h0M919 1170h0M822 1195h0M773 1155h0M867 1206h0M783 1176h0M789 1186h0M879 1225h0M848 1179h0M917 1189h0M787 1182h0M897 1147h0M799 1190h0M814 1196h0M825 1188h0M816 1189h0M872 1148h0M778 1187h0M880 1229h0M797 1159h0M903 1246h0M849 1185h0M808 1176h0M824 1178h0M808 1193h0M879 1146h0M870 1151h0M905 1246h0M850 1173h0M846 1192h0M912 1209h0M767 1157h0M808 1165h0M849 1186h0M820 1176h0M911 1155h0M771 1172h0M917 1184h0M907 1244h0M861 1163h0M813 1165h0" stroke="#3a60f0"/><path d="M780 1177h0M853 1197h0M818 1176h0M773 1157h0M804 1161h0M774 1174h0M793 1183h0M770 1171h0M912 1212h0M785 1158h0M818 1189h0M772 1182h0M804 1162h0M793 1185h0M791 1173h0M771 1177h0M804 1188h0M851 1179h0M807 1192h0M782 1179h0M811 1177h0M891 1150h0M917 1173h0M868 1150h0M822 1185h0M806 1162h0M813 1174h0M917 1175h0M865 1214h0M915 1192h0M818 1178h0M808 1170h0M910 1235h0M864 1207h0M884 1237h0M850 1177h0M798 1189h0M765 1165h0M778 1178h0M889 1143h0M910 1216h0M850 1189h0M869 1151h0M900 1150h0M812 1164h0M774 1178h0M814 1176h0M904 1244h0M789 1175h0M812 1167h0M914 1165h0M817 1198h0M773 1160h0M886 1245h0M776 1171h0M849 1191h0M799 1187h0M878 1144h0M813 1192h0M818 1192h0M814 1189h0M814 1169h0M823 1199h0M783 1176h0M808 1188h0M804 1163h0M791 1158h0M814 1191h0M915 1172h0M773 1174h0M801 1178h0M882 1233h0M821 1181h0M820 1193h0M770 1161h0M784 1176h0M798 1190h0M820 1186h0M781 1156h0M828 1194h0M773 1174h0M818 1191h0M824 1183h0M912 1201h0M767 1178h0M910 1166h0M804 1184h0M783 1181h0M811 1194h0M774 1173h0M780 1174h0M890 1148h0M792 1184h0M883 1236h0M886 1245h0M768 1159h0M784 1173h0M807 1167h0M881 1148h0M778 1186h0M820 1191h0M813 1170h0M863 1205h0M910 1235h0M906 1245h0M787 1175h0M890 1148h0M788 1180h0M813 1186h0M849 1188h0M892 1249h0M881 1229h0M908 1223h0M778 1160h0M866 1157h0M782 1181h0M886 1242h0M777 1172h0M906 1244h0M869 1156h0M772 1168h0M817 1180h0M784 1176h0M813 1174h0M796 1180h0M812 1192h0M805 1193h0M911 1236h0M808 1187h0M810 1194h0M822 1174h0M856 1178h0M819 1183h0M779 1158h0M880 1222h0M772 1181h0M792 1176h0M851 1182h0M877 1218h0M799 1177h0M891 1146h0M808 1170h0M803 1189h0M769 1160h0M911 1231h0" stroke="#3f6eef"/><path d="M776 1161h0M817 1185h0M785 1158h0M798 1160h0M772 1161h0M817 1170h0M818 1177h0M811 1181h0M890 1147h0M814 1182h0M916 1180h0M916 1196h0M802 1182h0M881 1221h0M868 1155h0M779 1162h0M815 1186h0M774 1171h0M810 1185h0M773 1170h0M873 1152h0M911 1154h0M868 1154h0M823 1180h0M913 1182h0M866 1161h0M906 1213h0M867 1209h0M869 1212h0M876 1217h0M910 1226h0M800 1188h0M871 1211h0M791 1173h0M911 1232h0M916 1195h0M798 1165h0M798 1186h0M854 1196h0M793 1164h0M819 1193h0M804 1174h0M805 1170h0M784 1178h0M785 1156h0M781 1183h0M880 1150h0M864 1164h0M802 1192h0M767 1170h0M815 1196h0M897 1247h0M800 1185h0M863 1166h0M915 1189h0M857 1197h0M875 1218h0M909 1218h0M909 1157h0M878 1149h0M914 1165h0M811 1183h0M806 1178h0M884 1239h0M787 1180h0M883 1147h0M855 1186h0M796 1183h0M904 1245h0M903 1148h0M814 1195h0M804 1179h0M798 1165h0M799 1189h0M770 1164h0M898 1247h0M854 1195h0M918 1194h0M872 1150h0M804 1174h0M855 1189h0M871 1152h0M911 1159h0M902 1154h0M778 1159h0M811 1187h0M854 1178h0M869 1160h0M912 1198h0M798 1173h0M890 1246h0M786 1183h0M803 1188h0M804 1187h0M900 1148h0M805 1186h0M781 1160h0M900 1246h0M863 1202h0M802 1188h0M793 1163h0M812 1172h0M852 1179h0M798 1187h0M863 1205h0M821 1186h0M899 1147h0M802 1164h0M800 1184h0M896 1246h0M825 1189h0M863 1202h0M777 1181h0M908 1225h0M790 1188h0" stroke="#457bee"/><path d="M788 1180h0M915 1181h0M869 1155h0M806 1167h0M785 1175h0M786 1167h0M915 1194h0M781 1170h0M809 1177h0M789 1160h0M793 1171h0M883 1237h0M808 1176h0M908 1214h0M914 1186h0M777 1175h0M789 1180h0M877 1154h0M806 1172h0M913 1166h0M865 1204h0M796 1167h0M893 1246h0M911 1157h0M807 1181h0M795 1162h0M816 1184h0M903 1245h0M819 1179h0M772 1167h0M794 1181h0M890 1146h0M802 1165h0M912 1176h0M881 1145h0M879 1217h0M809 1188h0M909 1224h0M802 1190h0M910 1233h0M789 1176h0M816 1192h0M776 1166h0M884 1144h0M872 1155h0M853 1177h0M903 1154h0M790 1177h0M802 1179h0M789 1159h0M800 1169h0M815 1190h0M864 1167h0M860 1173h0M850 1181h0M798 1163h0M817 1185h0M909 1210h0M907 1213h0M891 1243h0M878 1218h0M800 1183h0M910 1157h0M806 1190h0M871 1207h0M790 1171h0M788 1170h0M906 1153h0M871 1211h0M781 1174h0M807 1173h0M804 1172h0M781 1170h0M854 1188h0M786 1161h0M908 1152h0M868 1168h0M804 1179h0M812 1183h0M870 1155h0M905 1241h0M909 1164h0M775 1165h0M813 1196h0M892 1244h0M782 1166h0M882 1215h0M788 1183h0M865 1202h0M909 1240h0M869 1207h0M787 1163h0M900 1156h0M818 1189h0M853 1178h0M778 1159h0M810 1166h0M812 1185h0M788 1162h0M876 1149h0M869 1153h0M914 1176h0M817 1177h0M773 1160h0M779 1165h0M794 1177h0M913 1197h0M851 1179h0M873 1153h0M913 1184h0M886 1242h0M770 1165h0M775 1163h0M912 1166h0M786 1168h0M784 1176h0M775 1166h0M867 1203h0M862 1169h0M799 1165h0M881 1149h0M869 1208h0M862 1202h0M787 1172h0M883 1220h0M890 1242h0M894 1146h0M799 1177h0M909 1220h0M882 1148h0M796 1184h0M786 1158h0M778 1163h0" stroke="#4a89ee"/><path d="M906 1153h0M775 1173h0M791 1175h0M908 1161h0M809 1178h0M913 1180h0M790 1170h0M887 1239h0M800 1171h0M802 1181h0M898 1245h0M862 1172h0M885 1233h0M896 1245h0M816 1181h0M851 1186h0M877 1152h0M891 1151h0M862 1174h0M911 1230h0M869 1209h0M913 1182h0M854 1192h0M785 1173h0M877 1156h0M791 1165h0M887 1147h0M905 1155h0M906 1159h0M814 1180h0M900 1243h0M792 1165h0M789 1162h0M812 1183h0M877 1216h0M803 1183h0M800 1183h0M789 1162h0M865 1167h0M907 1163h0M871 1213h0M886 1225h0M783 1172h0M808 1177h0M878 1149h0M883 1220h0M792 1173h0M858 1185h0M808 1170h0M801 1173h0M883 1228h0M862 1173h0M772 1165h0M787 1161h0M785 1175h0M774 1160h0M911 1172h0M864 1168h0M892 1148h0M908 1212h0M914 1194h0M787 1183h0M916 1192h0M885 1235h0M911 1170h0M868 1203h0M852 1181h0M882 1152h0M774 1167h0M892 1245h0M912 1181h0M909 1231h0M815 1176h0M799 1162h0M851 1189h0M905 1238h0M914 1181h0M907 1155h0M892 1152h0M916 1190h0M907 1205h0M857 1177h0M800 1170h0M865 1200h0M790 1169h0M813 1187h0M784 1162h0M867 1163h0M908 1225h0M887 1241h0M900 1244h0M802 1175h0M872 1207h0M879 1215h0M910 1179h0M813 1180h0M900 1244h0M863 1199h0M873 1210h0M886 1223h0M914 1199h0M804 1178h0M854 1189h0M873 1201h0M906 1160h0M909 1158h0M800 1186h0M908 1211h0M800 1178h0M823 1189h0M906 1208h0M774 1163h0M894 1151h0M906 1225h0M807 1174h0M857 1184h0M892 1241h0M897 1152h0M886 1223h0M860 1188h0M892 1153h0M902 1153h0M784 1162h0M885 1215h0M775 1163h0M780 1167h0M862 1169h0M856 1189h0" stroke="#5096ed"/><path d="M884 1154h0M887 1243h0M861 1194h0M905 1160h0M914 1197h0M872 1159h0M911 1173h0M793 1178h0M801 1186h0M783 1161h0M903 1215h0M898 1217h0M780 1172h0M793 1176h0M815 1186h0M787 1167h0M909 1168h0M908 1205h0M876 1215h0M907 1213h0M900 1154h0M807 1172h0M797 1162h0M869 1204h0M779 1168h0M807 1174h0M870 1167h0M908 1232h0M883 1227h0M864 1180h0M811 1180h0M890 1153h0M782 1162h0M870 1168h0M864 1201h0M783 1163h0M907 1162h0M876 1151h0M805 1179h0M906 1157h0M911 1165h0M860 1185h0M784 1161h0M867 1196h0M882 1210h0M859 1187h0M906 1164h0M781 1157h0M772 1167h0M908 1209h0M778 1164h0M875 1152h0M861 1184h0M857 1187h0M907 1169h0M812 1180h0M906 1235h0M802 1183h0M910 1179h0M883 1213h0M885 1154h0M869 1164h0M904 1221h0M909 1171h0M903 1240h0M899 1242h0M907 1234h0M884 1215h0M881 1215h0M891 1241h0M871 1202h0M784 1172h0M885 1225h0M909 1181h0M866 1205h0M914 1179h0M894 1156h0M801 1174h0M896 1154h0M906 1205h0M878 1215h0M867 1167h0M887 1237h0M861 1197h0M886 1235h0M866 1170h0M907 1163h0M903 1214h0M901 1215h0M780 1164h0M894 1153h0" stroke="#55a4ec"/><path d="M876 1173h0M909 1201h0M880 1216h0M905 1158h0M793 1166h0M887 1216h0M862 1175h0M862 1175h0M913 1189h0M909 1177h0M806 1177h0M779 1163h0M894 1243h0M868 1207h0M894 1238h0M888 1231h0M898 1237h0M884 1149h0M899 1239h0M793 1174h0M878 1209h0M888 1233h0M863 1186h0M858 1182h0M857 1188h0M894 1242h0M910 1175h0M877 1172h0M794 1167h0M909 1193h0M785 1167h0M885 1239h0M877 1210h0M859 1192h0M861 1173h0M894 1246h0M908 1181h0M859 1195h0M871 1172h0M868 1171h0M890 1155h0M905 1161h0M874 1161h0M896 1243h0M893 1243h0M790 1170h0M905 1169h0M875 1163h0M882 1152h0M784 1163h0M779 1165h0M877 1192h0M886 1177h0M792 1163h0M904 1225h0M906 1234h0M859 1182h0M861 1190h0M878 1211h0M866 1203h0M905 1168h0M886 1212h0M779 1165h0M856 1181h0M893 1156h0M872 1201h0M868 1201h0M789 1160h0M877 1212h0M889 1153h0M780 1169h0M892 1239h0M796 1170h0M868 1196h0M900 1245h0M884 1217h0M787 1168h0M907 1172h0M892 1155h0M890 1217h0M897 1158h0M865 1171h0M898 1238h0M898 1238h0M873 1207h0M898 1242h0M868 1202h0M857 1184h0M862 1182h0M875 1199h0M862 1187h0M871 1204h0" stroke="#5ab2eb"/><path d="M886 1236h0M895 1163h0M877 1168h0M899 1157h0M888 1230h0M904 1224h0M890 1153h0M892 1157h0M875 1156h0M884 1216h0M892 1241h0M895 1216h0M906 1208h0M885 1232h0M869 1173h0M880 1211h0M906 1169h0M906 1171h0M863 1188h0M863 1174h0M904 1222h0M861 1184h0M872 1206h0M863 1194h0M909 1200h0M875 1162h0M894 1158h0M860 1178h0M875 1167h0M873 1204h0M909 1201h0M869 1177h0M862 1174h0M900 1214h0M909 1205h0M892 1220h0M871 1203h0M873 1162h0M899 1160h0M799 1171h0M899 1239h0M879 1152h0M887 1219h0M892 1237h0M894 1212h0M887 1219h0M871 1161h0M907 1168h0M903 1172h0M879 1166h0M894 1218h0M906 1162h0M897 1242h0M873 1169h0M877 1207h0M883 1164h0M871 1156h0M875 1166h0M902 1211h0M861 1181h0M887 1235h0M781 1163h0M871 1160h0M896 1217h0M878 1157h0M889 1210h0M873 1174h0M859 1183h0M885 1231h0M888 1218h0M906 1191h0M902 1219h0M911 1173h0M882 1211h0M898 1168h0M888 1153h0M909 1190h0M909 1174h0M911 1177h0M888 1222h0M908 1199h0M899 1153h0M876 1203h0M900 1158h0M899 1210h0M895 1158h0M894 1155h0M882 1206h0M876 1172h0M900 1238h0M901 1223h0M896 1162h0M888 1157h0M874 1158h0M861 1182h0" stroke="#60bfea"/><path d="M861 1180h0M876 1174h0M861 1193h0M888 1155h0M876 1160h0M892 1213h0M908 1172h0M891 1238h0M896 1157h0M871 1201h0M889 1182h0M787 1167h0M889 1214h0M906 1233h0M887 1156h0M881 1182h0M792 1168h0M878 1165h0M889 1224h0M885 1153h0M872 1163h0M872 1160h0M910 1185h0M871 1173h0M880 1164h0M904 1162h0M888 1216h0M886 1154h0M906 1162h0M911 1179h0M884 1156h0M901 1240h0M872 1206h0M887 1209h0M875 1203h0M856 1184h0M860 1184h0M868 1188h0M884 1214h0M896 1240h0M872 1168h0M884 1166h0M910 1174h0M907 1230h0M880 1177h0M868 1172h0M871 1200h0M893 1239h0M894 1240h0M871 1203h0M878 1199h0M780 1165h0M863 1186h0M797 1172h0M906 1203h0M896 1223h0M864 1180h0M877 1157h0M898 1213h0M901 1211h0M883 1155h0M891 1160h0M887 1161h0M882 1211h0M888 1227h0M867 1200h0M877 1170h0M906 1174h0M899 1228h0M886 1187h0M885 1209h0M879 1166h0M906 1168h0M891 1227h0M881 1178h0M872 1176h0M893 1221h0M906 1185h0M867 1201h0M902 1173h0M909 1177h0M870 1196h0M878 1168h0M876 1178h0M870 1171h0M884 1167h0M903 1205h0M909 1177h0M896 1159h0M882 1210h0M872 1172h0M890 1223h0M879 1168h0M894 1208h0M891 1217h0M865 1177h0M867 1196h0M896 1239h0M893 1164h0M870 1195h0M896 1231h0M889 1237h0M909 1187h0M888 1230h0M893 1219h0M874 1206h0M891 1172h0M876 1196h0M869 1195h0M899 1211h0" stroke="#65cdea"/><path d="M889 1168h0M869 1183h0M874 1203h0M866 1193h0M884 1210h0M859 1180h0M878 1181h0M876 1169h0M861 1188h0M906 1167h0M877 1209h0M868 1176h0M907 1195h0M882 1208h0M895 1216h0M860 1178h0M886 1161h0M904 1170h0M881 1161h0M883 1172h0M888 1156h0M893 1238h0M894 1155h0M878 1166h0M885 1165h0M904 1204h0M901 1221h0M890 1236h0M898 1241h0M900 1236h0M880 1164h0M902 1178h0M875 1172h0M891 1204h0M895 1176h0M879 1163h0M860 1179h0M894 1162h0M878 1172h0M889 1230h0M886 1233h0M904 1237h0M904 1164h0M881 1209h0M890 1207h0M897 1220h0M895 1233h0M871 1174h0M895 1219h0M877 1174h0M896 1240h0M884 1188h0M908 1200h0M887 1155h0M906 1188h0M886 1177h0M888 1229h0M899 1234h0M876 1194h0M871 1180h0M901 1161h0M890 1233h0M876 1188h0M872 1167h0M902 1167h0M867 1171h0M906 1236h0M890 1167h0M887 1230h0M879 1167h0M873 1190h0M867 1189h0M900 1216h0M872 1188h0M891 1187h0M869 1200h0M888 1172h0M893 1171h0M905 1168h0M889 1165h0M865 1191h0M893 1181h0M904 1168h0M868 1182h0M893 1220h0M888 1192h0M887 1160h0M862 1183h0M895 1164h0M882 1167h0M876 1202h0" stroke="#6bdae9"/><path d="M885 1216h0M893 1220h0M903 1173h0M871 1192h0M873 1202h0M881 1169h0M894 1160h0M884 1160h0M874 1200h0M867 1177h0M904 1204h0M896 1237h0M895 1163h0M891 1163h0M897 1236h0M887 1173h0M864 1184h0M866 1189h0M868 1194h0M904 1183h0M900 1226h0M888 1163h0M895 1160h0M898 1234h0M894 1217h0M874 1161h0M878 1188h0M881 1159h0M871 1190h0M898 1206h0M902 1234h0M874 1180h0M890 1219h0M899 1230h0M896 1181h0M903 1203h0M892 1221h0M873 1203h0M875 1173h0M909 1184h0M904 1171h0M873 1177h0M863 1187h0M878 1179h0M865 1179h0M905 1182h0M868 1194h0M902 1229h0M897 1216h0M877 1194h0M890 1215h0M903 1166h0M907 1176h0M886 1174h0M894 1230h0M896 1234h0M891 1172h0M903 1230h0M906 1176h0M895 1213h0M864 1194h0M892 1212h0M883 1207h0M882 1189h0M877 1201h0M885 1189h0M877 1181h0M897 1221h0M879 1205h0M900 1169h0M872 1195h0M904 1226h0M897 1161h0M900 1228h0M872 1173h0M894 1176h0M904 1185h0M892 1168h0M905 1190h0M894 1168h0M886 1172h0M866 1188h0M898 1233h0M901 1234h0M904 1184h0M871 1179h0M876 1161h0M905 1202h0M872 1179h0M897 1215h0M880 1186h0M879 1183h0M904 1228h0M908 1180h0M884 1160h0M883 1203h0M862 1179h0M888 1172h0M903 1172h0M902 1233h0M905 1189h0M875 1192h0M897 1174h0M888 1162h0M884 1166h0M900 1179h0M886 1167h0M875 1188h0M902 1234h0" stroke="#70e8e8"/><path d="M894 1164h0M887 1179h0M889 1184h0M876 1177h0M902 1174h0M882 1190h0M884 1204h0M889 1156h0M892 1214h0M889 1166h0M883 1187h0M898 1174h0M904 1186h0M894 1223h0M898 1210h0M867 1180h0M872 1193h0M908 1176h0M863 1181h0M908 1193h0M874 1198h0M869 1185h0M868 1199h0M882 1190h0M901 1178h0M899 1167h0M877 1200h0M872 1179h0M881 1188h0M908 1181h0M897 1233h0M879 1202h0M866 1181h0M893 1160h0M892 1205h0M901 1206h0M884 1166h0M866 1190h0M886 1207h0M900 1176h0M879 1188h0M881 1200h0M887 1209h0M895 1170h0M907 1186h0M887 1183h0M873 1169h0M877 1197h0M873 1194h0M895 1186h0M875 1186h0M888 1181h0M893 1223h0M883 1167h0M871 1190h0M889 1228h0M870 1177h0M890 1212h0M888 1210h0M873 1195h0M904 1196h0M894 1167h0M883 1191h0M886 1196h0M898 1197h0M901 1211h0M891 1215h0M901 1190h0M875 1189h0M868 1179h0M902 1163h0M900 1164h0M890 1205h0M885 1185h0M890 1168h0M860 1189h0M907 1187h0M903 1199h0M887 1211h0M879 1190h0M895 1212h0M885 1167h0M885 1207h0M890 1231h0M865 1192h0M899 1192h0M879 1190h0M894 1234h0M875 1186h0M905 1199h0M903 1179h0M903 1192h0M899 1206h0M894 1231h0M902 1234h0M882 1192h0M908 1191h0M899 1234h0" stroke="#76eadf"/><path d="M902 1231h0M897 1232h0M904 1182h0M900 1209h0M889 1220h0M887 1212h0M904 1206h0M903 1199h0M866 1188h0M895 1209h0M886 1204h0M873 1183h0M877 1201h0M882 1162h0M875 1186h0M899 1165h0M878 1202h0M883 1195h0M877 1198h0M885 1203h0M867 1190h0M891 1233h0M880 1175h0M892 1172h0M867 1192h0M906 1196h0M902 1229h0M892 1173h0M886 1232h0M894 1171h0M904 1189h0M874 1177h0M893 1196h0M902 1196h0M898 1185h0M902 1182h0M872 1180h0M900 1181h0M888 1182h0M870 1181h0M901 1166h0M885 1208h0M902 1171h0M884 1172h0M904 1198h0M889 1179h0M891 1199h0M878 1168h0M895 1183h0M884 1171h0M867 1194h0M892 1171h0M877 1163h0M893 1199h0M901 1170h0M879 1185h0M904 1174h0M879 1197h0M888 1188h0M891 1176h0M890 1202h0M890 1167h0M888 1177h0M881 1206h0M903 1173h0M873 1180h0M903 1187h0M899 1231h0M876 1200h0M904 1200h0M891 1221h0M872 1179h0M898 1186h0M883 1183h0M869 1185h0M887 1183h0M883 1191h0M886 1186h0M905 1200h0M869 1177h0M877 1194h0M902 1186h0M878 1186h0M897 1175h0M891 1196h0M901 1202h0M875 1195h0M882 1200h0" stroke="#7bebd6"/><path d="M870 1190h0M902 1190h0M887 1173h0M886 1176h0M875 1193h0M881 1191h0M899 1186h0M883 1193h0M897 1167h0M895 1203h0M891 1197h0M885 1195h0M900 1203h0M895 1183h0M895 1181h0M893 1179h0M881 1185h0M896 1175h0M892 1211h0M873 1184h0M881 1192h0M894 1229h0M892 1197h0M902 1184h0M888 1178h0M892 1175h0M896 1227h0M882 1184h0M875 1202h0M863 1187h0M887 1189h0M891 1199h0M895 1175h0M867 1186h0M898 1224h0M891 1231h0M873 1189h0M891 1176h0M890 1206h0M898 1164h0M895 1195h0M901 1178h0M886 1202h0M893 1187h0M892 1205h0M897 1189h0M895 1232h0M869 1193h0M891 1161h0M894 1198h0M905 1188h0M899 1185h0M888 1197h0M892 1180h0M876 1192h0M900 1178h0M891 1232h0M894 1187h0M891 1188h0M896 1185h0M888 1168h0M883 1206h0M878 1202h0M881 1193h0M883 1196h0M896 1203h0M885 1208h0M890 1184h0M899 1226h0M885 1166h0M877 1202h0M894 1182h0" stroke="#81edce"/><path d="M867 1183h0M901 1184h0M884 1189h0M896 1197h0M897 1231h0M874 1198h0M902 1183h0M893 1193h0M889 1205h0M890 1167h0M896 1188h0M901 1183h0M901 1194h0M898 1199h0M886 1194h0M887 1175h0M897 1176h0M892 1203h0M885 1194h0M884 1187h0M885 1201h0M893 1207h0M884 1189h0M899 1188h0M899 1203h0M895 1228h0M889 1208h0M892 1190h0M896 1230h0M893 1191h0M892 1188h0M887 1187h0M877 1191h0M902 1183h0M895 1223h0M880 1172h0M899 1197h0M896 1202h0M889 1182h0M893 1181h0M882 1197h0M880 1200h0M893 1168h0M883 1204h0M891 1205h0M902 1187h0M872 1188h0M889 1193h0M872 1182h0M902 1189h0M892 1200h0" stroke="#86eec5"/><path d="M904 1182h0M896 1202h0M895 1168h0M901 1198h0M901 1185h0M899 1197h0M888 1206h0M887 1184h0M889 1201h0M877 1196h0M900 1178h0M893 1186h0M887 1196h0M884 1200h0M895 1202h0M896 1190h0M897 1188h0M886 1191h0M894 1203h0M896 1174h0M897 1188h0M895 1191h0M892 1204h0M898 1186h0M903 1179h0M896 1194h0M893 1175h0M882 1195h0M898 1198h0M884 1167h0" stroke="#8cf0bc"/><path d="M901 1191h0M881 1184h0M894 1185h0M901 1185h0M896 1197h0M884 1178h0M889 1186h0M886 1192h0M897 1188h0M899 1199h0M899 1176h0M895 1198h0M890 1190h0M878 1196h0M899 1192h0M895 1186h0M892 1163h0M886 1199h0" stroke="#92f2b3"/><path d="M884 1200h0M897 1186h0M894 1186h0M902 1200h0M897 1193h0M883 1189h0M895 1180h0M890 1193h0M898 1188h0M892 1191h0M900 1190h0M896 1192h0" stroke="#97f3aa"/><path d="M891 1203h0M889 1194h0M896 1171h0M893 1198h0M894 1193h0M888 1198h0" stroke="#9df5a2"/><path d="M888 1194h0M902 1179h0" stroke="#a2f699"/><path d="M895 1192h0M893 1191h0" stroke="#a8f890"/><path d="M890 1193h0" stroke="#b0f786"/></g>
<path d="M712.4 960.6V1397.0M670.2 1353.4H1092.2M796.8 960.6V1397.0M670.2 1266.1H1092.2M881.2 960.6V1397.0M670.2 1178.8H1092.2M965.6 960.6V1397.0M670.2 1091.5H1092.2M1050.0 960.6V1397.0M670.2 1004.2H1092.2" stroke="#000" stroke-opacity="0.55" stroke-width="1.6" stroke-dasharray="1.6 5.1" fill="none"/>
<path d="M712.4 960.6v9M712.4 1397.0v-9M670.2 1353.4h9M1092.2 1353.4h-9M796.8 960.6v9M796.8 1397.0v-9M670.2 1266.1h9M1092.2 1266.1h-9M881.2 960.6v9M881.2 1397.0v-9M670.2 1178.8h9M1092.2 1178.8h-9M965.6 960.6v9M965.6 1397.0v-9M670.2 1091.5h9M1092.2 1091.5h-9M1050.0 960.6v9M1050.0 1397.0v-9M670.2 1004.2h9M1092.2 1004.2h-9" stroke="#333" stroke-width="1.8" fill="none"/>
<circle cx="855.0" cy="1118.6" r="6.2" fill="#a812bf" stroke="#111" stroke-width="2"/>
<rect x="670.2" y="960.6" width="422.0" height="436.4" fill="none" stroke="#333" stroke-width="2"/>
<text transform="translate(747.76 1006.20) scale(0.9430 1)" font-size="39" fill="#cc1111">G197A (G215A)</text>
</g>
<text transform="translate(264.2 1433.8) scale(1.000 1)" font-size="37.5" text-anchor="middle">-2</text>
<text transform="translate(349.1 1433.8) scale(1.000 1)" font-size="37.5" text-anchor="middle">-1</text>
<text transform="translate(437.0 1433.8) scale(1.000 1)" font-size="37.5" text-anchor="middle">0</text>
<text transform="translate(521.9 1433.8) scale(1.000 1)" font-size="37.5" text-anchor="middle">1</text>
<text transform="translate(602.8 1433.8) scale(1.000 1)" font-size="37.5" text-anchor="middle">2</text>
<text transform="translate(706.6 1433.8) scale(1.000 1)" font-size="37.5" text-anchor="middle">-2</text>
<text transform="translate(791.5 1433.8) scale(1.000 1)" font-size="37.5" text-anchor="middle">-1</text>
<text transform="translate(879.4 1433.8) scale(1.000 1)" font-size="37.5" text-anchor="middle">0</text>
<text transform="translate(964.3 1433.8) scale(1.000 1)" font-size="37.5" text-anchor="middle">1</text>
<text transform="translate(1045.2 1433.8) scale(1.000 1)" font-size="37.5" text-anchor="middle">2</text>
<text transform="translate(208.7 901.6) rotate(-90) scale(1.000 1)" font-size="38.5" text-anchor="middle">-2</text>
<text transform="translate(208.7 814.3) rotate(-90) scale(1.000 1)" font-size="38.5" text-anchor="middle">-1</text>
<text transform="translate(208.7 727.0) rotate(-90) scale(1.000 1)" font-size="38.5" text-anchor="middle">0</text>
<text transform="translate(208.7 639.7) rotate(-90) scale(1.000 1)" font-size="38.5" text-anchor="middle">1</text>
<text transform="translate(208.7 552.4) rotate(-90) scale(1.000 1)" font-size="38.5" text-anchor="middle">2</text>
<text transform="translate(208.7 1353.1) rotate(-90) scale(1.000 1)" font-size="38.5" text-anchor="middle">-2</text>
<text transform="translate(208.7 1265.8) rotate(-90) scale(1.000 1)" font-size="38.5" text-anchor="middle">-1</text>
<text transform="translate(208.7 1178.5) rotate(-90) scale(1.000 1)" font-size="38.5" text-anchor="middle">0</text>
<text transform="translate(208.7 1091.2) rotate(-90) scale(1.000 1)" font-size="38.5" text-anchor="middle">1</text>
<text transform="translate(208.7 1003.9) rotate(-90) scale(1.000 1)" font-size="38.5" text-anchor="middle">2</text>
<text transform="translate(612.79 1486.50) scale(0.8780 1)" font-size="50">PC1</text>
<text transform="translate(152.00 998.21) rotate(-90) scale(0.9450 1)" font-size="50.4">PC2</text>
<defs><linearGradient id="cb" x1="0" y1="1" x2="0" y2="0"><stop offset="0.0000" stop-color="#040487"/><stop offset="0.1250" stop-color="#0810fa"/><stop offset="0.2500" stop-color="#3a60f0"/><stop offset="0.3750" stop-color="#70e8e8"/><stop offset="0.5000" stop-color="#a8f890"/><stop offset="0.6250" stop-color="#f8f030"/><stop offset="0.7500" stop-color="#f09628"/><stop offset="0.8750" stop-color="#d71410"/><stop offset="1.0000" stop-color="#6a0a0a"/></linearGradient></defs>
<rect x="1119.0" y="508.6" width="27.8" height="886.4" fill="url(#cb)" stroke="#111" stroke-width="2"/>
<text transform="translate(1158.1 1397.3) scale(1.000 1)" font-size="32">0.00</text>
<text transform="translate(1158.1 1309.8) scale(1.000 1)" font-size="32">0.15</text>
<text transform="translate(1158.1 1222.4) scale(1.000 1)" font-size="32">0.30</text>
<text transform="translate(1158.1 1135.0) scale(1.000 1)" font-size="32">0.45</text>
<text transform="translate(1158.1 1047.5) scale(1.000 1)" font-size="32">0.60</text>
<text transform="translate(1158.1 960.0) scale(1.000 1)" font-size="32">0.75</text>
<text transform="translate(1158.1 872.6) scale(1.000 1)" font-size="32">0.90</text>
<text transform="translate(1155.4 785.1) scale(1.000 1)" font-size="32">1.05</text>
<text transform="translate(1155.4 697.7) scale(1.000 1)" font-size="32">1.20</text>
<text transform="translate(1155.4 610.2) scale(1.000 1)" font-size="32">1.35</text>
<text transform="translate(1155.4 522.8) scale(1.000 1)" font-size="32">1.50</text>
<path d="M1146.8 1306.4h-6M1146.8 1217.7h-6M1146.8 1129.1h-6M1146.8 1040.4h-6M1146.8 951.8h-6M1146.8 863.2h-6M1146.8 774.5h-6M1146.8 685.9h-6M1146.8 597.2h-6" stroke="#111" stroke-width="1.6"/>
<text transform="translate(1119.62 489.70) scale(1.0000 1)" font-size="37.2">Density</text></svg>
</body></html>
